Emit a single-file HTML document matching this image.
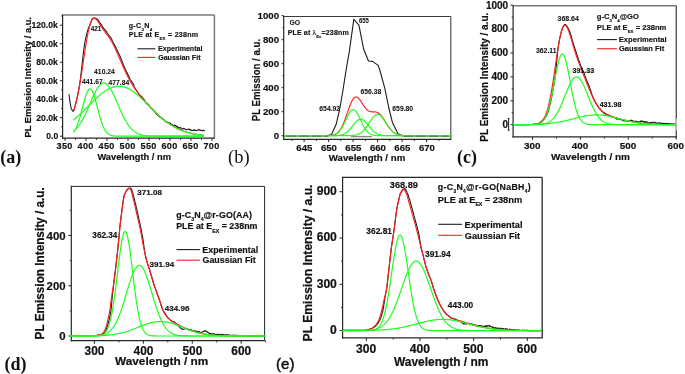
<!DOCTYPE html>
<html><head><meta charset="utf-8"><style>
html,body{margin:0;padding:0;background:#fff;}
svg{display:block;filter:blur(0.4px);}
</style></head><body>
<svg width="685" height="374" viewBox="0 0 685 374" xmlns="http://www.w3.org/2000/svg">
<rect width="685" height="374" fill="#fff"/>
<line x1="62.6" y1="15" x2="214.4" y2="15" stroke="#7a7a7a" stroke-width="1.5"/>
<line x1="214.4" y1="15" x2="214.4" y2="138.1" stroke="#7a7a7a" stroke-width="1.5"/>
<line x1="62.6" y1="14.4" x2="62.6" y2="138.7" stroke="#262626" stroke-width="1.2"/>
<line x1="62" y1="138.1" x2="215" y2="138.1" stroke="#262626" stroke-width="1.2"/>
<line x1="61.1" y1="126.95" x2="62.6" y2="126.95" stroke="#262626" stroke-width="0.9"/>
<line x1="61.1" y1="108.45" x2="62.6" y2="108.45" stroke="#262626" stroke-width="0.9"/>
<line x1="61.1" y1="89.95" x2="62.6" y2="89.95" stroke="#262626" stroke-width="0.9"/>
<line x1="61.1" y1="71.45" x2="62.6" y2="71.45" stroke="#262626" stroke-width="0.9"/>
<line x1="61.1" y1="52.95" x2="62.6" y2="52.95" stroke="#262626" stroke-width="0.9"/>
<line x1="61.1" y1="34.45" x2="62.6" y2="34.45" stroke="#262626" stroke-width="0.9"/>
<line x1="61.1" y1="15.95" x2="62.6" y2="15.95" stroke="#262626" stroke-width="0.9"/>
<line x1="60" y1="136.2" x2="62.6" y2="136.2" stroke="#262626" stroke-width="1.0"/>
<text x="46.21" y="139.1" font-size="8.6" font-weight="bold" font-family='"Liberation Sans", sans-serif' fill="#111" stroke="#111" stroke-width="0.16" textLength="11.96" lengthAdjust="spacing">0.0</text>
<line x1="60" y1="117.7" x2="62.6" y2="117.7" stroke="#262626" stroke-width="1.0"/>
<text x="36.32" y="120.6" font-size="8.6" font-weight="bold" font-family='"Liberation Sans", sans-serif' fill="#111" stroke="#111" stroke-width="0.16" textLength="21.52" lengthAdjust="spacing">20.0k</text>
<line x1="60" y1="99.2" x2="62.6" y2="99.2" stroke="#262626" stroke-width="1.0"/>
<text x="36.32" y="102.1" font-size="8.6" font-weight="bold" font-family='"Liberation Sans", sans-serif' fill="#111" stroke="#111" stroke-width="0.16" textLength="21.52" lengthAdjust="spacing">40.0k</text>
<line x1="60" y1="80.7" x2="62.6" y2="80.7" stroke="#262626" stroke-width="1.0"/>
<text x="36.32" y="83.6" font-size="8.6" font-weight="bold" font-family='"Liberation Sans", sans-serif' fill="#111" stroke="#111" stroke-width="0.16" textLength="21.52" lengthAdjust="spacing">60.0k</text>
<line x1="60" y1="62.2" x2="62.6" y2="62.2" stroke="#262626" stroke-width="1.0"/>
<text x="36.32" y="65.1" font-size="8.6" font-weight="bold" font-family='"Liberation Sans", sans-serif' fill="#111" stroke="#111" stroke-width="0.16" textLength="21.52" lengthAdjust="spacing">80.0k</text>
<line x1="60" y1="43.7" x2="62.6" y2="43.7" stroke="#262626" stroke-width="1.0"/>
<text x="31.51" y="46.6" font-size="8.6" font-weight="bold" font-family='"Liberation Sans", sans-serif' fill="#111" stroke="#111" stroke-width="0.16" textLength="26.3" lengthAdjust="spacing">100.0k</text>
<line x1="60" y1="25.2" x2="62.6" y2="25.2" stroke="#262626" stroke-width="1.0"/>
<text x="31.51" y="28.1" font-size="8.6" font-weight="bold" font-family='"Liberation Sans", sans-serif' fill="#111" stroke="#111" stroke-width="0.16" textLength="26.3" lengthAdjust="spacing">120.0k</text>
<line x1="75.5" y1="138.1" x2="75.5" y2="139.9" stroke="#262626" stroke-width="0.9"/>
<line x1="96.5" y1="138.1" x2="96.5" y2="139.9" stroke="#262626" stroke-width="0.9"/>
<line x1="117.5" y1="138.1" x2="117.5" y2="139.9" stroke="#262626" stroke-width="0.9"/>
<line x1="138.5" y1="138.1" x2="138.5" y2="139.9" stroke="#262626" stroke-width="0.9"/>
<line x1="159.5" y1="138.1" x2="159.5" y2="139.9" stroke="#262626" stroke-width="0.9"/>
<line x1="180.5" y1="138.1" x2="180.5" y2="139.9" stroke="#262626" stroke-width="0.9"/>
<line x1="201.5" y1="138.1" x2="201.5" y2="139.9" stroke="#262626" stroke-width="0.9"/>
<line x1="65" y1="138.1" x2="65" y2="140.9" stroke="#262626" stroke-width="1.0"/>
<text x="56.49" y="149" font-size="9.1" font-weight="bold" font-family='"Liberation Sans", sans-serif' fill="#111" stroke="#111" stroke-width="0.17" textLength="15.88" lengthAdjust="spacing">350</text>
<line x1="86" y1="138.1" x2="86" y2="140.9" stroke="#262626" stroke-width="1.0"/>
<text x="77.54" y="149" font-size="9.1" font-weight="bold" font-family='"Liberation Sans", sans-serif' fill="#111" stroke="#111" stroke-width="0.17" textLength="15.88" lengthAdjust="spacing">400</text>
<line x1="107" y1="138.1" x2="107" y2="140.9" stroke="#262626" stroke-width="1.0"/>
<text x="98.54" y="149" font-size="9.1" font-weight="bold" font-family='"Liberation Sans", sans-serif' fill="#111" stroke="#111" stroke-width="0.17" textLength="15.88" lengthAdjust="spacing">450</text>
<line x1="128" y1="138.1" x2="128" y2="140.9" stroke="#262626" stroke-width="1.0"/>
<text x="119.47" y="149" font-size="9.1" font-weight="bold" font-family='"Liberation Sans", sans-serif' fill="#111" stroke="#111" stroke-width="0.17" textLength="15.88" lengthAdjust="spacing">500</text>
<line x1="149" y1="138.1" x2="149" y2="140.9" stroke="#262626" stroke-width="1.0"/>
<text x="140.47" y="149" font-size="9.1" font-weight="bold" font-family='"Liberation Sans", sans-serif' fill="#111" stroke="#111" stroke-width="0.17" textLength="15.88" lengthAdjust="spacing">550</text>
<line x1="170" y1="138.1" x2="170" y2="140.9" stroke="#262626" stroke-width="1.0"/>
<text x="161.45" y="149" font-size="9.1" font-weight="bold" font-family='"Liberation Sans", sans-serif' fill="#111" stroke="#111" stroke-width="0.17" textLength="15.88" lengthAdjust="spacing">600</text>
<line x1="191" y1="138.1" x2="191" y2="140.9" stroke="#262626" stroke-width="1.0"/>
<text x="182.45" y="149" font-size="9.1" font-weight="bold" font-family='"Liberation Sans", sans-serif' fill="#111" stroke="#111" stroke-width="0.17" textLength="15.88" lengthAdjust="spacing">650</text>
<line x1="212" y1="138.1" x2="212" y2="140.9" stroke="#262626" stroke-width="1.0"/>
<text x="203.4" y="149" font-size="9.1" font-weight="bold" font-family='"Liberation Sans", sans-serif' fill="#111" stroke="#111" stroke-width="0.17" textLength="15.88" lengthAdjust="spacing">700</text>
<text x="97.38" y="160.3" font-size="9.3" font-weight="bold" font-family='"Liberation Sans", sans-serif' fill="#111" stroke="#111" stroke-width="0.17" textLength="73.54" lengthAdjust="spacing">Wavelength / nm</text>
<text transform="translate(30.74,137.53) scale(1.04,1) rotate(-90)" font-size="9.32" font-weight="bold" font-family='"Liberation Sans", sans-serif' fill="#111" stroke="#111" stroke-width="0.17" textLength="120.5" lengthAdjust="spacing">PL Emission Intensity / a.u.</text>
<path d="M69,94.2 L70,102 L71.2,108.5 L72.8,111.3 L73.4,111.26 L73.91,109.83 L74.41,108.23 L74.92,106.73 L75.42,104.67 L75.93,102.82 L76.43,100.53 L76.94,98.44 L77.44,96.03 L77.95,93.48 L78.46,91.16 L78.96,88.74 L79.47,85.51 L79.97,82.08 L80.48,78.52 L80.98,74.09 L81.49,69.75 L82,65.15 L82.5,60.57 L83.01,56.28 L83.51,52.09 L84.02,48.08 L84.52,44.64 L85.03,41.73 L85.53,39.01 L86.04,36.85 L86.55,34.7 L87.05,32.91 L87.56,30.97 L88.06,29.24 L88.57,27.93 L89.07,26.77 L89.58,25.48 L90.09,24.31 L90.59,23.11 L91.1,21.58 L91.6,20.23 L92.13,19 L92.77,18.38 L93.4,17.96 L94.03,18.01 L94.66,17.93 L95.29,18.47 L95.93,18.68 L96.56,18.75 L97.15,18.81 L97.66,19.65 L98.16,19.99 L98.67,20.75 L99.18,21.71 L99.68,22.4 L100.19,23.03 L100.69,24.01 L101.2,24.41 L101.7,25.04 L102.21,25.98 L102.71,26.94 L103.22,27.69 L103.73,28.35 L104.23,29.17 L104.74,29.74 L105.24,29.92 L105.75,30.62 L106.25,31.32 L106.76,32.16 L107.27,33.02 L107.77,33.76 L108.28,34.4 L108.78,35.05 L109.29,35.8 L109.79,36.33 L110.3,37.2 L110.8,37.66 L111.31,38.53 L111.82,39.53 L112.32,40.77 L112.83,41.58 L113.33,42.87 L113.84,43.77 L114.34,44.41 L114.85,45.43 L115.35,46.65 L115.86,47.25 L116.37,48.77 L116.87,49.76 L117.38,50.53 L117.88,51.74 L118.39,53.02 L118.89,53.78 L119.4,54.87 L119.91,55.95 L120.41,57.03 L120.92,58.17 L121.42,59.52 L121.93,60.88 L122.43,62.26 L122.94,63.65 L123.44,64.95 L123.95,66.09 L124.46,67.52 L124.96,68.49 L125.47,69.15 L125.97,70.49 L126.48,71.72 L126.98,72.43 L127.49,73.49 L128,74.85 L128.5,75.88 L129.01,76.52 L129.51,77.89 L130.02,79.24 L130.52,80.1 L131.03,80.72 L131.53,81.56 L132.04,81.92 L132.55,82.82 L133.04,83.45 L133.42,84.47 L133.8,85.4 L134.18,86.67 L134.56,87.27 L134.93,88.1 L135.31,88.58 L135.69,89.61 L136.1,89.92 L136.6,90.41 L137.11,91.25 L137.61,92.31 L138.12,92.92 L138.62,93.69 L139.13,94.73 L139.64,95.16 L140.14,95.32 L140.65,95.74 L141.15,96.45 L141.66,96.57 L142.16,97.15 L142.67,97.94 L143.17,98.7 L143.68,99.1 L144.19,99.85 L144.69,100.83 L145.2,101.75 L145.7,102.36 L146.21,103.24 L146.71,103.92 L147.22,104.04 L147.73,104.05 L148.23,104.23 L148.74,104.9 L149.24,105.5 L149.75,106.51 L150.25,107.03 L150.76,107.91 L151.26,108.19 L151.77,108.73 L152.28,108.88 L152.78,109.95 L153.29,110.14 L153.79,110.68 L154.3,111.19 L154.8,112.02 L155.31,112.37 L155.82,113.22 L156.32,113.84 L156.83,114.43 L157.33,114.59 L157.84,115.04 L158.34,115.62 L158.85,116.13 L159.35,116.31 L159.86,117.01 L160.37,117.56 L160.87,117.82 L161.38,118.12 L161.88,118.54 L162.39,118.85 L162.89,119.13 L163.4,119.27 L163.91,119.66 L164.41,120.36 L164.92,120.87 L165.42,121.27 L165.93,121.77 L166.43,122.15 L166.94,122.23 L167.44,122.29 L167.95,122.66 L168.46,122.78 L168.96,123.08 L169.47,123.05 L169.97,123.42 L170.48,123.13 L170.98,124.19 L171.49,124.34 L172,124.35 L172.5,124.84 L173.01,125.29 L173.51,125.74 L174.02,125.72 L174.52,125.13 L175.03,125.32 L175.53,125.93 L176.04,125.68 L176.55,126.72 L177.05,126.36 L177.56,126.85 L178.06,127.7 L178.57,127.48 L179.07,128.22 L179.58,128.08 L180.08,127.36 L180.59,127.46 L181.1,128.46 L181.6,129.12 L182.11,128.8 L182.61,128.86 L183.12,128.91 L183.62,128.2 L184.13,128.29 L184.64,128.87 L185.14,129.19 L185.65,129.25 L186.15,129.81 L186.66,129.76 L187.16,129.71 L187.67,129.4 L188.17,128.96 L188.68,129.43 L189.19,129.3 L189.69,129.71 L190.2,129.34 L190.7,130.23 L191.21,130.5 L191.71,130.14 L192.22,130.3 L192.73,130.49 L193.23,130.36 L193.74,130.64 L194.24,129.62 L194.75,130.21 L195.25,130.35 L195.76,130.17 L196.26,130.43 L196.77,130.73 L197.28,130.38 L197.78,129.98 L198.29,129.92 L198.79,129.39 L199.3,129.73 L199.8,130.29 L200.31,130.36 L200.82,130.12 L201.32,130.49 L201.83,130.64 L202.33,130.6 L202.84,130.29 L203.34,130.34 L203.85,130.39 L204.35,130.64 L204.86,130.37" fill="none" stroke="#1c1c1c" stroke-width="1.1" stroke-linejoin="round" />
<path d="M73.4,111.26 L73.83,110.04 L74.27,108.73 L74.7,107.34 L75.14,105.86 L75.57,104.3 L76,102.64 L76.44,100.89 L76.87,99.04 L77.31,97.09 L77.74,95.05 L78.17,92.91 L78.61,90.67 L79.04,88.34 L79.48,85.92 L79.91,83.42 L80.34,80.83 L80.78,78.17 L81.21,75.45 L81.65,72.67 L82.08,69.84 L82.51,66.97 L82.95,64.08 L83.38,61.18 L83.82,58.27 L84.25,55.38 L84.68,52.52 L85.12,49.7 L85.55,46.94 L85.99,44.24 L86.42,41.63 L86.85,39.11 L87.29,36.71 L87.72,34.42 L88.16,32.26 L88.59,30.24 L89.02,28.36 L89.46,26.64 L89.89,25.08 L90.33,23.68 L90.76,22.44 L91.19,21.37 L91.63,20.45 L92.06,19.7 L92.5,19.1 L92.93,18.65 L93.36,18.34 L93.8,18.17 L94.23,18.12 L94.67,18.19 L95.1,18.36 L95.53,18.63 L95.97,18.99 L96.4,19.42 L96.84,19.91 L97.27,20.46 L97.7,21.06 L98.14,21.69 L98.57,22.34 L99.01,23.02 L99.44,23.7 L99.87,24.39 L100.31,25.09 L100.74,25.77 L101.18,26.45 L101.61,27.12 L102.04,27.78 L102.48,28.43 L102.91,29.06 L103.35,29.67 L103.78,30.28 L104.21,30.87 L104.65,31.46 L105.08,32.03 L105.52,32.6 L105.95,33.17 L106.38,33.74 L106.82,34.31 L107.25,34.89 L107.69,35.47 L108.12,36.07 L108.55,36.68 L108.99,37.3 L109.42,37.94 L109.86,38.6 L110.29,39.27 L110.72,39.97 L111.16,40.69 L111.59,41.43 L112.03,42.2 L112.46,42.98 L112.89,43.79 L113.33,44.62 L113.76,45.47 L114.2,46.35 L114.63,47.24 L115.06,48.15 L115.5,49.08 L115.93,50.02 L116.37,50.98 L116.8,51.95 L117.23,52.93 L117.67,53.92 L118.1,54.92 L118.54,55.93 L118.97,56.94 L119.4,57.95 L119.84,58.97 L120.27,59.99 L120.71,61 L121.14,62.02 L121.57,63.03 L122.01,64.04 L122.44,65.03 L122.88,66.03 L123.31,67.01 L123.74,67.99 L124.18,68.95 L124.61,69.9 L125.05,70.85 L125.48,71.78 L125.91,72.69 L126.35,73.6 L126.78,74.49 L127.22,75.37 L127.65,76.23 L128.08,77.08 L128.52,77.91 L128.95,78.73 L129.39,79.53 L129.82,80.33 L130.25,81.1 L130.69,81.86 L131.12,82.61 L131.56,83.35 L131.99,84.07 L132.42,84.77 L132.86,85.47 L133.29,86.15 L133.73,86.82 L134.16,87.48 L134.59,88.13 L135.03,88.76 L135.46,89.39 L135.9,90.01 L136.33,90.61 L136.76,91.21 L137.2,91.8 L137.63,92.38 L138.07,92.95 L138.5,93.51 L138.93,94.07 L139.37,94.62 L139.8,95.16 L140.24,95.7 L140.67,96.23 L141.1,96.76 L141.54,97.28 L141.97,97.79 L142.41,98.3 L142.84,98.81 L143.27,99.31 L143.71,99.81 L144.14,100.31 L144.58,100.8 L145.01,101.29 L145.44,101.77 L145.88,102.26 L146.31,102.73 L146.75,103.21 L147.18,103.68 L147.61,104.16 L148.05,104.62 L148.48,105.09 L148.92,105.55 L149.35,106.01 L149.78,106.47 L150.22,106.93 L150.65,107.38 L151.09,107.83 L151.52,108.28 L151.95,108.73 L152.39,109.17 L152.82,109.61 L153.26,110.05 L153.69,110.48 L154.12,110.92 L154.56,111.35 L154.99,111.77 L155.43,112.2 L155.86,112.62 L156.29,113.04 L156.73,113.45 L157.16,113.87 L157.6,114.27 L158.03,114.68 L158.46,115.08 L158.9,115.48 L159.33,115.88 L159.77,116.27 L160.2,116.65 L160.63,117.04 L161.07,117.42 L161.5,117.79 L161.94,118.17 L162.37,118.54 L162.8,118.9 L163.24,119.26 L163.67,119.62 L164.11,119.97 L164.54,120.32 L164.97,120.66 L165.41,121 L165.84,121.33 L166.28,121.66 L166.71,121.99 L167.14,122.31 L167.58,122.63 L168.01,122.94 L168.45,123.25 L168.88,123.55 L169.31,123.85 L169.75,124.14 L170.18,124.43 L170.62,124.72 L171.05,125 L171.48,125.27 L171.92,125.55 L172.35,125.81 L172.79,126.07 L173.22,126.33 L173.65,126.58 L174.09,126.83 L174.52,127.08 L174.96,127.32 L175.39,127.55 L175.82,127.78 L176.26,128.01 L176.69,128.23 L177.13,128.44 L177.56,128.66 L177.99,128.87 L178.43,129.07 L178.86,129.27 L179.3,129.46 L179.73,129.66 L180.16,129.84 L180.6,130.03 L181.03,130.21 L181.47,130.38 L181.9,130.55 L182.33,130.72 L182.77,130.88 L183.2,131.04 L183.64,131.2 L184.07,131.35 L184.5,131.5 L184.94,131.64 L185.37,131.79 L185.81,131.92 L186.24,132.06 L186.67,132.19 L187.11,132.32 L187.54,132.44 L187.98,132.56 L188.41,132.68 L188.84,132.79 L189.28,132.91 L189.71,133.01 L190.15,133.12 L190.58,133.22 L191.01,133.32 L191.45,133.42 L191.88,133.52 L192.32,133.61 L192.75,133.7 L193.18,133.78 L193.62,133.87 L194.05,133.95 L194.49,134.03 L194.92,134.1 L195.35,134.18 L195.79,134.25 L196.22,134.32 L196.66,134.39 L197.09,134.46 L197.52,134.52 L197.96,134.58 L198.39,134.64 L198.83,134.7 L199.26,134.76 L199.69,134.81 L200.13,134.86 L200.56,134.91 L201,134.96 L201.43,135.01 L201.86,135.06 L202.3,135.1 L202.73,135.14 L203.17,135.18 L203.6,135.22" fill="none" stroke="#ff1e1e" stroke-width="1.15" stroke-linejoin="round" />
<path d="M73.4,132.28 L73.83,131.74 L74.27,131.15 L74.7,130.5 L75.14,129.78 L75.57,129 L76,128.15 L76.44,127.23 L76.87,126.24 L77.31,125.17 L77.74,124.04 L78.17,122.83 L78.61,121.56 L79.04,120.22 L79.48,118.81 L79.91,117.35 L80.34,115.83 L80.78,114.27 L81.21,112.66 L81.65,111.02 L82.08,109.36 L82.51,107.69 L82.95,106.02 L83.38,104.36 L83.82,102.72 L84.25,101.12 L84.68,99.56 L85.12,98.07 L85.55,96.65 L85.99,95.31 L86.42,94.08 L86.85,92.96 L87.29,91.95 L87.72,91.08 L88.16,90.35 L88.59,89.76 L89.02,89.33 L89.46,89.05 L89.89,88.94 L90.33,88.98 L90.76,89.19 L91.19,89.55 L91.63,90.07 L92.06,90.73 L92.5,91.54 L92.93,92.49 L93.36,93.56 L93.8,94.74 L94.23,96.03 L94.67,97.42 L95.1,98.88 L95.53,100.41 L95.97,101.99 L96.4,103.62 L96.84,105.27 L97.27,106.94 L97.7,108.61 L98.14,110.28 L98.57,111.92 L99.01,113.55 L99.44,115.13 L99.87,116.67 L100.31,118.16 L100.74,119.59 L101.18,120.96 L101.61,122.27 L102.04,123.5 L102.48,124.67 L102.91,125.77 L103.35,126.79 L103.78,127.74 L104.21,128.62 L104.65,129.43 L105.08,130.18 L105.52,130.86 L105.95,131.48 L106.38,132.05 L106.82,132.55 L107.25,133.01 L107.69,133.42 L108.12,133.78 L108.55,134.11 L108.99,134.4 L109.42,134.65 L109.86,134.87 L110.29,135.06 L110.72,135.23 L111.16,135.38 L111.59,135.51 L112.03,135.62 L112.46,135.71 L112.89,135.79 L113.33,135.86 L113.76,135.92 L114.2,135.96 L114.63,136.01 L115.06,136.04 L115.5,136.07 L115.93,136.09 L116.37,136.11 L116.8,136.13 L117.23,136.14 L117.67,136.15 L118.1,136.16 L118.54,136.17 L118.97,136.18 L119.4,136.18 L119.84,136.19 L120.27,136.19 L120.71,136.19 L121.14,136.19 L121.57,136.19 L122.01,136.2 L122.44,136.2 L122.88,136.2 L123.31,136.2 L123.74,136.2 L124.18,136.2 L124.61,136.2 L125.05,136.2 L125.48,136.2 L125.91,136.2 L126.35,136.2 L126.78,136.2 L127.22,136.2 L127.65,136.2 L128.08,136.2 L128.52,136.2 L128.95,136.2 L129.39,136.2 L129.82,136.2 L130.25,136.2 L130.69,136.2 L131.12,136.2 L131.56,136.2 L131.99,136.2 L132.42,136.2 L132.86,136.2 L133.29,136.2 L133.73,136.2 L134.16,136.2 L134.59,136.2 L135.03,136.2 L135.46,136.2 L135.9,136.2 L136.33,136.2 L136.76,136.2 L137.2,136.2 L137.63,136.2 L138.07,136.2 L138.5,136.2 L138.93,136.2 L139.37,136.2 L139.8,136.2 L140.24,136.2 L140.67,136.2 L141.1,136.2 L141.54,136.2 L141.97,136.2 L142.41,136.2 L142.84,136.2 L143.27,136.2 L143.71,136.2 L144.14,136.2 L144.58,136.2 L145.01,136.2 L145.44,136.2 L145.88,136.2 L146.31,136.2 L146.75,136.2 L147.18,136.2 L147.61,136.2 L148.05,136.2 L148.48,136.2 L148.92,136.2 L149.35,136.2 L149.78,136.2 L150.22,136.2 L150.65,136.2 L151.09,136.2 L151.52,136.2 L151.95,136.2 L152.39,136.2 L152.82,136.2 L153.26,136.2 L153.69,136.2 L154.12,136.2 L154.56,136.2 L154.99,136.2 L155.43,136.2 L155.86,136.2 L156.29,136.2 L156.73,136.2 L157.16,136.2 L157.6,136.2 L158.03,136.2 L158.46,136.2 L158.9,136.2 L159.33,136.2 L159.77,136.2 L160.2,136.2 L160.63,136.2 L161.07,136.2 L161.5,136.2 L161.94,136.2 L162.37,136.2 L162.8,136.2 L163.24,136.2 L163.67,136.2 L164.11,136.2 L164.54,136.2 L164.97,136.2 L165.41,136.2 L165.84,136.2 L166.28,136.2 L166.71,136.2 L167.14,136.2 L167.58,136.2 L168.01,136.2 L168.45,136.2 L168.88,136.2 L169.31,136.2 L169.75,136.2 L170.18,136.2 L170.62,136.2 L171.05,136.2 L171.48,136.2 L171.92,136.2 L172.35,136.2 L172.79,136.2 L173.22,136.2 L173.65,136.2 L174.09,136.2 L174.52,136.2 L174.96,136.2 L175.39,136.2 L175.82,136.2 L176.26,136.2 L176.69,136.2 L177.13,136.2 L177.56,136.2 L177.99,136.2 L178.43,136.2 L178.86,136.2 L179.3,136.2 L179.73,136.2 L180.16,136.2 L180.6,136.2 L181.03,136.2 L181.47,136.2 L181.9,136.2 L182.33,136.2 L182.77,136.2 L183.2,136.2 L183.64,136.2 L184.07,136.2 L184.5,136.2 L184.94,136.2 L185.37,136.2 L185.81,136.2 L186.24,136.2 L186.67,136.2 L187.11,136.2 L187.54,136.2 L187.98,136.2 L188.41,136.2 L188.84,136.2 L189.28,136.2 L189.71,136.2 L190.15,136.2 L190.58,136.2 L191.01,136.2 L191.45,136.2 L191.88,136.2 L192.32,136.2 L192.75,136.2 L193.18,136.2 L193.62,136.2 L194.05,136.2 L194.49,136.2 L194.92,136.2 L195.35,136.2 L195.79,136.2 L196.22,136.2 L196.66,136.2 L197.09,136.2 L197.52,136.2 L197.96,136.2 L198.39,136.2 L198.83,136.2 L199.26,136.2 L199.69,136.2 L200.13,136.2 L200.56,136.2 L201,136.2 L201.43,136.2 L201.86,136.2 L202.3,136.2 L202.73,136.2 L203.17,136.2 L203.6,136.2" fill="none" stroke="#1cff1c" stroke-width="1.2" stroke-linejoin="round" />
<path d="M73.4,131.4 L73.83,131.06 L74.27,130.7 L74.7,130.33 L75.14,129.93 L75.57,129.51 L76,129.08 L76.44,128.62 L76.87,128.14 L77.31,127.64 L77.74,127.11 L78.17,126.57 L78.61,126 L79.04,125.4 L79.48,124.79 L79.91,124.15 L80.34,123.49 L80.78,122.8 L81.21,122.09 L81.65,121.36 L82.08,120.61 L82.51,119.83 L82.95,119.03 L83.38,118.21 L83.82,117.37 L84.25,116.51 L84.68,115.63 L85.12,114.74 L85.55,113.82 L85.99,112.89 L86.42,111.95 L86.85,110.99 L87.29,110.01 L87.72,109.03 L88.16,108.04 L88.59,107.04 L89.02,106.04 L89.46,105.03 L89.89,104.01 L90.33,103 L90.76,101.99 L91.19,100.99 L91.63,99.99 L92.06,98.99 L92.5,98.01 L92.93,97.04 L93.36,96.09 L93.8,95.15 L94.23,94.23 L94.67,93.34 L95.1,92.46 L95.53,91.62 L95.97,90.8 L96.4,90.01 L96.84,89.25 L97.27,88.53 L97.7,87.84 L98.14,87.2 L98.57,86.59 L99.01,86.02 L99.44,85.5 L99.87,85.02 L100.31,84.59 L100.74,84.21 L101.18,83.87 L101.61,83.59 L102.04,83.35 L102.48,83.16 L102.91,83.03 L103.35,82.95 L103.78,82.92 L104.21,82.94 L104.65,83.02 L105.08,83.14 L105.52,83.32 L105.95,83.55 L106.38,83.83 L106.82,84.16 L107.25,84.54 L107.69,84.97 L108.12,85.44 L108.55,85.95 L108.99,86.51 L109.42,87.12 L109.86,87.76 L110.29,88.44 L110.72,89.16 L111.16,89.91 L111.59,90.69 L112.03,91.51 L112.46,92.35 L112.89,93.22 L113.33,94.12 L113.76,95.03 L114.2,95.97 L114.63,96.92 L115.06,97.89 L115.5,98.87 L115.93,99.86 L116.37,100.86 L116.8,101.86 L117.23,102.87 L117.67,103.88 L118.1,104.9 L118.54,105.91 L118.97,106.91 L119.4,107.91 L119.84,108.9 L120.27,109.89 L120.71,110.86 L121.14,111.82 L121.57,112.77 L122.01,113.7 L122.44,114.62 L122.88,115.52 L123.31,116.4 L123.74,117.26 L124.18,118.11 L124.61,118.93 L125.05,119.73 L125.48,120.51 L125.91,121.27 L126.35,122 L126.78,122.71 L127.22,123.4 L127.65,124.07 L128.08,124.71 L128.52,125.33 L128.95,125.92 L129.39,126.49 L129.82,127.04 L130.25,127.57 L130.69,128.08 L131.12,128.56 L131.56,129.02 L131.99,129.46 L132.42,129.88 L132.86,130.28 L133.29,130.65 L133.73,131.01 L134.16,131.36 L134.59,131.68 L135.03,131.99 L135.46,132.27 L135.9,132.55 L136.33,132.8 L136.76,133.05 L137.2,133.27 L137.63,133.49 L138.07,133.69 L138.5,133.88 L138.93,134.05 L139.37,134.22 L139.8,134.37 L140.24,134.52 L140.67,134.65 L141.1,134.77 L141.54,134.89 L141.97,135 L142.41,135.1 L142.84,135.19 L143.27,135.28 L143.71,135.35 L144.14,135.43 L144.58,135.5 L145.01,135.56 L145.44,135.62 L145.88,135.67 L146.31,135.72 L146.75,135.76 L147.18,135.8 L147.61,135.84 L148.05,135.87 L148.48,135.9 L148.92,135.93 L149.35,135.96 L149.78,135.98 L150.22,136 L150.65,136.02 L151.09,136.04 L151.52,136.06 L151.95,136.07 L152.39,136.09 L152.82,136.1 L153.26,136.11 L153.69,136.12 L154.12,136.13 L154.56,136.13 L154.99,136.14 L155.43,136.15 L155.86,136.15 L156.29,136.16 L156.73,136.16 L157.16,136.17 L157.6,136.17 L158.03,136.17 L158.46,136.18 L158.9,136.18 L159.33,136.18 L159.77,136.18 L160.2,136.19 L160.63,136.19 L161.07,136.19 L161.5,136.19 L161.94,136.19 L162.37,136.19 L162.8,136.19 L163.24,136.19 L163.67,136.2 L164.11,136.2 L164.54,136.2 L164.97,136.2 L165.41,136.2 L165.84,136.2 L166.28,136.2 L166.71,136.2 L167.14,136.2 L167.58,136.2 L168.01,136.2 L168.45,136.2 L168.88,136.2 L169.31,136.2 L169.75,136.2 L170.18,136.2 L170.62,136.2 L171.05,136.2 L171.48,136.2 L171.92,136.2 L172.35,136.2 L172.79,136.2 L173.22,136.2 L173.65,136.2 L174.09,136.2 L174.52,136.2 L174.96,136.2 L175.39,136.2 L175.82,136.2 L176.26,136.2 L176.69,136.2 L177.13,136.2 L177.56,136.2 L177.99,136.2 L178.43,136.2 L178.86,136.2 L179.3,136.2 L179.73,136.2 L180.16,136.2 L180.6,136.2 L181.03,136.2 L181.47,136.2 L181.9,136.2 L182.33,136.2 L182.77,136.2 L183.2,136.2 L183.64,136.2 L184.07,136.2 L184.5,136.2 L184.94,136.2 L185.37,136.2 L185.81,136.2 L186.24,136.2 L186.67,136.2 L187.11,136.2 L187.54,136.2 L187.98,136.2 L188.41,136.2 L188.84,136.2 L189.28,136.2 L189.71,136.2 L190.15,136.2 L190.58,136.2 L191.01,136.2 L191.45,136.2 L191.88,136.2 L192.32,136.2 L192.75,136.2 L193.18,136.2 L193.62,136.2 L194.05,136.2 L194.49,136.2 L194.92,136.2 L195.35,136.2 L195.79,136.2 L196.22,136.2 L196.66,136.2 L197.09,136.2 L197.52,136.2 L197.96,136.2 L198.39,136.2 L198.83,136.2 L199.26,136.2 L199.69,136.2 L200.13,136.2 L200.56,136.2 L201,136.2 L201.43,136.2 L201.86,136.2 L202.3,136.2 L202.73,136.2 L203.17,136.2 L203.6,136.2" fill="none" stroke="#1cff1c" stroke-width="1.2" stroke-linejoin="round" />
<path d="M73.4,119.98 L73.83,119.63 L74.27,119.28 L74.7,118.92 L75.14,118.55 L75.57,118.19 L76,117.82 L76.44,117.44 L76.87,117.06 L77.31,116.68 L77.74,116.29 L78.17,115.91 L78.61,115.51 L79.04,115.12 L79.48,114.72 L79.91,114.32 L80.34,113.91 L80.78,113.5 L81.21,113.09 L81.65,112.68 L82.08,112.26 L82.51,111.85 L82.95,111.43 L83.38,111 L83.82,110.58 L84.25,110.15 L84.68,109.73 L85.12,109.3 L85.55,108.87 L85.99,108.44 L86.42,108 L86.85,107.57 L87.29,107.14 L87.72,106.7 L88.16,106.27 L88.59,105.83 L89.02,105.4 L89.46,104.96 L89.89,104.53 L90.33,104.1 L90.76,103.66 L91.19,103.23 L91.63,102.8 L92.06,102.37 L92.5,101.94 L92.93,101.52 L93.36,101.09 L93.8,100.67 L94.23,100.25 L94.67,99.83 L95.1,99.42 L95.53,99.01 L95.97,98.6 L96.4,98.2 L96.84,97.79 L97.27,97.4 L97.7,97 L98.14,96.61 L98.57,96.23 L99.01,95.85 L99.44,95.47 L99.87,95.1 L100.31,94.73 L100.74,94.37 L101.18,94.02 L101.61,93.67 L102.04,93.33 L102.48,92.99 L102.91,92.66 L103.35,92.34 L103.78,92.02 L104.21,91.71 L104.65,91.4 L105.08,91.11 L105.52,90.82 L105.95,90.54 L106.38,90.26 L106.82,90 L107.25,89.74 L107.69,89.49 L108.12,89.25 L108.55,89.02 L108.99,88.79 L109.42,88.58 L109.86,88.37 L110.29,88.17 L110.72,87.98 L111.16,87.8 L111.59,87.63 L112.03,87.47 L112.46,87.32 L112.89,87.18 L113.33,87.05 L113.76,86.93 L114.2,86.82 L114.63,86.71 L115.06,86.62 L115.5,86.54 L115.93,86.47 L116.37,86.41 L116.8,86.35 L117.23,86.31 L117.67,86.28 L118.1,86.26 L118.54,86.25 L118.97,86.25 L119.4,86.26 L119.84,86.28 L120.27,86.31 L120.71,86.35 L121.14,86.4 L121.57,86.47 L122.01,86.54 L122.44,86.62 L122.88,86.71 L123.31,86.81 L123.74,86.92 L124.18,87.05 L124.61,87.18 L125.05,87.32 L125.48,87.47 L125.91,87.63 L126.35,87.8 L126.78,87.98 L127.22,88.17 L127.65,88.36 L128.08,88.57 L128.52,88.78 L128.95,89.01 L129.39,89.24 L129.82,89.48 L130.25,89.73 L130.69,89.99 L131.12,90.25 L131.56,90.53 L131.99,90.81 L132.42,91.1 L132.86,91.39 L133.29,91.7 L133.73,92.01 L134.16,92.32 L134.59,92.65 L135.03,92.98 L135.46,93.32 L135.9,93.66 L136.33,94.01 L136.76,94.36 L137.2,94.72 L137.63,95.09 L138.07,95.46 L138.5,95.83 L138.93,96.22 L139.37,96.6 L139.8,96.99 L140.24,97.38 L140.67,97.78 L141.1,98.18 L141.54,98.59 L141.97,99 L142.41,99.41 L142.84,99.82 L143.27,100.24 L143.71,100.66 L144.14,101.08 L144.58,101.5 L145.01,101.93 L145.44,102.36 L145.88,102.79 L146.31,103.22 L146.75,103.65 L147.18,104.08 L147.61,104.52 L148.05,104.95 L148.48,105.38 L148.92,105.82 L149.35,106.25 L149.78,106.69 L150.22,107.12 L150.65,107.56 L151.09,107.99 L151.52,108.42 L151.95,108.85 L152.39,109.28 L152.82,109.71 L153.26,110.14 L153.69,110.57 L154.12,110.99 L154.56,111.41 L154.99,111.83 L155.43,112.25 L155.86,112.67 L156.29,113.08 L156.73,113.49 L157.16,113.9 L157.6,114.3 L158.03,114.7 L158.46,115.1 L158.9,115.5 L159.33,115.89 L159.77,116.28 L160.2,116.67 L160.63,117.05 L161.07,117.43 L161.5,117.8 L161.94,118.18 L162.37,118.54 L162.8,118.91 L163.24,119.27 L163.67,119.62 L164.11,119.97 L164.54,120.32 L164.97,120.66 L165.41,121 L165.84,121.34 L166.28,121.67 L166.71,121.99 L167.14,122.31 L167.58,122.63 L168.01,122.94 L168.45,123.25 L168.88,123.55 L169.31,123.85 L169.75,124.14 L170.18,124.43 L170.62,124.72 L171.05,125 L171.48,125.27 L171.92,125.55 L172.35,125.81 L172.79,126.07 L173.22,126.33 L173.65,126.58 L174.09,126.83 L174.52,127.08 L174.96,127.32 L175.39,127.55 L175.82,127.78 L176.26,128.01 L176.69,128.23 L177.13,128.44 L177.56,128.66 L177.99,128.87 L178.43,129.07 L178.86,129.27 L179.3,129.47 L179.73,129.66 L180.16,129.84 L180.6,130.03 L181.03,130.21 L181.47,130.38 L181.9,130.55 L182.33,130.72 L182.77,130.88 L183.2,131.04 L183.64,131.2 L184.07,131.35 L184.5,131.5 L184.94,131.64 L185.37,131.79 L185.81,131.92 L186.24,132.06 L186.67,132.19 L187.11,132.32 L187.54,132.44 L187.98,132.56 L188.41,132.68 L188.84,132.79 L189.28,132.91 L189.71,133.01 L190.15,133.12 L190.58,133.22 L191.01,133.32 L191.45,133.42 L191.88,133.52 L192.32,133.61 L192.75,133.7 L193.18,133.78 L193.62,133.87 L194.05,133.95 L194.49,134.03 L194.92,134.1 L195.35,134.18 L195.79,134.25 L196.22,134.32 L196.66,134.39 L197.09,134.46 L197.52,134.52 L197.96,134.58 L198.39,134.64 L198.83,134.7 L199.26,134.76 L199.69,134.81 L200.13,134.86 L200.56,134.91 L201,134.96 L201.43,135.01 L201.86,135.06 L202.3,135.1 L202.73,135.14 L203.17,135.18 L203.6,135.22" fill="none" stroke="#1cff1c" stroke-width="1.2" stroke-linejoin="round" />
<text x="90.68" y="31.17" font-size="6.43" font-weight="bold" font-family='"Liberation Sans", sans-serif' fill="#111" stroke="#111" stroke-width="0.05" textLength="10.73" lengthAdjust="spacing">421</text>
<text x="94.12" y="73.8" font-size="6.75" font-weight="bold" font-family='"Liberation Sans", sans-serif' fill="#111" stroke="#111" stroke-width="0.05" textLength="20.66" lengthAdjust="spacing">410.24</text>
<text x="81.97" y="83.67" font-size="6.85" font-weight="bold" font-family='"Liberation Sans", sans-serif' fill="#111" stroke="#111" stroke-width="0.05" textLength="20.95" lengthAdjust="spacing">441.67</text>
<text x="108.57" y="85.23" font-size="6.76" font-weight="bold" font-family='"Liberation Sans", sans-serif' fill="#111" stroke="#111" stroke-width="0.05" textLength="20.68" lengthAdjust="spacing">477.84</text>
<text x="128.65" y="27.5" font-size="7.1" font-weight="bold" font-family='"Liberation Sans", sans-serif' fill="#111" stroke="#111" stroke-width="0.14" textLength="23.56" lengthAdjust="spacing">g-C<tspan font-size="4.4" dy="3.0">3</tspan><tspan dy="-3.0">N</tspan><tspan font-size="4.4" dy="3.0">4</tspan></text>
<text x="128.65" y="37.4" font-size="7.1" font-weight="bold" font-family='"Liberation Sans", sans-serif' fill="#111" stroke="#111" stroke-width="0.14" textLength="69.46" lengthAdjust="spacing">PLE at E<tspan font-size="4.4" dy="2.8">EX</tspan><tspan dy="-2.8"> = 238nm</tspan></text>
<line x1="137.5" y1="48.8" x2="155.3" y2="48.8" stroke="#1c1c1c" stroke-width="1.1"/>
<line x1="137.5" y1="57.4" x2="155.3" y2="57.4" stroke="#ff1e1e" stroke-width="1.1"/>
<text x="158.02" y="51.2" font-size="7.07" font-weight="bold" font-family='"Liberation Sans", sans-serif' fill="#111" stroke="#111" stroke-width="0.14" textLength="44.41" lengthAdjust="spacing">Experimental</text>
<text x="158.19" y="59.8" font-size="7.05" font-weight="bold" font-family='"Liberation Sans", sans-serif' fill="#111" stroke="#111" stroke-width="0.14" textLength="42.31" lengthAdjust="spacing">Gaussian Fit</text>
<text transform="translate(0.2,163)" font-size="18" text-anchor="start" font-weight="bold" font-family='"Liberation Serif", serif' fill="#111">(a)</text>
<line x1="283.7" y1="16.4" x2="450.8" y2="16.4" stroke="#3a3a3a" stroke-width="1.05"/>
<line x1="450.8" y1="16.4" x2="450.8" y2="139.3" stroke="#3a3a3a" stroke-width="1.05"/>
<line x1="283.7" y1="15.8" x2="283.7" y2="139.9" stroke="#262626" stroke-width="1.2"/>
<line x1="283.1" y1="139.3" x2="451.4" y2="139.3" stroke="#262626" stroke-width="1.2"/>
<line x1="282.4" y1="123.7" x2="283.7" y2="123.7" stroke="#262626" stroke-width="0.9"/>
<line x1="282.4" y1="99.7" x2="283.7" y2="99.7" stroke="#262626" stroke-width="0.9"/>
<line x1="282.4" y1="75.7" x2="283.7" y2="75.7" stroke="#262626" stroke-width="0.9"/>
<line x1="282.4" y1="51.7" x2="283.7" y2="51.7" stroke="#262626" stroke-width="0.9"/>
<line x1="282.4" y1="27.7" x2="283.7" y2="27.7" stroke="#262626" stroke-width="0.9"/>
<line x1="281.5" y1="135.7" x2="283.7" y2="135.7" stroke="#262626" stroke-width="1.0"/>
<text x="273.73" y="138.7" font-size="9.7" font-weight="bold" font-family='"Liberation Sans", sans-serif' fill="#111" stroke="#111" stroke-width="0.18" textLength="5.39" lengthAdjust="spacing">0</text>
<line x1="281.5" y1="111.7" x2="283.7" y2="111.7" stroke="#262626" stroke-width="1.0"/>
<text x="262.96" y="114.7" font-size="9.7" font-weight="bold" font-family='"Liberation Sans", sans-serif' fill="#111" stroke="#111" stroke-width="0.18" textLength="16.18" lengthAdjust="spacing">200</text>
<line x1="281.5" y1="87.7" x2="283.7" y2="87.7" stroke="#262626" stroke-width="1.0"/>
<text x="262.96" y="90.7" font-size="9.7" font-weight="bold" font-family='"Liberation Sans", sans-serif' fill="#111" stroke="#111" stroke-width="0.18" textLength="16.18" lengthAdjust="spacing">400</text>
<line x1="281.5" y1="63.7" x2="283.7" y2="63.7" stroke="#262626" stroke-width="1.0"/>
<text x="262.96" y="66.7" font-size="9.7" font-weight="bold" font-family='"Liberation Sans", sans-serif' fill="#111" stroke="#111" stroke-width="0.18" textLength="16.18" lengthAdjust="spacing">600</text>
<line x1="281.5" y1="39.7" x2="283.7" y2="39.7" stroke="#262626" stroke-width="1.0"/>
<text x="262.96" y="42.7" font-size="9.7" font-weight="bold" font-family='"Liberation Sans", sans-serif' fill="#111" stroke="#111" stroke-width="0.18" textLength="16.18" lengthAdjust="spacing">800</text>
<line x1="281.5" y1="15.7" x2="283.7" y2="15.7" stroke="#262626" stroke-width="1.0"/>
<text x="257.53" y="18.7" font-size="9.7" font-weight="bold" font-family='"Liberation Sans", sans-serif' fill="#111" stroke="#111" stroke-width="0.18" textLength="21.58" lengthAdjust="spacing">1000</text>
<line x1="291.85" y1="139.3" x2="291.85" y2="141.1" stroke="#262626" stroke-width="0.9"/>
<line x1="316.35" y1="139.3" x2="316.35" y2="141.1" stroke="#262626" stroke-width="0.9"/>
<line x1="340.85" y1="139.3" x2="340.85" y2="141.1" stroke="#262626" stroke-width="0.9"/>
<line x1="365.35" y1="139.3" x2="365.35" y2="141.1" stroke="#262626" stroke-width="0.9"/>
<line x1="389.85" y1="139.3" x2="389.85" y2="141.1" stroke="#262626" stroke-width="0.9"/>
<line x1="414.35" y1="139.3" x2="414.35" y2="141.1" stroke="#262626" stroke-width="0.9"/>
<line x1="438.85" y1="139.3" x2="438.85" y2="141.1" stroke="#262626" stroke-width="0.9"/>
<line x1="304.1" y1="139.3" x2="304.1" y2="142.1" stroke="#262626" stroke-width="1.0"/>
<text x="296.31" y="150.96" font-size="9.6" font-weight="bold" font-family='"Liberation Sans", sans-serif' fill="#111" stroke="#111" stroke-width="0.17" textLength="16.02" lengthAdjust="spacing">645</text>
<line x1="328.6" y1="139.3" x2="328.6" y2="142.1" stroke="#262626" stroke-width="1.0"/>
<text x="320.88" y="150.96" font-size="9.6" font-weight="bold" font-family='"Liberation Sans", sans-serif' fill="#111" stroke="#111" stroke-width="0.17" textLength="16.02" lengthAdjust="spacing">650</text>
<line x1="353.1" y1="139.3" x2="353.1" y2="142.1" stroke="#262626" stroke-width="1.0"/>
<text x="345.31" y="150.96" font-size="9.6" font-weight="bold" font-family='"Liberation Sans", sans-serif' fill="#111" stroke="#111" stroke-width="0.17" textLength="16.02" lengthAdjust="spacing">655</text>
<line x1="377.6" y1="139.3" x2="377.6" y2="142.1" stroke="#262626" stroke-width="1.0"/>
<text x="369.88" y="150.96" font-size="9.6" font-weight="bold" font-family='"Liberation Sans", sans-serif' fill="#111" stroke="#111" stroke-width="0.17" textLength="16.02" lengthAdjust="spacing">660</text>
<line x1="402.1" y1="139.3" x2="402.1" y2="142.1" stroke="#262626" stroke-width="1.0"/>
<text x="394.31" y="150.96" font-size="9.6" font-weight="bold" font-family='"Liberation Sans", sans-serif' fill="#111" stroke="#111" stroke-width="0.17" textLength="16.02" lengthAdjust="spacing">665</text>
<line x1="426.6" y1="139.3" x2="426.6" y2="142.1" stroke="#262626" stroke-width="1.0"/>
<text x="418.88" y="150.96" font-size="9.6" font-weight="bold" font-family='"Liberation Sans", sans-serif' fill="#111" stroke="#111" stroke-width="0.17" textLength="16.02" lengthAdjust="spacing">670</text>
<text x="328.78" y="160.86" font-size="9.67" font-weight="bold" font-family='"Liberation Sans", sans-serif' fill="#111" stroke="#111" stroke-width="0.18" textLength="76.46" lengthAdjust="spacing">Wavelength / nm</text>
<text transform="translate(259.75,121.2) scale(1.1,1) rotate(-90)" font-size="9.64" font-weight="bold" font-family='"Liberation Sans", sans-serif' fill="#111" stroke="#111" stroke-width="0.17" textLength="82.3" lengthAdjust="spacing">PL Emission / a.u.</text>
<path d="M284,135.9 L326.9,135.9 L331.5,134.6 L336.2,124.3 L340,107.5 L343,90 L346.1,70 L349.3,51.7 L353.8,19.3 L358.9,25.2 L363.7,49.3 L368.5,61 L372.5,61.4 L378.2,65.4 L379.8,70 L384.9,88.7 L388.7,107.5 L392.4,122.4 L398,133.7 L402.7,135.9 L450,135.9" fill="none" stroke="#1c1c1c" stroke-width="1.1" stroke-linejoin="round" />
<line x1="351" y1="136.6" x2="372" y2="136.6" stroke="#8a8a8a" stroke-width="1.4"/>
<path d="M284.5,135.7 L284.92,135.7 L285.34,135.7 L285.76,135.7 L286.18,135.7 L286.59,135.7 L287.01,135.7 L287.43,135.7 L287.85,135.7 L288.27,135.7 L288.69,135.7 L289.11,135.7 L289.53,135.7 L289.95,135.7 L290.37,135.7 L290.78,135.7 L291.2,135.7 L291.62,135.7 L292.04,135.7 L292.46,135.7 L292.88,135.7 L293.3,135.7 L293.72,135.7 L294.14,135.7 L294.55,135.7 L294.97,135.7 L295.39,135.7 L295.81,135.7 L296.23,135.7 L296.65,135.7 L297.07,135.7 L297.49,135.7 L297.91,135.7 L298.33,135.7 L298.74,135.7 L299.16,135.7 L299.58,135.7 L300,135.7 L300.42,135.7 L300.84,135.7 L301.26,135.7 L301.68,135.7 L302.1,135.7 L302.51,135.7 L302.93,135.7 L303.35,135.7 L303.77,135.7 L304.19,135.7 L304.61,135.7 L305.03,135.7 L305.45,135.7 L305.87,135.7 L306.29,135.7 L306.7,135.7 L307.12,135.7 L307.54,135.7 L307.96,135.7 L308.38,135.7 L308.8,135.7 L309.22,135.7 L309.64,135.7 L310.06,135.7 L310.47,135.7 L310.89,135.7 L311.31,135.7 L311.73,135.7 L312.15,135.7 L312.57,135.7 L312.99,135.7 L313.41,135.7 L313.83,135.7 L314.25,135.7 L314.66,135.7 L315.08,135.7 L315.5,135.7 L315.92,135.7 L316.34,135.7 L316.76,135.7 L317.18,135.7 L317.6,135.7 L318.02,135.7 L318.43,135.7 L318.85,135.7 L319.27,135.7 L319.69,135.7 L320.11,135.7 L320.53,135.7 L320.95,135.7 L321.37,135.7 L321.79,135.7 L322.21,135.7 L322.62,135.7 L323.04,135.69 L323.46,135.69 L323.88,135.69 L324.3,135.69 L324.72,135.69 L325.14,135.68 L325.56,135.68 L325.98,135.67 L326.39,135.67 L326.81,135.66 L327.23,135.65 L327.65,135.64 L328.07,135.62 L328.49,135.6 L328.91,135.58 L329.33,135.56 L329.75,135.53 L330.17,135.5 L330.58,135.46 L331,135.41 L331.42,135.36 L331.84,135.3 L332.26,135.23 L332.68,135.14 L333.1,135.05 L333.52,134.94 L333.94,134.81 L334.36,134.67 L334.77,134.51 L335.19,134.32 L335.61,134.12 L336.03,133.88 L336.45,133.62 L336.87,133.33 L337.29,133.01 L337.71,132.65 L338.13,132.26 L338.54,131.83 L338.96,131.36 L339.38,130.84 L339.8,130.29 L340.22,129.68 L340.64,129.03 L341.06,128.33 L341.48,127.59 L341.9,126.79 L342.32,125.95 L342.73,125.06 L343.15,124.13 L343.57,123.15 L343.99,122.12 L344.41,121.06 L344.83,119.96 L345.25,118.83 L345.67,117.68 L346.09,116.49 L346.5,115.3 L346.92,114.09 L347.34,112.87 L347.76,111.65 L348.18,110.45 L348.6,109.25 L349.02,108.08 L349.44,106.93 L349.86,105.82 L350.28,104.75 L350.69,103.73 L351.11,102.76 L351.53,101.86 L351.95,101.02 L352.37,100.25 L352.79,99.55 L353.21,98.93 L353.63,98.4 L354.05,97.95 L354.46,97.58 L354.88,97.3 L355.3,97.1 L355.72,96.99 L356.14,96.96 L356.56,97.01 L356.98,97.14 L357.4,97.34 L357.82,97.61 L358.24,97.95 L358.65,98.35 L359.07,98.8 L359.49,99.3 L359.91,99.84 L360.33,100.42 L360.75,101.02 L361.17,101.66 L361.59,102.3 L362.01,102.96 L362.42,103.62 L362.84,104.28 L363.26,104.93 L363.68,105.57 L364.1,106.19 L364.52,106.79 L364.94,107.37 L365.36,107.91 L365.78,108.42 L366.2,108.9 L366.61,109.34 L367.03,109.74 L367.45,110.1 L367.87,110.43 L368.29,110.71 L368.71,110.96 L369.13,111.17 L369.55,111.34 L369.97,111.48 L370.38,111.6 L370.8,111.68 L371.22,111.74 L371.64,111.79 L372.06,111.82 L372.48,111.83 L372.9,111.84 L373.32,111.85 L373.74,111.85 L374.16,111.86 L374.57,111.89 L374.99,111.92 L375.41,111.97 L375.83,112.05 L376.25,112.15 L376.67,112.27 L377.09,112.42 L377.51,112.61 L377.93,112.83 L378.34,113.08 L378.76,113.37 L379.18,113.69 L379.6,114.05 L380.02,114.44 L380.44,114.87 L380.86,115.33 L381.28,115.82 L381.7,116.35 L382.12,116.9 L382.53,117.47 L382.95,118.07 L383.37,118.68 L383.79,119.32 L384.21,119.96 L384.63,120.62 L385.05,121.28 L385.47,121.95 L385.89,122.61 L386.3,123.28 L386.72,123.94 L387.14,124.59 L387.56,125.23 L387.98,125.86 L388.4,126.48 L388.82,127.07 L389.24,127.65 L389.66,128.21 L390.08,128.75 L390.49,129.26 L390.91,129.75 L391.33,130.22 L391.75,130.66 L392.17,131.08 L392.59,131.48 L393.01,131.85 L393.43,132.19 L393.85,132.52 L394.26,132.82 L394.68,133.1 L395.1,133.36 L395.52,133.59 L395.94,133.81 L396.36,134.01 L396.78,134.2 L397.2,134.36 L397.62,134.51 L398.04,134.65 L398.45,134.77 L398.87,134.88 L399.29,134.98 L399.71,135.07 L400.13,135.15 L400.55,135.22 L400.97,135.28 L401.39,135.34 L401.81,135.39 L402.22,135.43 L402.64,135.47 L403.06,135.5 L403.48,135.53 L403.9,135.55 L404.32,135.58 L404.74,135.59 L405.16,135.61 L405.58,135.62 L406,135.64 L406.41,135.65 L406.83,135.65 L407.25,135.66 L407.67,135.67 L408.09,135.67 L408.51,135.68 L408.93,135.68 L409.35,135.69 L409.77,135.69 L410.19,135.69 L410.6,135.69 L411.02,135.69 L411.44,135.69 L411.86,135.7 L412.28,135.7 L412.7,135.7 L413.12,135.7 L413.54,135.7 L413.96,135.7 L414.37,135.7 L414.79,135.7 L415.21,135.7 L415.63,135.7 L416.05,135.7 L416.47,135.7 L416.89,135.7 L417.31,135.7 L417.73,135.7 L418.15,135.7 L418.56,135.7 L418.98,135.7 L419.4,135.7 L419.82,135.7 L420.24,135.7 L420.66,135.7 L421.08,135.7 L421.5,135.7 L421.92,135.7 L422.33,135.7 L422.75,135.7 L423.17,135.7 L423.59,135.7 L424.01,135.7 L424.43,135.7 L424.85,135.7 L425.27,135.7 L425.69,135.7 L426.11,135.7 L426.52,135.7 L426.94,135.7 L427.36,135.7 L427.78,135.7 L428.2,135.7 L428.62,135.7 L429.04,135.7 L429.46,135.7 L429.88,135.7 L430.29,135.7 L430.71,135.7 L431.13,135.7 L431.55,135.7 L431.97,135.7 L432.39,135.7 L432.81,135.7 L433.23,135.7 L433.65,135.7 L434.07,135.7 L434.48,135.7 L434.9,135.7 L435.32,135.7 L435.74,135.7 L436.16,135.7 L436.58,135.7 L437,135.7 L437.42,135.7 L437.84,135.7 L438.25,135.7 L438.67,135.7 L439.09,135.7 L439.51,135.7 L439.93,135.7 L440.35,135.7 L440.77,135.7 L441.19,135.7 L441.61,135.7 L442.03,135.7 L442.44,135.7 L442.86,135.7 L443.28,135.7 L443.7,135.7 L444.12,135.7 L444.54,135.7 L444.96,135.7 L445.38,135.7 L445.8,135.7 L446.21,135.7 L446.63,135.7 L447.05,135.7 L447.47,135.7 L447.89,135.7 L448.31,135.7 L448.73,135.7 L449.15,135.7 L449.57,135.7 L449.99,135.7 L450.4,135.7 L450.82,135.7 L451.24,135.7 L451.66,135.7 L452.08,135.7" fill="none" stroke="#ff1e1e" stroke-width="1.15" stroke-linejoin="round" />
<path d="M284.5,135.7 L284.92,135.7 L285.34,135.7 L285.76,135.7 L286.18,135.7 L286.59,135.7 L287.01,135.7 L287.43,135.7 L287.85,135.7 L288.27,135.7 L288.69,135.7 L289.11,135.7 L289.53,135.7 L289.95,135.7 L290.37,135.7 L290.78,135.7 L291.2,135.7 L291.62,135.7 L292.04,135.7 L292.46,135.7 L292.88,135.7 L293.3,135.7 L293.72,135.7 L294.14,135.7 L294.55,135.7 L294.97,135.7 L295.39,135.7 L295.81,135.7 L296.23,135.7 L296.65,135.7 L297.07,135.7 L297.49,135.7 L297.91,135.7 L298.33,135.7 L298.74,135.7 L299.16,135.7 L299.58,135.7 L300,135.7 L300.42,135.7 L300.84,135.7 L301.26,135.7 L301.68,135.7 L302.1,135.7 L302.51,135.7 L302.93,135.7 L303.35,135.7 L303.77,135.7 L304.19,135.7 L304.61,135.7 L305.03,135.7 L305.45,135.7 L305.87,135.7 L306.29,135.7 L306.7,135.7 L307.12,135.7 L307.54,135.7 L307.96,135.7 L308.38,135.7 L308.8,135.7 L309.22,135.7 L309.64,135.7 L310.06,135.7 L310.47,135.7 L310.89,135.7 L311.31,135.7 L311.73,135.7 L312.15,135.7 L312.57,135.7 L312.99,135.7 L313.41,135.7 L313.83,135.7 L314.25,135.7 L314.66,135.7 L315.08,135.7 L315.5,135.7 L315.92,135.7 L316.34,135.7 L316.76,135.7 L317.18,135.7 L317.6,135.7 L318.02,135.7 L318.43,135.7 L318.85,135.7 L319.27,135.7 L319.69,135.7 L320.11,135.7 L320.53,135.7 L320.95,135.7 L321.37,135.7 L321.79,135.7 L322.21,135.7 L322.62,135.7 L323.04,135.69 L323.46,135.69 L323.88,135.69 L324.3,135.69 L324.72,135.69 L325.14,135.68 L325.56,135.68 L325.98,135.67 L326.39,135.67 L326.81,135.66 L327.23,135.65 L327.65,135.64 L328.07,135.62 L328.49,135.61 L328.91,135.59 L329.33,135.57 L329.75,135.54 L330.17,135.51 L330.58,135.47 L331,135.43 L331.42,135.38 L331.84,135.32 L332.26,135.25 L332.68,135.17 L333.1,135.08 L333.52,134.98 L333.94,134.86 L334.36,134.73 L334.77,134.57 L335.19,134.4 L335.61,134.21 L336.03,134 L336.45,133.76 L336.87,133.49 L337.29,133.2 L337.71,132.88 L338.13,132.52 L338.54,132.13 L338.96,131.71 L339.38,131.25 L339.8,130.75 L340.22,130.22 L340.64,129.65 L341.06,129.04 L341.48,128.4 L341.9,127.72 L342.32,127 L342.73,126.25 L343.15,125.47 L343.57,124.65 L343.99,123.82 L344.41,122.96 L344.83,122.08 L345.25,121.19 L345.67,120.3 L346.09,119.4 L346.5,118.5 L346.92,117.61 L347.34,116.74 L347.76,115.89 L348.18,115.07 L348.6,114.29 L349.02,113.55 L349.44,112.85 L349.86,112.22 L350.28,111.64 L350.69,111.13 L351.11,110.69 L351.53,110.32 L351.95,110.03 L352.37,109.82 L352.79,109.7 L353.21,109.66 L353.63,109.7 L354.05,109.83 L354.46,110.04 L354.88,110.34 L355.3,110.71 L355.72,111.15 L356.14,111.67 L356.56,112.25 L356.98,112.89 L357.4,113.58 L357.82,114.32 L358.24,115.11 L358.65,115.93 L359.07,116.78 L359.49,117.65 L359.91,118.54 L360.33,119.44 L360.75,120.34 L361.17,121.23 L361.59,122.12 L362.01,123 L362.42,123.86 L362.84,124.69 L363.26,125.5 L363.68,126.28 L364.1,127.03 L364.52,127.75 L364.94,128.43 L365.36,129.07 L365.78,129.68 L366.2,130.25 L366.61,130.78 L367.03,131.27 L367.45,131.73 L367.87,132.15 L368.29,132.54 L368.71,132.89 L369.13,133.21 L369.55,133.51 L369.97,133.77 L370.38,134.01 L370.8,134.22 L371.22,134.41 L371.64,134.58 L372.06,134.73 L372.48,134.87 L372.9,134.98 L373.32,135.09 L373.74,135.18 L374.16,135.25 L374.57,135.32 L374.99,135.38 L375.41,135.43 L375.83,135.47 L376.25,135.51 L376.67,135.54 L377.09,135.57 L377.51,135.59 L377.93,135.61 L378.34,135.63 L378.76,135.64 L379.18,135.65 L379.6,135.66 L380.02,135.67 L380.44,135.67 L380.86,135.68 L381.28,135.68 L381.7,135.69 L382.12,135.69 L382.53,135.69 L382.95,135.69 L383.37,135.69 L383.79,135.7 L384.21,135.7 L384.63,135.7 L385.05,135.7 L385.47,135.7 L385.89,135.7 L386.3,135.7 L386.72,135.7 L387.14,135.7 L387.56,135.7 L387.98,135.7 L388.4,135.7 L388.82,135.7 L389.24,135.7 L389.66,135.7 L390.08,135.7 L390.49,135.7 L390.91,135.7 L391.33,135.7 L391.75,135.7 L392.17,135.7 L392.59,135.7 L393.01,135.7 L393.43,135.7 L393.85,135.7 L394.26,135.7 L394.68,135.7 L395.1,135.7 L395.52,135.7 L395.94,135.7 L396.36,135.7 L396.78,135.7 L397.2,135.7 L397.62,135.7 L398.04,135.7 L398.45,135.7 L398.87,135.7 L399.29,135.7 L399.71,135.7 L400.13,135.7 L400.55,135.7 L400.97,135.7 L401.39,135.7 L401.81,135.7 L402.22,135.7 L402.64,135.7 L403.06,135.7 L403.48,135.7 L403.9,135.7 L404.32,135.7 L404.74,135.7 L405.16,135.7 L405.58,135.7 L406,135.7 L406.41,135.7 L406.83,135.7 L407.25,135.7 L407.67,135.7 L408.09,135.7 L408.51,135.7 L408.93,135.7 L409.35,135.7 L409.77,135.7 L410.19,135.7 L410.6,135.7 L411.02,135.7 L411.44,135.7 L411.86,135.7 L412.28,135.7 L412.7,135.7 L413.12,135.7 L413.54,135.7 L413.96,135.7 L414.37,135.7 L414.79,135.7 L415.21,135.7 L415.63,135.7 L416.05,135.7 L416.47,135.7 L416.89,135.7 L417.31,135.7 L417.73,135.7 L418.15,135.7 L418.56,135.7 L418.98,135.7 L419.4,135.7 L419.82,135.7 L420.24,135.7 L420.66,135.7 L421.08,135.7 L421.5,135.7 L421.92,135.7 L422.33,135.7 L422.75,135.7 L423.17,135.7 L423.59,135.7 L424.01,135.7 L424.43,135.7 L424.85,135.7 L425.27,135.7 L425.69,135.7 L426.11,135.7 L426.52,135.7 L426.94,135.7 L427.36,135.7 L427.78,135.7 L428.2,135.7 L428.62,135.7 L429.04,135.7 L429.46,135.7 L429.88,135.7 L430.29,135.7 L430.71,135.7 L431.13,135.7 L431.55,135.7 L431.97,135.7 L432.39,135.7 L432.81,135.7 L433.23,135.7 L433.65,135.7 L434.07,135.7 L434.48,135.7 L434.9,135.7 L435.32,135.7 L435.74,135.7 L436.16,135.7 L436.58,135.7 L437,135.7 L437.42,135.7 L437.84,135.7 L438.25,135.7 L438.67,135.7 L439.09,135.7 L439.51,135.7 L439.93,135.7 L440.35,135.7 L440.77,135.7 L441.19,135.7 L441.61,135.7 L442.03,135.7 L442.44,135.7 L442.86,135.7 L443.28,135.7 L443.7,135.7 L444.12,135.7 L444.54,135.7 L444.96,135.7 L445.38,135.7 L445.8,135.7 L446.21,135.7 L446.63,135.7 L447.05,135.7 L447.47,135.7 L447.89,135.7 L448.31,135.7 L448.73,135.7 L449.15,135.7 L449.57,135.7 L449.99,135.7 L450.4,135.7 L450.82,135.7 L451.24,135.7 L451.66,135.7 L452.08,135.7" fill="none" stroke="#1cff1c" stroke-width="1.2" stroke-linejoin="round" />
<path d="M284.5,135.7 L284.92,135.7 L285.34,135.7 L285.76,135.7 L286.18,135.7 L286.59,135.7 L287.01,135.7 L287.43,135.7 L287.85,135.7 L288.27,135.7 L288.69,135.7 L289.11,135.7 L289.53,135.7 L289.95,135.7 L290.37,135.7 L290.78,135.7 L291.2,135.7 L291.62,135.7 L292.04,135.7 L292.46,135.7 L292.88,135.7 L293.3,135.7 L293.72,135.7 L294.14,135.7 L294.55,135.7 L294.97,135.7 L295.39,135.7 L295.81,135.7 L296.23,135.7 L296.65,135.7 L297.07,135.7 L297.49,135.7 L297.91,135.7 L298.33,135.7 L298.74,135.7 L299.16,135.7 L299.58,135.7 L300,135.7 L300.42,135.7 L300.84,135.7 L301.26,135.7 L301.68,135.7 L302.1,135.7 L302.51,135.7 L302.93,135.7 L303.35,135.7 L303.77,135.7 L304.19,135.7 L304.61,135.7 L305.03,135.7 L305.45,135.7 L305.87,135.7 L306.29,135.7 L306.7,135.7 L307.12,135.7 L307.54,135.7 L307.96,135.7 L308.38,135.7 L308.8,135.7 L309.22,135.7 L309.64,135.7 L310.06,135.7 L310.47,135.7 L310.89,135.7 L311.31,135.7 L311.73,135.7 L312.15,135.7 L312.57,135.7 L312.99,135.7 L313.41,135.7 L313.83,135.7 L314.25,135.7 L314.66,135.7 L315.08,135.7 L315.5,135.7 L315.92,135.7 L316.34,135.7 L316.76,135.7 L317.18,135.7 L317.6,135.7 L318.02,135.7 L318.43,135.7 L318.85,135.7 L319.27,135.7 L319.69,135.7 L320.11,135.7 L320.53,135.7 L320.95,135.7 L321.37,135.7 L321.79,135.7 L322.21,135.7 L322.62,135.7 L323.04,135.7 L323.46,135.7 L323.88,135.7 L324.3,135.7 L324.72,135.7 L325.14,135.7 L325.56,135.7 L325.98,135.7 L326.39,135.7 L326.81,135.7 L327.23,135.7 L327.65,135.7 L328.07,135.7 L328.49,135.7 L328.91,135.7 L329.33,135.69 L329.75,135.69 L330.17,135.69 L330.58,135.69 L331,135.69 L331.42,135.68 L331.84,135.68 L332.26,135.68 L332.68,135.67 L333.1,135.67 L333.52,135.66 L333.94,135.65 L334.36,135.64 L334.77,135.63 L335.19,135.62 L335.61,135.6 L336.03,135.58 L336.45,135.56 L336.87,135.54 L337.29,135.51 L337.71,135.48 L338.13,135.44 L338.54,135.4 L338.96,135.35 L339.38,135.3 L339.8,135.23 L340.22,135.16 L340.64,135.08 L341.06,134.99 L341.48,134.89 L341.9,134.78 L342.32,134.65 L342.73,134.52 L343.15,134.36 L343.57,134.2 L343.99,134.01 L344.41,133.81 L344.83,133.59 L345.25,133.35 L345.67,133.09 L346.09,132.82 L346.5,132.52 L346.92,132.2 L347.34,131.86 L347.76,131.5 L348.18,131.11 L348.6,130.71 L349.02,130.29 L349.44,129.85 L349.86,129.39 L350.28,128.91 L350.69,128.42 L351.11,127.91 L351.53,127.4 L351.95,126.87 L352.37,126.34 L352.79,125.8 L353.21,125.27 L353.63,124.73 L354.05,124.2 L354.46,123.68 L354.88,123.18 L355.3,122.68 L355.72,122.21 L356.14,121.76 L356.56,121.34 L356.98,120.94 L357.4,120.58 L357.82,120.26 L358.24,119.97 L358.65,119.72 L359.07,119.51 L359.49,119.35 L359.91,119.23 L360.33,119.16 L360.75,119.14 L361.17,119.16 L361.59,119.24 L362.01,119.35 L362.42,119.52 L362.84,119.72 L363.26,119.97 L363.68,120.26 L364.1,120.59 L364.52,120.95 L364.94,121.35 L365.36,121.77 L365.78,122.22 L366.2,122.7 L366.61,123.19 L367.03,123.7 L367.45,124.22 L367.87,124.75 L368.29,125.28 L368.71,125.82 L369.13,126.35 L369.55,126.88 L369.97,127.41 L370.38,127.92 L370.8,128.43 L371.22,128.92 L371.64,129.4 L372.06,129.86 L372.48,130.3 L372.9,130.72 L373.32,131.12 L373.74,131.51 L374.16,131.87 L374.57,132.21 L374.99,132.52 L375.41,132.82 L375.83,133.1 L376.25,133.36 L376.67,133.6 L377.09,133.81 L377.51,134.02 L377.93,134.2 L378.34,134.37 L378.76,134.52 L379.18,134.66 L379.6,134.78 L380.02,134.89 L380.44,134.99 L380.86,135.08 L381.28,135.16 L381.7,135.23 L382.12,135.3 L382.53,135.35 L382.95,135.4 L383.37,135.44 L383.79,135.48 L384.21,135.51 L384.63,135.54 L385.05,135.56 L385.47,135.59 L385.89,135.6 L386.3,135.62 L386.72,135.63 L387.14,135.64 L387.56,135.65 L387.98,135.66 L388.4,135.67 L388.82,135.67 L389.24,135.68 L389.66,135.68 L390.08,135.68 L390.49,135.69 L390.91,135.69 L391.33,135.69 L391.75,135.69 L392.17,135.69 L392.59,135.7 L393.01,135.7 L393.43,135.7 L393.85,135.7 L394.26,135.7 L394.68,135.7 L395.1,135.7 L395.52,135.7 L395.94,135.7 L396.36,135.7 L396.78,135.7 L397.2,135.7 L397.62,135.7 L398.04,135.7 L398.45,135.7 L398.87,135.7 L399.29,135.7 L399.71,135.7 L400.13,135.7 L400.55,135.7 L400.97,135.7 L401.39,135.7 L401.81,135.7 L402.22,135.7 L402.64,135.7 L403.06,135.7 L403.48,135.7 L403.9,135.7 L404.32,135.7 L404.74,135.7 L405.16,135.7 L405.58,135.7 L406,135.7 L406.41,135.7 L406.83,135.7 L407.25,135.7 L407.67,135.7 L408.09,135.7 L408.51,135.7 L408.93,135.7 L409.35,135.7 L409.77,135.7 L410.19,135.7 L410.6,135.7 L411.02,135.7 L411.44,135.7 L411.86,135.7 L412.28,135.7 L412.7,135.7 L413.12,135.7 L413.54,135.7 L413.96,135.7 L414.37,135.7 L414.79,135.7 L415.21,135.7 L415.63,135.7 L416.05,135.7 L416.47,135.7 L416.89,135.7 L417.31,135.7 L417.73,135.7 L418.15,135.7 L418.56,135.7 L418.98,135.7 L419.4,135.7 L419.82,135.7 L420.24,135.7 L420.66,135.7 L421.08,135.7 L421.5,135.7 L421.92,135.7 L422.33,135.7 L422.75,135.7 L423.17,135.7 L423.59,135.7 L424.01,135.7 L424.43,135.7 L424.85,135.7 L425.27,135.7 L425.69,135.7 L426.11,135.7 L426.52,135.7 L426.94,135.7 L427.36,135.7 L427.78,135.7 L428.2,135.7 L428.62,135.7 L429.04,135.7 L429.46,135.7 L429.88,135.7 L430.29,135.7 L430.71,135.7 L431.13,135.7 L431.55,135.7 L431.97,135.7 L432.39,135.7 L432.81,135.7 L433.23,135.7 L433.65,135.7 L434.07,135.7 L434.48,135.7 L434.9,135.7 L435.32,135.7 L435.74,135.7 L436.16,135.7 L436.58,135.7 L437,135.7 L437.42,135.7 L437.84,135.7 L438.25,135.7 L438.67,135.7 L439.09,135.7 L439.51,135.7 L439.93,135.7 L440.35,135.7 L440.77,135.7 L441.19,135.7 L441.61,135.7 L442.03,135.7 L442.44,135.7 L442.86,135.7 L443.28,135.7 L443.7,135.7 L444.12,135.7 L444.54,135.7 L444.96,135.7 L445.38,135.7 L445.8,135.7 L446.21,135.7 L446.63,135.7 L447.05,135.7 L447.47,135.7 L447.89,135.7 L448.31,135.7 L448.73,135.7 L449.15,135.7 L449.57,135.7 L449.99,135.7 L450.4,135.7 L450.82,135.7 L451.24,135.7 L451.66,135.7 L452.08,135.7" fill="none" stroke="#1cff1c" stroke-width="1.2" stroke-linejoin="round" />
<path d="M284.5,135.7 L284.92,135.7 L285.34,135.7 L285.76,135.7 L286.18,135.7 L286.59,135.7 L287.01,135.7 L287.43,135.7 L287.85,135.7 L288.27,135.7 L288.69,135.7 L289.11,135.7 L289.53,135.7 L289.95,135.7 L290.37,135.7 L290.78,135.7 L291.2,135.7 L291.62,135.7 L292.04,135.7 L292.46,135.7 L292.88,135.7 L293.3,135.7 L293.72,135.7 L294.14,135.7 L294.55,135.7 L294.97,135.7 L295.39,135.7 L295.81,135.7 L296.23,135.7 L296.65,135.7 L297.07,135.7 L297.49,135.7 L297.91,135.7 L298.33,135.7 L298.74,135.7 L299.16,135.7 L299.58,135.7 L300,135.7 L300.42,135.7 L300.84,135.7 L301.26,135.7 L301.68,135.7 L302.1,135.7 L302.51,135.7 L302.93,135.7 L303.35,135.7 L303.77,135.7 L304.19,135.7 L304.61,135.7 L305.03,135.7 L305.45,135.7 L305.87,135.7 L306.29,135.7 L306.7,135.7 L307.12,135.7 L307.54,135.7 L307.96,135.7 L308.38,135.7 L308.8,135.7 L309.22,135.7 L309.64,135.7 L310.06,135.7 L310.47,135.7 L310.89,135.7 L311.31,135.7 L311.73,135.7 L312.15,135.7 L312.57,135.7 L312.99,135.7 L313.41,135.7 L313.83,135.7 L314.25,135.7 L314.66,135.7 L315.08,135.7 L315.5,135.7 L315.92,135.7 L316.34,135.7 L316.76,135.7 L317.18,135.7 L317.6,135.7 L318.02,135.7 L318.43,135.7 L318.85,135.7 L319.27,135.7 L319.69,135.7 L320.11,135.7 L320.53,135.7 L320.95,135.7 L321.37,135.7 L321.79,135.7 L322.21,135.7 L322.62,135.7 L323.04,135.7 L323.46,135.7 L323.88,135.7 L324.3,135.7 L324.72,135.7 L325.14,135.7 L325.56,135.7 L325.98,135.7 L326.39,135.7 L326.81,135.7 L327.23,135.7 L327.65,135.7 L328.07,135.7 L328.49,135.7 L328.91,135.7 L329.33,135.7 L329.75,135.7 L330.17,135.7 L330.58,135.7 L331,135.7 L331.42,135.7 L331.84,135.7 L332.26,135.7 L332.68,135.7 L333.1,135.7 L333.52,135.7 L333.94,135.7 L334.36,135.7 L334.77,135.7 L335.19,135.7 L335.61,135.7 L336.03,135.7 L336.45,135.7 L336.87,135.7 L337.29,135.7 L337.71,135.7 L338.13,135.7 L338.54,135.7 L338.96,135.7 L339.38,135.7 L339.8,135.7 L340.22,135.7 L340.64,135.7 L341.06,135.7 L341.48,135.7 L341.9,135.7 L342.32,135.7 L342.73,135.7 L343.15,135.7 L343.57,135.69 L343.99,135.69 L344.41,135.69 L344.83,135.69 L345.25,135.69 L345.67,135.69 L346.09,135.68 L346.5,135.68 L346.92,135.68 L347.34,135.67 L347.76,135.67 L348.18,135.66 L348.6,135.65 L349.02,135.64 L349.44,135.63 L349.86,135.62 L350.28,135.6 L350.69,135.58 L351.11,135.56 L351.53,135.54 L351.95,135.51 L352.37,135.48 L352.79,135.45 L353.21,135.41 L353.63,135.36 L354.05,135.31 L354.46,135.25 L354.88,135.18 L355.3,135.11 L355.72,135.02 L356.14,134.93 L356.56,134.82 L356.98,134.71 L357.4,134.58 L357.82,134.43 L358.24,134.27 L358.65,134.1 L359.07,133.9 L359.49,133.69 L359.91,133.47 L360.33,133.22 L360.75,132.95 L361.17,132.66 L361.59,132.34 L362.01,132.01 L362.42,131.65 L362.84,131.26 L363.26,130.86 L363.68,130.43 L364.1,129.97 L364.52,129.49 L364.94,128.99 L365.36,128.47 L365.78,127.92 L366.2,127.36 L366.61,126.77 L367.03,126.17 L367.45,125.56 L367.87,124.93 L368.29,124.29 L368.71,123.65 L369.13,123 L369.55,122.35 L369.97,121.7 L370.38,121.06 L370.8,120.43 L371.22,119.81 L371.64,119.21 L372.06,118.63 L372.48,118.07 L372.9,117.54 L373.32,117.04 L373.74,116.57 L374.16,116.15 L374.57,115.76 L374.99,115.42 L375.41,115.12 L375.83,114.87 L376.25,114.68 L376.67,114.53 L377.09,114.44 L377.51,114.4 L377.93,114.42 L378.34,114.48 L378.76,114.61 L379.18,114.78 L379.6,115.01 L380.02,115.28 L380.44,115.6 L380.86,115.97 L381.28,116.38 L381.7,116.83 L382.12,117.31 L382.53,117.83 L382.95,118.37 L383.37,118.95 L383.79,119.54 L384.21,120.15 L384.63,120.78 L385.05,121.42 L385.47,122.06 L385.89,122.71 L386.3,123.36 L386.72,124.01 L387.14,124.65 L387.56,125.28 L387.98,125.9 L388.4,126.51 L388.82,127.1 L389.24,127.67 L389.66,128.23 L390.08,128.76 L390.49,129.27 L390.91,129.76 L391.33,130.23 L391.75,130.67 L392.17,131.09 L392.59,131.48 L393.01,131.85 L393.43,132.2 L393.85,132.52 L394.26,132.82 L394.68,133.1 L395.1,133.36 L395.52,133.6 L395.94,133.81 L396.36,134.01 L396.78,134.2 L397.2,134.36 L397.62,134.51 L398.04,134.65 L398.45,134.77 L398.87,134.88 L399.29,134.98 L399.71,135.07 L400.13,135.15 L400.55,135.22 L400.97,135.28 L401.39,135.34 L401.81,135.39 L402.22,135.43 L402.64,135.47 L403.06,135.5 L403.48,135.53 L403.9,135.55 L404.32,135.58 L404.74,135.59 L405.16,135.61 L405.58,135.62 L406,135.64 L406.41,135.65 L406.83,135.65 L407.25,135.66 L407.67,135.67 L408.09,135.67 L408.51,135.68 L408.93,135.68 L409.35,135.69 L409.77,135.69 L410.19,135.69 L410.6,135.69 L411.02,135.69 L411.44,135.69 L411.86,135.7 L412.28,135.7 L412.7,135.7 L413.12,135.7 L413.54,135.7 L413.96,135.7 L414.37,135.7 L414.79,135.7 L415.21,135.7 L415.63,135.7 L416.05,135.7 L416.47,135.7 L416.89,135.7 L417.31,135.7 L417.73,135.7 L418.15,135.7 L418.56,135.7 L418.98,135.7 L419.4,135.7 L419.82,135.7 L420.24,135.7 L420.66,135.7 L421.08,135.7 L421.5,135.7 L421.92,135.7 L422.33,135.7 L422.75,135.7 L423.17,135.7 L423.59,135.7 L424.01,135.7 L424.43,135.7 L424.85,135.7 L425.27,135.7 L425.69,135.7 L426.11,135.7 L426.52,135.7 L426.94,135.7 L427.36,135.7 L427.78,135.7 L428.2,135.7 L428.62,135.7 L429.04,135.7 L429.46,135.7 L429.88,135.7 L430.29,135.7 L430.71,135.7 L431.13,135.7 L431.55,135.7 L431.97,135.7 L432.39,135.7 L432.81,135.7 L433.23,135.7 L433.65,135.7 L434.07,135.7 L434.48,135.7 L434.9,135.7 L435.32,135.7 L435.74,135.7 L436.16,135.7 L436.58,135.7 L437,135.7 L437.42,135.7 L437.84,135.7 L438.25,135.7 L438.67,135.7 L439.09,135.7 L439.51,135.7 L439.93,135.7 L440.35,135.7 L440.77,135.7 L441.19,135.7 L441.61,135.7 L442.03,135.7 L442.44,135.7 L442.86,135.7 L443.28,135.7 L443.7,135.7 L444.12,135.7 L444.54,135.7 L444.96,135.7 L445.38,135.7 L445.8,135.7 L446.21,135.7 L446.63,135.7 L447.05,135.7 L447.47,135.7 L447.89,135.7 L448.31,135.7 L448.73,135.7 L449.15,135.7 L449.57,135.7 L449.99,135.7 L450.4,135.7 L450.82,135.7 L451.24,135.7 L451.66,135.7 L452.08,135.7" fill="none" stroke="#1cff1c" stroke-width="1.2" stroke-linejoin="round" />
<path d="M287,136.1 L328,136.1 M404,136.1 L448,136.1" stroke="#1c1c1c" stroke-opacity="0.55" stroke-width="0.8" stroke-dasharray="9,3.5" fill="none"/>
<text x="289.5" y="25.4" font-size="6.88" font-weight="bold" font-family='"Liberation Sans", sans-serif' fill="#111" stroke="#111" stroke-width="0.05" textLength="10.7" lengthAdjust="spacing">GO</text>
<text x="287.65" y="35.2" font-size="7.1" font-weight="bold" font-family='"Liberation Sans", sans-serif' fill="#111" stroke="#111" stroke-width="0.14" textLength="61.06" lengthAdjust="spacing">PLE at <tspan font-weight="normal">λ</tspan><tspan font-size="4.2" dy="2.8">Ex</tspan><tspan dy="-2.8">=238nm</tspan></text>
<text transform="translate(358.97,22.9) scale(1,1.15)" font-size="5.95" font-weight="bold" font-family='"Liberation Sans", sans-serif' fill="#111" stroke="#111" stroke-width="0.05" textLength="9.93" lengthAdjust="spacing">655</text>
<text x="319.34" y="110.74" font-size="6.78" font-weight="bold" font-family='"Liberation Sans", sans-serif' fill="#111" stroke="#111" stroke-width="0.05" textLength="20.75" lengthAdjust="spacing">654.92</text>
<text x="360.54" y="93.83" font-size="6.76" font-weight="bold" font-family='"Liberation Sans", sans-serif' fill="#111" stroke="#111" stroke-width="0.05" textLength="20.68" lengthAdjust="spacing">656.38</text>
<text x="392.34" y="111.34" font-size="6.78" font-weight="bold" font-family='"Liberation Sans", sans-serif' fill="#111" stroke="#111" stroke-width="0.05" textLength="20.75" lengthAdjust="spacing">659.80</text>
<text transform="translate(228,163)" font-size="18.5" text-anchor="start" font-weight="normal" font-family='"Liberation Serif", serif' fill="#111">(b)</text>
<line x1="513.1" y1="5.8" x2="676.3" y2="5.8" stroke="#7a7a7a" stroke-width="1.4"/>
<line x1="676.3" y1="5.8" x2="676.3" y2="136.9" stroke="#555" stroke-width="1.4"/>
<line x1="513.1" y1="5.2" x2="513.1" y2="137.5" stroke="#262626" stroke-width="1.2"/>
<line x1="512.5" y1="136.9" x2="676.9" y2="136.9" stroke="#262626" stroke-width="1.2"/>
<line x1="511.6" y1="112.75" x2="513.1" y2="112.75" stroke="#262626" stroke-width="0.9"/>
<line x1="511.6" y1="88.85" x2="513.1" y2="88.85" stroke="#262626" stroke-width="0.9"/>
<line x1="511.6" y1="64.95" x2="513.1" y2="64.95" stroke="#262626" stroke-width="0.9"/>
<line x1="511.6" y1="41.05" x2="513.1" y2="41.05" stroke="#262626" stroke-width="0.9"/>
<line x1="511.6" y1="17.15" x2="513.1" y2="17.15" stroke="#262626" stroke-width="0.9"/>
<line x1="510.5" y1="124.7" x2="513.1" y2="124.7" stroke="#262626" stroke-width="1.0"/>
<text x="502.58" y="128" font-size="10" font-weight="bold" font-family='"Liberation Sans", sans-serif' fill="#111" stroke="#111" stroke-width="0.18" textLength="5.56" lengthAdjust="spacing">0</text>
<line x1="510.5" y1="100.8" x2="513.1" y2="100.8" stroke="#262626" stroke-width="1.0"/>
<text x="491.48" y="104.1" font-size="10" font-weight="bold" font-family='"Liberation Sans", sans-serif' fill="#111" stroke="#111" stroke-width="0.18" textLength="16.69" lengthAdjust="spacing">200</text>
<line x1="510.5" y1="76.9" x2="513.1" y2="76.9" stroke="#262626" stroke-width="1.0"/>
<text x="491.48" y="80.2" font-size="10" font-weight="bold" font-family='"Liberation Sans", sans-serif' fill="#111" stroke="#111" stroke-width="0.18" textLength="16.69" lengthAdjust="spacing">400</text>
<line x1="510.5" y1="53" x2="513.1" y2="53" stroke="#262626" stroke-width="1.0"/>
<text x="491.48" y="56.3" font-size="10" font-weight="bold" font-family='"Liberation Sans", sans-serif' fill="#111" stroke="#111" stroke-width="0.18" textLength="16.69" lengthAdjust="spacing">600</text>
<line x1="510.5" y1="29.1" x2="513.1" y2="29.1" stroke="#262626" stroke-width="1.0"/>
<text x="491.48" y="32.4" font-size="10" font-weight="bold" font-family='"Liberation Sans", sans-serif' fill="#111" stroke="#111" stroke-width="0.18" textLength="16.69" lengthAdjust="spacing">800</text>
<line x1="510.5" y1="5.2" x2="513.1" y2="5.2" stroke="#262626" stroke-width="1.0"/>
<text x="485.88" y="8.5" font-size="10" font-weight="bold" font-family='"Liberation Sans", sans-serif' fill="#111" stroke="#111" stroke-width="0.18" textLength="22.25" lengthAdjust="spacing">1000</text>
<line x1="556.45" y1="136.9" x2="556.45" y2="138.7" stroke="#262626" stroke-width="0.9"/>
<line x1="604.35" y1="136.9" x2="604.35" y2="138.7" stroke="#262626" stroke-width="0.9"/>
<line x1="652.25" y1="136.9" x2="652.25" y2="138.7" stroke="#262626" stroke-width="0.9"/>
<line x1="532.5" y1="136.9" x2="532.5" y2="139.7" stroke="#262626" stroke-width="1.0"/>
<text x="523.88" y="149.05" font-size="9.9" font-weight="bold" font-family='"Liberation Sans", sans-serif' fill="#111" stroke="#111" stroke-width="0.18" textLength="16.52" lengthAdjust="spacing">300</text>
<line x1="580.4" y1="136.9" x2="580.4" y2="139.7" stroke="#262626" stroke-width="1.0"/>
<text x="571.83" y="149.05" font-size="9.9" font-weight="bold" font-family='"Liberation Sans", sans-serif' fill="#111" stroke="#111" stroke-width="0.18" textLength="16.52" lengthAdjust="spacing">400</text>
<line x1="628.3" y1="136.9" x2="628.3" y2="139.7" stroke="#262626" stroke-width="1.0"/>
<text x="619.66" y="149.05" font-size="9.9" font-weight="bold" font-family='"Liberation Sans", sans-serif' fill="#111" stroke="#111" stroke-width="0.18" textLength="16.52" lengthAdjust="spacing">500</text>
<line x1="676.2" y1="136.9" x2="676.2" y2="139.7" stroke="#262626" stroke-width="1.0"/>
<text x="667.53" y="149.05" font-size="9.9" font-weight="bold" font-family='"Liberation Sans", sans-serif' fill="#111" stroke="#111" stroke-width="0.18" textLength="16.52" lengthAdjust="spacing">600</text>
<text x="551" y="160.05" font-size="9.98" font-weight="bold" font-family='"Liberation Sans", sans-serif' fill="#111" stroke="#111" stroke-width="0.18" textLength="78.96" lengthAdjust="spacing">Wavelength / nm</text>
<text transform="translate(487.63,141.67) scale(1.04,1) rotate(-90)" font-size="9.98" font-weight="bold" font-family='"Liberation Sans", sans-serif' fill="#111" stroke="#111" stroke-width="0.18" textLength="128.99" lengthAdjust="spacing">PL Emission Intensity / a.u.</text>
<path d="M513.34,124.69 L513.82,124.68 L514.3,124.68 L514.78,124.68 L515.26,124.68 L515.74,124.68 L516.21,124.68 L516.69,124.68 L517.17,124.67 L517.65,124.67 L518.13,124.67 L518.61,124.67 L519.09,124.67 L519.57,124.66 L520.05,124.66 L520.52,124.66 L521,124.65 L521.48,124.65 L521.96,124.65 L522.44,124.64 L522.92,124.64 L523.4,124.64 L523.88,124.63 L524.36,124.63 L524.84,124.62 L525.32,124.62 L525.79,124.61 L526.27,124.6 L526.75,124.59 L527.23,124.59 L527.71,124.58 L528.19,124.57 L528.67,124.56 L529.15,124.55 L529.63,124.53 L530.11,124.52 L530.58,124.5 L531.06,124.48 L531.54,124.46 L532.02,124.44 L532.5,124.41 L532.98,124.37 L533.46,124.34 L533.94,124.29 L534.42,124.25 L534.89,124.19 L535.37,124.12 L535.85,124.04 L536.33,123.95 L536.81,123.85 L537.29,123.73 L537.77,123.59 L538.25,123.43 L538.73,123.24 L539.21,123.02 L539.68,122.77 L540.16,122.49 L540.64,122.16 L541.12,121.79 L541.6,121.37 L542.11,120.88 L542.74,120.34 L543.38,119.72 L544.01,119.03 L544.64,118.26 L545.28,117.4 L545.91,116.44 L546.55,115.38 L547.18,114.21 L547.69,112.92 L548.17,111.35 L548.65,109.78 L549.13,107.98 L549.61,106.37 L550.09,104.29 L550.56,102.43 L551.04,100.28 L551.52,97.8 L552,94.86 L552.48,92.48 L552.96,89.83 L553.44,87 L553.92,84.34 L554.4,81.6 L554.88,78.5 L555.34,75.39 L555.66,72.14 L555.98,69.02 L556.31,65.86 L556.63,62.41 L556.95,59.1 L557.28,55.93 L557.6,52.47 L557.92,49.04 L558.37,46.26 L558.85,43.08 L559.32,40.22 L559.8,37.97 L560.28,35.96 L560.76,33.67 L561.24,32.16 L561.72,30.51 L562.24,28.8 L562.81,27.33 L563.39,26.32 L563.96,25.24 L564.54,24.75 L565.11,24.52 L565.69,24.8 L566.26,25.26 L566.83,25.93 L567.31,26.73 L567.79,27.45 L568.27,28.4 L568.75,29.23 L569.22,30.41 L569.7,31.46 L570.18,32.83 L570.66,34.23 L571.14,35.89 L571.62,37.54 L572.1,39.44 L572.58,41.17 L573.06,42.66 L573.54,44.31 L574.01,45.62 L574.49,47.18 L574.97,48.67 L575.45,50.31 L575.93,51.38 L576.41,53.06 L576.89,54.73 L577.37,56.01 L577.85,57.31 L578.33,59 L578.8,60.41 L579.28,61.52 L579.76,62.93 L580.24,64.09 L580.72,65.51 L581.2,66.78 L581.68,67.77 L582.16,68.91 L582.64,69.97 L583.12,70.69 L583.59,71.67 L584.07,72.9 L584.55,74.52 L585.03,76.04 L585.51,77.32 L585.99,78.59 L586.47,79.92 L586.95,80.95 L587.43,81.95 L587.91,83.19 L588.38,84.22 L588.86,85.46 L589.34,86.78 L589.82,88.14 L590.3,89.25 L590.78,90.69 L591.17,92.13 L591.55,93.32 L591.93,94.58 L592.32,95.67 L592.7,96.63 L593.08,97.26 L593.47,98.29 L593.85,98.97 L594.29,100.28 L594.77,101.07 L595.25,102.27 L595.73,102.87 L596.21,103.61 L596.69,104.21 L597.16,104.97 L597.64,105.78 L598.12,106.45 L598.6,107.33 L599.08,108.02 L599.56,108.93 L600.04,108.85 L600.52,109.78 L601,110.14 L601.48,110.89 L601.96,111.36 L602.43,111.44 L602.91,111.85 L603.39,112.9 L603.87,112.7 L604.35,112.55 L604.83,113.75 L605.31,113.78 L605.79,114.28 L606.27,114.15 L606.75,115.03 L607.22,114.53 L607.7,114.7 L608.18,114.98 L608.66,115.2 L609.14,115.48 L609.62,115.82 L610.1,115.84 L610.58,116.58 L611.06,116.56 L611.53,116.36 L612.01,116.38 L612.49,117.12 L612.97,117.19 L613.45,117.34 L613.93,117.44 L614.41,117.43 L614.89,117.69 L615.37,117.58 L615.85,118.37 L616.33,118.58 L616.8,119.12 L617.28,119.2 L617.76,118.53 L618.24,118.51 L618.72,118.63 L619.2,119.6 L619.68,119.2 L620.16,119.5 L620.64,119.33 L621.12,119.62 L621.59,119.57 L622.07,119.98 L622.55,120.32 L623.03,120.53 L623.51,120.84 L623.99,120.71 L624.47,120.94 L624.95,120.98 L625.43,120.89 L625.9,120.83 L626.38,120.25 L626.86,120.83 L627.34,121.06 L627.82,121.46 L628.3,121.3 L628.78,121.29 L629.26,120.8 L629.74,121.1 L630.22,120.66 L630.69,120.06 L631.17,120.24 L631.65,120.82 L632.13,120.99 L632.61,120.63 L633.09,121.57 L633.57,121.28 L634.05,121.15 L634.53,121.67 L635.01,121.98 L635.49,121.84 L635.96,121.16 L636.44,121.94 L636.92,121.38 L637.4,121.71 L637.88,121.81 L638.36,122.25 L638.84,122.12 L639.32,121.8 L639.8,122.1 L640.27,121.37 L640.75,121.07 L641.23,121.63 L641.71,120.86 L642.19,121.11 L642.67,121.43 L643.15,121.79 L643.63,121.41 L644.11,121.6 L644.59,122.32 L645.07,121.59 L645.54,122.18 L646.02,122.15 L646.5,121.61 L646.98,122.12 L647.46,122.17 L647.94,122.56 L648.42,122.92 L648.9,123.2 L649.38,122.79 L649.86,123.33 L650.33,122.61 L650.81,122.4 L651.29,122.66 L651.77,122.42 L652.25,122.23 L652.73,123.07 L653.21,122.46 L653.69,122.3 L654.17,122.01 L654.64,122.82 L655.12,122.89 L655.6,122.49 L656.08,123.25 L656.56,123.48 L657.04,122.86 L657.52,123.17 L658,123.1 L658.48,123.09 L658.96,122.72 L659.43,122.87 L659.91,123.31 L660.39,122.94 L660.87,123 L661.35,123.52 L661.83,123.78 L662.31,123.24 L662.79,123.43 L663.27,123.57 L663.75,123.38 L664.23,123.44 L664.7,123.43 L665.18,123.51 L665.66,123.72 L666.14,123.51 L666.62,123.6 L667.1,123.94 L667.58,123.37 L668.06,123.84 L668.54,124 L669.01,123.68 L669.49,123.64 L669.97,124.13 L670.45,123.71 L670.93,123.69 L671.41,123.92 L671.89,124.15 L672.37,123.7 L672.85,123.9 L673.33,123.93 L673.81,124.36 L674.28,124.06 L674.76,124.42 L675.24,123.89 L675.72,124.05 L676.2,124.32" fill="none" stroke="#1c1c1c" stroke-width="1.1" stroke-linejoin="round" />
<path d="M513.34,124.69 L513.88,124.68 L514.43,124.68 L514.97,124.68 L515.51,124.68 L516.05,124.68 L516.6,124.68 L517.14,124.67 L517.68,124.67 L518.23,124.67 L518.77,124.67 L519.31,124.66 L519.85,124.66 L520.4,124.66 L520.94,124.66 L521.48,124.65 L522.03,124.65 L522.57,124.64 L523.11,124.64 L523.65,124.63 L524.2,124.63 L524.74,124.62 L525.28,124.62 L525.83,124.61 L526.37,124.6 L526.91,124.59 L527.45,124.58 L528,124.57 L528.54,124.56 L529.08,124.55 L529.63,124.53 L530.17,124.51 L530.71,124.5 L531.25,124.47 L531.8,124.45 L532.34,124.42 L532.88,124.38 L533.43,124.34 L533.97,124.29 L534.51,124.23 L535.05,124.17 L535.6,124.09 L536.14,123.99 L536.68,123.88 L537.23,123.75 L537.77,123.59 L538.31,123.4 L538.85,123.18 L539.4,122.93 L539.94,122.63 L540.48,122.28 L541.03,121.87 L541.57,121.4 L542.11,120.85 L542.65,120.22 L543.2,119.5 L543.74,118.68 L544.28,117.75 L544.83,116.7 L545.37,115.53 L545.91,114.21 L546.45,112.74 L547,111.11 L547.54,109.32 L548.08,107.36 L548.63,105.23 L549.17,102.91 L549.71,100.42 L550.25,97.75 L550.8,94.91 L551.34,91.9 L551.88,88.74 L552.43,85.43 L552.97,81.99 L553.51,78.45 L554.05,74.81 L554.6,71.12 L555.14,67.38 L555.68,63.64 L556.23,59.92 L556.77,56.25 L557.31,52.67 L557.86,49.2 L558.4,45.87 L558.94,42.72 L559.48,39.78 L560.03,37.06 L560.57,34.59 L561.11,32.39 L561.66,30.48 L562.2,28.86 L562.74,27.55 L563.28,26.54 L563.83,25.84 L564.37,25.43 L564.91,25.32 L565.46,25.49 L566,25.91 L566.54,26.58 L567.08,27.47 L567.63,28.56 L568.17,29.82 L568.71,31.24 L569.26,32.78 L569.8,34.42 L570.34,36.14 L570.88,37.92 L571.43,39.74 L571.97,41.57 L572.51,43.41 L573.06,45.25 L573.6,47.06 L574.14,48.84 L574.68,50.59 L575.23,52.3 L575.77,53.97 L576.31,55.59 L576.86,57.18 L577.4,58.73 L577.94,60.24 L578.48,61.72 L579.03,63.17 L579.57,64.6 L580.11,66.01 L580.66,67.41 L581.2,68.8 L581.74,70.19 L582.28,71.57 L582.83,72.95 L583.37,74.33 L583.91,75.72 L584.46,77.1 L585,78.49 L585.54,79.89 L586.08,81.28 L586.63,82.67 L587.17,84.05 L587.71,85.43 L588.26,86.8 L588.8,88.16 L589.34,89.5 L589.88,90.82 L590.43,92.12 L590.97,93.39 L591.51,94.63 L592.06,95.84 L592.6,97.02 L593.14,98.16 L593.68,99.27 L594.23,100.33 L594.77,101.36 L595.31,102.34 L595.86,103.28 L596.4,104.18 L596.94,105.03 L597.48,105.84 L598.03,106.61 L598.57,107.34 L599.11,108.03 L599.66,108.68 L600.2,109.3 L600.74,109.87 L601.28,110.41 L601.83,110.92 L602.37,111.4 L602.91,111.85 L603.46,112.27 L604,112.66 L604.54,113.03 L605.08,113.38 L605.63,113.71 L606.17,114.01 L606.71,114.3 L607.26,114.58 L607.8,114.84 L608.34,115.08 L608.88,115.32 L609.43,115.54 L609.97,115.75 L610.51,115.96 L611.06,116.16 L611.6,116.35 L612.14,116.53 L612.68,116.71 L613.23,116.89 L613.77,117.06 L614.31,117.23 L614.86,117.39 L615.4,117.55 L615.94,117.71 L616.48,117.87 L617.03,118.03 L617.57,118.18 L618.11,118.33 L618.66,118.48 L619.2,118.63 L619.74,118.78 L620.28,118.93 L620.83,119.07 L621.37,119.22 L621.91,119.36 L622.46,119.5 L623,119.64 L623.54,119.78 L624.08,119.92 L624.63,120.06 L625.17,120.19 L625.71,120.32 L626.26,120.46 L626.8,120.59 L627.34,120.71 L627.88,120.84 L628.43,120.96 L628.97,121.08 L629.51,121.2 L630.06,121.32 L630.6,121.44 L631.14,121.55 L631.68,121.66 L632.23,121.77 L632.77,121.88 L633.31,121.98 L633.86,122.08 L634.4,122.18 L634.94,122.28 L635.49,122.37 L636.03,122.47 L636.57,122.55 L637.11,122.64 L637.66,122.73 L638.2,122.81 L638.74,122.89 L639.29,122.97 L639.83,123.04 L640.37,123.11 L640.91,123.18 L641.46,123.25 L642,123.32 L642.54,123.38 L643.09,123.44 L643.63,123.5 L644.17,123.56 L644.71,123.61 L645.26,123.67 L645.8,123.72 L646.34,123.77 L646.89,123.81 L647.43,123.86 L647.97,123.9 L648.51,123.94 L649.06,123.98 L649.6,124.02 L650.14,124.06 L650.69,124.09 L651.23,124.12 L651.77,124.16 L652.31,124.19 L652.86,124.21 L653.4,124.24 L653.94,124.27 L654.49,124.29 L655.03,124.32 L655.57,124.34 L656.11,124.36 L656.66,124.38 L657.2,124.4 L657.74,124.42 L658.29,124.44 L658.83,124.45 L659.37,124.47 L659.91,124.48 L660.46,124.5 L661,124.51 L661.54,124.52 L662.09,124.53 L662.63,124.54 L663.17,124.55 L663.71,124.56 L664.26,124.57 L664.8,124.58 L665.34,124.59 L665.89,124.6 L666.43,124.6 L666.97,124.61 L667.51,124.62 L668.06,124.62 L668.6,124.63 L669.14,124.63 L669.69,124.64 L670.23,124.64 L670.77,124.65 L671.31,124.65 L671.86,124.65 L672.4,124.66 L672.94,124.66 L673.49,124.66 L674.03,124.67 L674.57,124.67 L675.11,124.67 L675.66,124.67 L676.2,124.68" fill="none" stroke="#ff1e1e" stroke-width="1.15" stroke-linejoin="round" />
<path d="M513.34,124.7 L513.88,124.7 L514.43,124.7 L514.97,124.7 L515.51,124.7 L516.05,124.7 L516.6,124.7 L517.14,124.7 L517.68,124.7 L518.23,124.7 L518.77,124.7 L519.31,124.7 L519.85,124.7 L520.4,124.7 L520.94,124.7 L521.48,124.7 L522.03,124.7 L522.57,124.7 L523.11,124.7 L523.65,124.7 L524.2,124.7 L524.74,124.7 L525.28,124.7 L525.83,124.7 L526.37,124.7 L526.91,124.7 L527.45,124.7 L528,124.69 L528.54,124.69 L529.08,124.69 L529.63,124.69 L530.17,124.68 L530.71,124.68 L531.25,124.67 L531.8,124.66 L532.34,124.65 L532.88,124.63 L533.43,124.61 L533.97,124.59 L534.51,124.55 L535.05,124.51 L535.6,124.46 L536.14,124.4 L536.68,124.33 L537.23,124.24 L537.77,124.13 L538.31,123.99 L538.85,123.83 L539.4,123.64 L539.94,123.41 L540.48,123.13 L541.03,122.81 L541.57,122.43 L542.11,121.99 L542.65,121.48 L543.2,120.89 L543.74,120.21 L544.28,119.44 L544.83,118.56 L545.37,117.57 L545.91,116.46 L546.45,115.22 L547,113.85 L547.54,112.33 L548.08,110.67 L548.63,108.87 L549.17,106.91 L549.71,104.81 L550.25,102.56 L550.8,100.18 L551.34,97.67 L551.88,95.04 L552.43,92.3 L552.97,89.49 L553.51,86.6 L554.05,83.68 L554.6,80.74 L555.14,77.81 L555.68,74.92 L556.23,72.1 L556.77,69.38 L557.31,66.8 L557.86,64.38 L558.4,62.15 L558.94,60.15 L559.48,58.4 L560.03,56.92 L560.57,55.74 L561.11,54.86 L561.66,54.31 L562.2,54.08 L562.74,54.19 L563.28,54.63 L563.83,55.39 L564.37,56.47 L564.91,57.85 L565.46,59.51 L566,61.42 L566.54,63.57 L567.08,65.92 L567.63,68.45 L568.17,71.13 L568.71,73.91 L569.26,76.78 L569.8,79.7 L570.34,82.64 L570.88,85.58 L571.43,88.48 L571.97,91.32 L572.51,94.08 L573.06,96.75 L573.6,99.31 L574.14,101.74 L574.68,104.03 L575.23,106.19 L575.77,108.19 L576.31,110.05 L576.86,111.76 L577.4,113.33 L577.94,114.75 L578.48,116.04 L579.03,117.19 L579.57,118.22 L580.11,119.14 L580.66,119.95 L581.2,120.66 L581.74,121.28 L582.28,121.82 L582.83,122.28 L583.37,122.68 L583.91,123.02 L584.46,123.31 L585,123.56 L585.54,123.77 L586.08,123.94 L586.63,124.08 L587.17,124.2 L587.71,124.3 L588.26,124.38 L588.8,124.44 L589.34,124.5 L589.88,124.54 L590.43,124.57 L590.97,124.6 L591.51,124.62 L592.06,124.64 L592.6,124.65 L593.14,124.67 L593.68,124.67 L594.23,124.68 L594.77,124.68 L595.31,124.69 L595.86,124.69 L596.4,124.69 L596.94,124.7 L597.48,124.7 L598.03,124.7 L598.57,124.7 L599.11,124.7 L599.66,124.7 L600.2,124.7 L600.74,124.7 L601.28,124.7 L601.83,124.7 L602.37,124.7 L602.91,124.7 L603.46,124.7 L604,124.7 L604.54,124.7 L605.08,124.7 L605.63,124.7 L606.17,124.7 L606.71,124.7 L607.26,124.7 L607.8,124.7 L608.34,124.7 L608.88,124.7 L609.43,124.7 L609.97,124.7 L610.51,124.7 L611.06,124.7 L611.6,124.7 L612.14,124.7 L612.68,124.7 L613.23,124.7 L613.77,124.7 L614.31,124.7 L614.86,124.7 L615.4,124.7 L615.94,124.7 L616.48,124.7 L617.03,124.7 L617.57,124.7 L618.11,124.7 L618.66,124.7 L619.2,124.7 L619.74,124.7 L620.28,124.7 L620.83,124.7 L621.37,124.7 L621.91,124.7 L622.46,124.7 L623,124.7 L623.54,124.7 L624.08,124.7 L624.63,124.7 L625.17,124.7 L625.71,124.7 L626.26,124.7 L626.8,124.7 L627.34,124.7 L627.88,124.7 L628.43,124.7 L628.97,124.7 L629.51,124.7 L630.06,124.7 L630.6,124.7 L631.14,124.7 L631.68,124.7 L632.23,124.7 L632.77,124.7 L633.31,124.7 L633.86,124.7 L634.4,124.7 L634.94,124.7 L635.49,124.7 L636.03,124.7 L636.57,124.7 L637.11,124.7 L637.66,124.7 L638.2,124.7 L638.74,124.7 L639.29,124.7 L639.83,124.7 L640.37,124.7 L640.91,124.7 L641.46,124.7 L642,124.7 L642.54,124.7 L643.09,124.7 L643.63,124.7 L644.17,124.7 L644.71,124.7 L645.26,124.7 L645.8,124.7 L646.34,124.7 L646.89,124.7 L647.43,124.7 L647.97,124.7 L648.51,124.7 L649.06,124.7 L649.6,124.7 L650.14,124.7 L650.69,124.7 L651.23,124.7 L651.77,124.7 L652.31,124.7 L652.86,124.7 L653.4,124.7 L653.94,124.7 L654.49,124.7 L655.03,124.7 L655.57,124.7 L656.11,124.7 L656.66,124.7 L657.2,124.7 L657.74,124.7 L658.29,124.7 L658.83,124.7 L659.37,124.7 L659.91,124.7 L660.46,124.7 L661,124.7 L661.54,124.7 L662.09,124.7 L662.63,124.7 L663.17,124.7 L663.71,124.7 L664.26,124.7 L664.8,124.7 L665.34,124.7 L665.89,124.7 L666.43,124.7 L666.97,124.7 L667.51,124.7 L668.06,124.7 L668.6,124.7 L669.14,124.7 L669.69,124.7 L670.23,124.7 L670.77,124.7 L671.31,124.7 L671.86,124.7 L672.4,124.7 L672.94,124.7 L673.49,124.7 L674.03,124.7 L674.57,124.7 L675.11,124.7 L675.66,124.7 L676.2,124.7" fill="none" stroke="#1cff1c" stroke-width="1.2" stroke-linejoin="round" />
<path d="M513.34,124.7 L513.88,124.7 L514.43,124.7 L514.97,124.7 L515.51,124.7 L516.05,124.7 L516.6,124.7 L517.14,124.7 L517.68,124.7 L518.23,124.7 L518.77,124.7 L519.31,124.7 L519.85,124.7 L520.4,124.7 L520.94,124.7 L521.48,124.7 L522.03,124.7 L522.57,124.7 L523.11,124.7 L523.65,124.7 L524.2,124.7 L524.74,124.7 L525.28,124.7 L525.83,124.7 L526.37,124.7 L526.91,124.7 L527.45,124.69 L528,124.69 L528.54,124.69 L529.08,124.69 L529.63,124.69 L530.17,124.69 L530.71,124.68 L531.25,124.68 L531.8,124.68 L532.34,124.67 L532.88,124.66 L533.43,124.66 L533.97,124.65 L534.51,124.64 L535.05,124.63 L535.6,124.62 L536.14,124.6 L536.68,124.58 L537.23,124.56 L537.77,124.54 L538.31,124.51 L538.85,124.48 L539.4,124.44 L539.94,124.4 L540.48,124.35 L541.03,124.29 L541.57,124.23 L542.11,124.16 L542.65,124.08 L543.2,123.98 L543.74,123.88 L544.28,123.76 L544.83,123.63 L545.37,123.48 L545.91,123.32 L546.45,123.14 L547,122.93 L547.54,122.71 L548.08,122.46 L548.63,122.18 L549.17,121.88 L549.71,121.55 L550.25,121.18 L550.8,120.79 L551.34,120.36 L551.88,119.89 L552.43,119.38 L552.97,118.84 L553.51,118.25 L554.05,117.62 L554.6,116.94 L555.14,116.22 L555.68,115.45 L556.23,114.64 L556.77,113.77 L557.31,112.86 L557.86,111.91 L558.4,110.9 L558.94,109.85 L559.48,108.76 L560.03,107.62 L560.57,106.44 L561.11,105.23 L561.66,103.98 L562.2,102.7 L562.74,101.39 L563.28,100.06 L563.83,98.72 L564.37,97.36 L564.91,95.99 L565.46,94.62 L566,93.26 L566.54,91.91 L567.08,90.57 L567.63,89.26 L568.17,87.98 L568.71,86.75 L569.26,85.55 L569.8,84.41 L570.34,83.33 L570.88,82.31 L571.43,81.37 L571.97,80.5 L572.51,79.72 L573.06,79.02 L573.6,78.42 L574.14,77.91 L574.68,77.51 L575.23,77.2 L575.77,77 L576.31,76.91 L576.86,76.92 L577.4,77.04 L577.94,77.26 L578.48,77.59 L579.03,78.02 L579.57,78.55 L580.11,79.18 L580.66,79.89 L581.2,80.7 L581.74,81.58 L582.28,82.55 L582.83,83.58 L583.37,84.67 L583.91,85.83 L584.46,87.03 L585,88.28 L585.54,89.57 L586.08,90.88 L586.63,92.22 L587.17,93.58 L587.71,94.94 L588.26,96.31 L588.8,97.68 L589.34,99.04 L589.88,100.38 L590.43,101.7 L590.97,103.01 L591.51,104.28 L592.06,105.52 L592.6,106.73 L593.14,107.89 L593.68,109.02 L594.23,110.1 L594.77,111.14 L595.31,112.14 L595.86,113.08 L596.4,113.98 L596.94,114.83 L597.48,115.64 L598.03,116.39 L598.57,117.1 L599.11,117.77 L599.66,118.39 L600.2,118.97 L600.74,119.51 L601.28,120 L601.83,120.46 L602.37,120.89 L602.91,121.27 L603.46,121.63 L604,121.95 L604.54,122.25 L605.08,122.52 L605.63,122.76 L606.17,122.98 L606.71,123.18 L607.26,123.36 L607.8,123.52 L608.34,123.66 L608.88,123.79 L609.43,123.91 L609.97,124.01 L610.51,124.1 L611.06,124.18 L611.6,124.25 L612.14,124.31 L612.68,124.36 L613.23,124.41 L613.77,124.45 L614.31,124.48 L614.86,124.52 L615.4,124.54 L615.94,124.57 L616.48,124.59 L617.03,124.6 L617.57,124.62 L618.11,124.63 L618.66,124.64 L619.2,124.65 L619.74,124.66 L620.28,124.67 L620.83,124.67 L621.37,124.68 L621.91,124.68 L622.46,124.68 L623,124.69 L623.54,124.69 L624.08,124.69 L624.63,124.69 L625.17,124.69 L625.71,124.69 L626.26,124.7 L626.8,124.7 L627.34,124.7 L627.88,124.7 L628.43,124.7 L628.97,124.7 L629.51,124.7 L630.06,124.7 L630.6,124.7 L631.14,124.7 L631.68,124.7 L632.23,124.7 L632.77,124.7 L633.31,124.7 L633.86,124.7 L634.4,124.7 L634.94,124.7 L635.49,124.7 L636.03,124.7 L636.57,124.7 L637.11,124.7 L637.66,124.7 L638.2,124.7 L638.74,124.7 L639.29,124.7 L639.83,124.7 L640.37,124.7 L640.91,124.7 L641.46,124.7 L642,124.7 L642.54,124.7 L643.09,124.7 L643.63,124.7 L644.17,124.7 L644.71,124.7 L645.26,124.7 L645.8,124.7 L646.34,124.7 L646.89,124.7 L647.43,124.7 L647.97,124.7 L648.51,124.7 L649.06,124.7 L649.6,124.7 L650.14,124.7 L650.69,124.7 L651.23,124.7 L651.77,124.7 L652.31,124.7 L652.86,124.7 L653.4,124.7 L653.94,124.7 L654.49,124.7 L655.03,124.7 L655.57,124.7 L656.11,124.7 L656.66,124.7 L657.2,124.7 L657.74,124.7 L658.29,124.7 L658.83,124.7 L659.37,124.7 L659.91,124.7 L660.46,124.7 L661,124.7 L661.54,124.7 L662.09,124.7 L662.63,124.7 L663.17,124.7 L663.71,124.7 L664.26,124.7 L664.8,124.7 L665.34,124.7 L665.89,124.7 L666.43,124.7 L666.97,124.7 L667.51,124.7 L668.06,124.7 L668.6,124.7 L669.14,124.7 L669.69,124.7 L670.23,124.7 L670.77,124.7 L671.31,124.7 L671.86,124.7 L672.4,124.7 L672.94,124.7 L673.49,124.7 L674.03,124.7 L674.57,124.7 L675.11,124.7 L675.66,124.7 L676.2,124.7" fill="none" stroke="#1cff1c" stroke-width="1.2" stroke-linejoin="round" />
<path d="M513.34,124.69 L513.88,124.68 L514.43,124.68 L514.97,124.68 L515.51,124.68 L516.05,124.68 L516.6,124.68 L517.14,124.67 L517.68,124.67 L518.23,124.67 L518.77,124.67 L519.31,124.66 L519.85,124.66 L520.4,124.66 L520.94,124.66 L521.48,124.65 L522.03,124.65 L522.57,124.64 L523.11,124.64 L523.65,124.64 L524.2,124.63 L524.74,124.62 L525.28,124.62 L525.83,124.61 L526.37,124.61 L526.91,124.6 L527.45,124.59 L528,124.58 L528.54,124.58 L529.08,124.57 L529.63,124.56 L530.17,124.55 L530.71,124.54 L531.25,124.53 L531.8,124.51 L532.34,124.5 L532.88,124.49 L533.43,124.47 L533.97,124.46 L534.51,124.44 L535.05,124.42 L535.6,124.41 L536.14,124.39 L536.68,124.37 L537.23,124.35 L537.77,124.32 L538.31,124.3 L538.85,124.28 L539.4,124.25 L539.94,124.22 L540.48,124.2 L541.03,124.17 L541.57,124.14 L542.11,124.1 L542.65,124.07 L543.2,124.03 L543.74,124 L544.28,123.96 L544.83,123.92 L545.37,123.87 L545.91,123.83 L546.45,123.78 L547,123.73 L547.54,123.68 L548.08,123.63 L548.63,123.58 L549.17,123.52 L549.71,123.46 L550.25,123.4 L550.8,123.34 L551.34,123.28 L551.88,123.21 L552.43,123.14 L552.97,123.07 L553.51,122.99 L554.05,122.92 L554.6,122.84 L555.14,122.76 L555.68,122.67 L556.23,122.59 L556.77,122.5 L557.31,122.41 L557.86,122.31 L558.4,122.22 L558.94,122.12 L559.48,122.02 L560.03,121.91 L560.57,121.81 L561.11,121.7 L561.66,121.59 L562.2,121.48 L562.74,121.36 L563.28,121.25 L563.83,121.13 L564.37,121.01 L564.91,120.89 L565.46,120.76 L566,120.63 L566.54,120.51 L567.08,120.38 L567.63,120.24 L568.17,120.11 L568.71,119.98 L569.26,119.84 L569.8,119.71 L570.34,119.57 L570.88,119.43 L571.43,119.29 L571.97,119.15 L572.51,119.01 L573.06,118.87 L573.6,118.73 L574.14,118.59 L574.68,118.45 L575.23,118.31 L575.77,118.17 L576.31,118.03 L576.86,117.9 L577.4,117.76 L577.94,117.62 L578.48,117.49 L579.03,117.36 L579.57,117.23 L580.11,117.1 L580.66,116.97 L581.2,116.85 L581.74,116.72 L582.28,116.6 L582.83,116.49 L583.37,116.37 L583.91,116.26 L584.46,116.16 L585,116.05 L585.54,115.95 L586.08,115.86 L586.63,115.76 L587.17,115.67 L587.71,115.59 L588.26,115.51 L588.8,115.43 L589.34,115.36 L589.88,115.3 L590.43,115.24 L590.97,115.18 L591.51,115.13 L592.06,115.08 L592.6,115.04 L593.14,115 L593.68,114.97 L594.23,114.95 L594.77,114.93 L595.31,114.91 L595.86,114.9 L596.4,114.9 L596.94,114.9 L597.48,114.91 L598.03,114.92 L598.57,114.94 L599.11,114.96 L599.66,114.99 L600.2,115.03 L600.74,115.07 L601.28,115.11 L601.83,115.16 L602.37,115.22 L602.91,115.28 L603.46,115.34 L604,115.41 L604.54,115.48 L605.08,115.56 L605.63,115.64 L606.17,115.73 L606.71,115.82 L607.26,115.92 L607.8,116.02 L608.34,116.12 L608.88,116.23 L609.43,116.33 L609.97,116.45 L610.51,116.56 L611.06,116.68 L611.6,116.8 L612.14,116.93 L612.68,117.05 L613.23,117.18 L613.77,117.31 L614.31,117.44 L614.86,117.58 L615.4,117.71 L615.94,117.85 L616.48,117.99 L617.03,118.12 L617.57,118.26 L618.11,118.4 L618.66,118.54 L619.2,118.68 L619.74,118.82 L620.28,118.96 L620.83,119.1 L621.37,119.24 L621.91,119.38 L622.46,119.52 L623,119.66 L623.54,119.79 L624.08,119.93 L624.63,120.06 L625.17,120.2 L625.71,120.33 L626.26,120.46 L626.8,120.59 L627.34,120.72 L627.88,120.84 L628.43,120.96 L628.97,121.09 L629.51,121.21 L630.06,121.32 L630.6,121.44 L631.14,121.55 L631.68,121.66 L632.23,121.77 L632.77,121.88 L633.31,121.98 L633.86,122.08 L634.4,122.18 L634.94,122.28 L635.49,122.37 L636.03,122.47 L636.57,122.55 L637.11,122.64 L637.66,122.73 L638.2,122.81 L638.74,122.89 L639.29,122.97 L639.83,123.04 L640.37,123.11 L640.91,123.18 L641.46,123.25 L642,123.32 L642.54,123.38 L643.09,123.44 L643.63,123.5 L644.17,123.56 L644.71,123.61 L645.26,123.67 L645.8,123.72 L646.34,123.77 L646.89,123.81 L647.43,123.86 L647.97,123.9 L648.51,123.94 L649.06,123.98 L649.6,124.02 L650.14,124.06 L650.69,124.09 L651.23,124.12 L651.77,124.16 L652.31,124.19 L652.86,124.21 L653.4,124.24 L653.94,124.27 L654.49,124.29 L655.03,124.32 L655.57,124.34 L656.11,124.36 L656.66,124.38 L657.2,124.4 L657.74,124.42 L658.29,124.44 L658.83,124.45 L659.37,124.47 L659.91,124.48 L660.46,124.5 L661,124.51 L661.54,124.52 L662.09,124.53 L662.63,124.54 L663.17,124.55 L663.71,124.56 L664.26,124.57 L664.8,124.58 L665.34,124.59 L665.89,124.6 L666.43,124.6 L666.97,124.61 L667.51,124.62 L668.06,124.62 L668.6,124.63 L669.14,124.63 L669.69,124.64 L670.23,124.64 L670.77,124.65 L671.31,124.65 L671.86,124.65 L672.4,124.66 L672.94,124.66 L673.49,124.66 L674.03,124.67 L674.57,124.67 L675.11,124.67 L675.66,124.67 L676.2,124.68" fill="none" stroke="#1cff1c" stroke-width="1.2" stroke-linejoin="round" />
<text x="557.5" y="20.61" font-size="6.98" font-weight="bold" font-family='"Liberation Sans", sans-serif' fill="#111" stroke="#111" stroke-width="0.05" textLength="21.35" lengthAdjust="spacing">368.64</text>
<text x="536" y="53.36" font-size="6.83" font-weight="bold" font-family='"Liberation Sans", sans-serif' fill="#111" stroke="#111" stroke-width="0.05" textLength="20.52" lengthAdjust="spacing">362.11</text>
<text x="572.5" y="73.23" font-size="7.05" font-weight="bold" font-family='"Liberation Sans", sans-serif' fill="#111" stroke="#111" stroke-width="0.14" textLength="21.56" lengthAdjust="spacing">391.33</text>
<text x="599.67" y="107.44" font-size="7.08" font-weight="bold" font-family='"Liberation Sans", sans-serif' fill="#111" stroke="#111" stroke-width="0.14" textLength="21.66" lengthAdjust="spacing">431.98</text>
<text x="596.82" y="19" font-size="7.6" font-weight="bold" font-family='"Liberation Sans", sans-serif' fill="#111" stroke="#111" stroke-width="0.14" textLength="42.11" lengthAdjust="spacing">g-C<tspan font-size="4.4" dy="3.0">3</tspan><tspan dy="-3.0">N</tspan><tspan font-size="4.4" dy="3.0">4</tspan><tspan dy="-3.0">@GO</tspan></text>
<text x="596.82" y="29.7" font-size="7.6" font-weight="bold" font-family='"Liberation Sans", sans-serif' fill="#111" stroke="#111" stroke-width="0.14" textLength="69.51" lengthAdjust="spacing">PLE at E<tspan font-size="4.4" dy="2.8">EX</tspan><tspan dy="-2.8"> = 238nm</tspan></text>
<line x1="597.1" y1="39.6" x2="616.9" y2="39.6" stroke="#1c1c1c" stroke-width="1.1"/>
<line x1="597.1" y1="48.7" x2="616.9" y2="48.7" stroke="#ff1e1e" stroke-width="1.1"/>
<text x="618.78" y="41.8" font-size="7.61" font-weight="bold" font-family='"Liberation Sans", sans-serif' fill="#111" stroke="#111" stroke-width="0.14" textLength="47.78" lengthAdjust="spacing">Experimental</text>
<text x="618.97" y="51.3" font-size="7.54" font-weight="bold" font-family='"Liberation Sans", sans-serif' fill="#111" stroke="#111" stroke-width="0.14" textLength="45.24" lengthAdjust="spacing">Gaussian Fit</text>
<path d="M507.6,118.6 L509.6,118.6 M508.6,118.6 L508.6,130.2 M507.6,130.2 L509.6,130.2" stroke="#222" stroke-width="1.0" fill="none"/>
<line x1="676.3" y1="118.5" x2="676.3" y2="130.6" stroke="#bbb" stroke-width="1.6"/>
<text transform="translate(457,163)" font-size="18" text-anchor="start" font-weight="bold" font-family='"Liberation Serif", serif' fill="#111">(c)</text>
<line x1="71.3" y1="186.4" x2="264.6" y2="186.4" stroke="#262626" stroke-width="1.0"/>
<line x1="264.6" y1="186.4" x2="264.6" y2="340.7" stroke="#262626" stroke-width="1.0"/>
<line x1="71.3" y1="185.8" x2="71.3" y2="341.3" stroke="#262626" stroke-width="1.2"/>
<line x1="70.7" y1="340.7" x2="265.2" y2="340.7" stroke="#262626" stroke-width="1.2"/>
<line x1="69.7" y1="310.87" x2="71.3" y2="310.87" stroke="#262626" stroke-width="0.9"/>
<line x1="69.7" y1="260.61" x2="71.3" y2="260.61" stroke="#262626" stroke-width="0.9"/>
<line x1="69.7" y1="210.35" x2="71.3" y2="210.35" stroke="#262626" stroke-width="0.9"/>
<line x1="68.3" y1="336" x2="71.3" y2="336" stroke="#262626" stroke-width="1.0"/>
<text x="59.25" y="340.2" font-size="11.4" font-weight="bold" font-family='"Liberation Sans", sans-serif' fill="#111" stroke="#111" stroke-width="0.2" textLength="6.34" lengthAdjust="spacing">0</text>
<line x1="68.3" y1="285.74" x2="71.3" y2="285.74" stroke="#262626" stroke-width="1.0"/>
<text x="46.6" y="289.94" font-size="11.4" font-weight="bold" font-family='"Liberation Sans", sans-serif' fill="#111" stroke="#111" stroke-width="0.2" textLength="19.02" lengthAdjust="spacing">200</text>
<line x1="68.3" y1="235.48" x2="71.3" y2="235.48" stroke="#262626" stroke-width="1.0"/>
<text x="46.6" y="239.68" font-size="11.4" font-weight="bold" font-family='"Liberation Sans", sans-serif' fill="#111" stroke="#111" stroke-width="0.2" textLength="19.02" lengthAdjust="spacing">400</text>
<line x1="118.87" y1="340.7" x2="118.87" y2="342.5" stroke="#262626" stroke-width="0.9"/>
<line x1="167.8" y1="340.7" x2="167.8" y2="342.5" stroke="#262626" stroke-width="0.9"/>
<line x1="216.73" y1="340.7" x2="216.73" y2="342.5" stroke="#262626" stroke-width="0.9"/>
<line x1="265.65" y1="340.7" x2="265.65" y2="342.5" stroke="#262626" stroke-width="0.9"/>
<line x1="94.4" y1="340.7" x2="94.4" y2="343.7" stroke="#262626" stroke-width="1.0"/>
<text x="84.61" y="355.1" font-size="11.9" font-weight="bold" font-family='"Liberation Sans", sans-serif' fill="#111" stroke="#111" stroke-width="0.21" textLength="19.86" lengthAdjust="spacing">300</text>
<line x1="143.33" y1="340.7" x2="143.33" y2="343.7" stroke="#262626" stroke-width="1.0"/>
<text x="133.6" y="355.1" font-size="11.9" font-weight="bold" font-family='"Liberation Sans", sans-serif' fill="#111" stroke="#111" stroke-width="0.21" textLength="19.86" lengthAdjust="spacing">400</text>
<line x1="192.26" y1="340.7" x2="192.26" y2="343.7" stroke="#262626" stroke-width="1.0"/>
<text x="182.44" y="355.1" font-size="11.9" font-weight="bold" font-family='"Liberation Sans", sans-serif' fill="#111" stroke="#111" stroke-width="0.21" textLength="19.86" lengthAdjust="spacing">500</text>
<line x1="241.19" y1="340.7" x2="241.19" y2="343.7" stroke="#262626" stroke-width="1.0"/>
<text x="231.34" y="355.1" font-size="11.9" font-weight="bold" font-family='"Liberation Sans", sans-serif' fill="#111" stroke="#111" stroke-width="0.21" textLength="19.86" lengthAdjust="spacing">600</text>
<text x="115.02" y="364.92" font-size="11.79" font-weight="bold" font-family='"Liberation Sans", sans-serif' fill="#111" stroke="#111" stroke-width="0.21" textLength="93.25" lengthAdjust="spacing">Wavelength / nm</text>
<text transform="translate(43.78,339.39) scale(1.05,1) rotate(-90)" font-size="11.77" font-weight="bold" font-family='"Liberation Sans", sans-serif' fill="#111" stroke="#111" stroke-width="0.21" textLength="152.13" lengthAdjust="spacing">PL Emission Intensity / a.u.</text>
<path d="M71.3,335.8 L71.69,335.8 L72.07,335.8 L72.46,335.8 L72.85,335.8 L73.23,335.8 L73.62,335.8 L74.01,335.8 L74.39,335.8 L74.78,335.8 L75.17,335.8 L75.55,335.8 L75.94,335.8 L76.33,335.8 L76.71,335.8 L77.1,335.79 L77.49,335.79 L77.87,335.79 L78.26,335.79 L78.64,335.79 L79.03,335.79 L79.42,335.79 L79.8,335.79 L80.19,335.79 L80.58,335.79 L80.96,335.78 L81.35,335.78 L81.74,335.78 L82.12,335.78 L82.51,335.78 L82.9,335.78 L83.28,335.77 L83.67,335.77 L84.06,335.77 L84.44,335.77 L84.83,335.77 L85.22,335.76 L85.6,335.76 L85.99,335.76 L86.38,335.76 L86.76,335.75 L87.15,335.75 L87.54,335.75 L87.92,335.75 L88.31,335.74 L88.7,335.74 L89.08,335.74 L89.47,335.73 L89.86,335.73 L90.24,335.73 L90.63,335.72 L91.02,335.72 L91.4,335.72 L91.79,335.71 L92.17,335.71 L92.56,335.7 L92.95,335.7 L93.33,335.69 L93.72,335.68 L94.11,335.66 L94.49,335.64 L94.88,335.61 L95.27,335.57 L95.65,335.53 L96.04,335.49 L96.43,335.44 L96.81,335.38 L97.2,335.32 L97.59,335.26 L97.97,335.19 L98.46,335.11 L98.95,335.04 L99.44,334.96 L99.94,334.87 L100.43,334.76 L100.92,334.63 L101.42,334.46 L101.91,334.27 L102.4,334.05 L102.9,333.8 L103.33,333.52 L103.71,333.21 L104.1,332.88 L104.49,332.51 L104.87,332.05 L105.26,331.42 L105.65,330.65 L106.03,329.76 L106.42,328.77 L106.81,327.71 L107.19,326.61 L107.58,325.45 L107.96,324.11 L108.35,322.8 L108.74,321.18 L109.12,319.64 L109.51,317.85 L109.9,316.24 L110.28,314.23 L110.67,312.08 L111.06,309.75 L111.35,306.9 L111.63,303.44 L111.91,300.59 L112.19,297.57 L112.47,294.77 L112.75,292.22 L113.03,290.28 L113.31,287.74 L113.59,285.05 L113.87,282.28 L114.21,279.53 L114.6,276.53 L114.98,273.41 L115.37,270.35 L115.76,267.07 L116.14,263.86 L116.53,260.14 L116.92,256.75 L117.3,253.4 L117.69,250 L118.08,246.18 L118.46,242.05 L118.85,238.08 L119.24,234.01 L119.62,229.47 L120.01,225.37 L120.39,222.29 L120.78,219.05 L121.17,215.76 L121.55,212.91 L121.94,209.95 L122.33,206.87 L122.71,204.01 L123.1,201.21 L123.49,198.58 L123.87,196.66 L124.26,194.93 L124.65,193.95 L125.03,193.25 L125.42,192.55 L125.81,191.81 L126.19,191.4 L126.58,190.39 L126.97,189.78 L127.45,189.24 L127.94,188.9 L128.43,188.2 L128.92,188.15 L129.41,188.13 L129.9,188.35 L130.39,188 L130.86,188.45 L131.25,188.82 L131.63,189.39 L132.02,190.39 L132.41,191.72 L132.79,192.86 L133.18,194.6 L133.57,196.4 L133.95,197.58 L134.34,199.01 L134.72,200.87 L135.11,202.42 L135.5,203.81 L135.88,205.75 L136.27,207.3 L136.66,208.7 L137.04,210.35 L137.43,212.04 L137.82,213.82 L138.2,215.56 L138.59,217.52 L138.98,219.48 L139.36,221.57 L139.75,222.97 L140.14,224.67 L140.52,226.57 L140.91,228.45 L141.3,230.18 L141.68,232.49 L142.07,234.52 L142.46,236.33 L142.83,238.13 L143.11,240.26 L143.4,242.13 L143.68,244.27 L143.97,246.58 L144.25,248.53 L144.53,250.49 L144.82,252.63 L145.14,254.45 L145.52,255.93 L145.91,257.85 L146.3,259.13 L146.68,260.63 L147.07,262.07 L147.45,263.54 L147.84,264.86 L148.23,266.14 L148.61,266.93 L149,267.88 L149.39,268.92 L149.77,270.16 L150.16,271.74 L150.55,273.12 L150.93,274.57 L151.32,275.95 L151.71,276.94 L152.09,278.28 L152.48,279.86 L152.87,281.23 L153.25,282.62 L153.64,284.15 L154.03,285.28 L154.41,286.23 L154.8,287.22 L155.19,288.08 L155.57,288.88 L155.96,290.15 L156.35,291.26 L156.73,292.25 L157.12,293.38 L157.51,294.49 L157.89,295.33 L158.28,296.42 L158.67,297.56 L159.05,298.71 L159.44,299.93 L159.83,300.95 L160.21,302.26 L160.6,303.41 L160.98,304.57 L161.37,305.95 L161.76,307.41 L162.14,308.32 L162.53,309.25 L162.92,310.41 L163.3,311.08 L163.69,311.49 L164.08,312.1 L164.46,312.89 L164.85,313.23 L165.24,313.66 L165.62,314.15 L166.01,315.11 L166.4,315.9 L166.78,316.28 L167.17,316.91 L167.56,317.71 L167.94,317.89 L168.33,317.93 L168.72,318.42 L169.1,318.74 L169.49,319.15 L169.88,319.52 L170.26,320.03 L170.65,320.48 L171.04,320.61 L171.42,320.78 L171.81,321.15 L172.2,321.51 L172.58,321.62 L172.97,321.97 L173.36,321.87 L173.74,321.74 L174.13,321.71 L174.52,321.98 L174.9,322.45 L175.29,322.79 L175.67,323.23 L176.06,323.72 L176.45,324.07 L176.83,323.99 L177.22,324.65 L177.61,325.04 L177.99,325.25 L178.38,325.46 L178.77,326.22 L179.15,326.67 L179.54,327 L179.93,327.48 L180.31,328.05 L180.7,328.16 L181.09,328.21 L181.47,328.73 L181.86,328.96 L182.25,329.18 L182.63,329.25 L183.02,329.45 L183.41,329.32 L183.79,329.09 L184.18,328.87 L184.57,329.01 L184.95,328.83 L185.34,328.73 L185.73,328.75 L186.11,328.57 L186.5,328.36 L186.89,328.82 L187.27,328.6 L187.66,329 L188.05,329.45 L188.43,329.98 L188.82,329.83 L189.2,329.81 L189.59,329.34 L189.98,329.5 L190.36,329.58 L190.75,329.57 L191.14,329.95 L191.52,329.88 L191.91,330.95 L192.3,331.04 L192.68,331.1 L193.07,330.89 L193.46,330.57 L193.84,330.76 L194.23,330.92 L194.62,331.01 L195,331.36 L195.39,331.68 L195.78,330.82 L196.16,331.71 L196.55,332.1 L196.94,331.9 L197.32,331.34 L197.71,331.79 L198.1,331.3 L198.48,331.97 L198.87,331.95 L199.26,331.92 L199.64,331.69 L200.03,332.77 L200.42,332.49 L200.8,332.77 L201.19,332.7 L201.58,332.33 L201.96,332.15 L202.35,332.18 L202.73,331.87 L203.12,331.45 L203.51,331.39 L203.89,331.66 L204.28,330.81 L204.67,330.69 L205.05,331.16 L205.44,330.85 L205.83,331.16 L206.21,331.25 L206.6,331.34 L206.99,332.18 L207.37,331.74 L207.76,332.23 L208.15,332.34 L208.53,332.99 L208.92,332.92 L209.31,333.2 L209.69,333.73 L210.08,333.48 L210.47,333.81 L210.85,334.21 L211.24,333.55 L211.63,333.57 L212.01,333.77 L212.4,334.29 L212.79,334.19 L213.17,333.88 L213.56,333.99 L213.95,333.88 L214.33,334.16 L214.72,333.82 L215.11,334.44 L215.49,334.64 L215.88,334.72 L216.26,334.55 L216.65,334.79 L217.04,333.97 L217.42,334.24 L217.81,334.88 L218.2,334.74 L218.58,334.44 L218.97,334.95 L219.36,334.69 L219.74,334.9 L220.13,334.46 L220.52,334.4 L220.9,334.65 L221.29,334.41 L221.68,334.66 L222.06,335.21 L222.45,334.67 L222.84,334.41 L223.22,334.48 L223.61,334.62 L224,335.2 L224.38,334.85 L224.77,334.81 L225.16,334.67 L225.54,335.49 L225.93,335.02 L226.32,334.85 L226.7,334.74 L227.09,334.77 L227.48,334.89 L227.86,335.37 L228.25,334.92 L228.64,334.85 L229.02,335.28 L229.41,335.08 L229.79,335.78 L230.18,335.01 L230.57,335.39 L230.95,335.63 L231.34,335.33 L231.73,335.87 L232.11,335.43 L232.5,335.23 L232.89,335.4 L233.27,335.08 L233.66,335.45 L234.05,335.31 L234.43,335.91 L234.82,335.87 L235.21,335.59 L235.59,335.18 L235.98,335.4 L236.37,335.41 L236.75,335.39 L237.14,335.43 L237.53,336.02 L237.91,335.37 L238.3,335.31 L238.69,336.11 L239.07,335.8 L239.46,336.19 L239.85,335.67 L240.23,336.13 L240.62,335.92 L241.01,336.06 L241.39,336.03 L241.78,335.81 L242.17,335.46 L242.55,335.58 L242.94,336.18 L243.33,336.21 L243.71,336.24 L244.1,335.72 L244.48,336.02 L244.87,336.15 L245.26,336.02 L245.64,336.18 L246.03,335.93 L246.42,336.05 L246.8,336.08 L247.19,335.71 L247.58,336.31 L247.96,336.34 L248.35,335.55 L248.74,336.36 L249.12,336.36 L249.51,336.1 L249.9,335.54 L250.28,336.31 L250.67,335.62 L251.06,336.38 L251.44,336.11 L251.83,335.57 L252.22,335.67 L252.6,336.09 L252.99,336.03 L253.38,336.2 L253.76,336.36 L254.15,335.72 L254.54,335.53 L254.92,336.36 L255.31,335.54 L255.7,336.32 L256.08,335.64 L256.47,336.27 L256.86,336.24 L257.24,336.33 L257.63,336.03 L258.01,336.33 L258.4,335.72 L258.79,336.15 L259.17,335.84 L259.56,336.35 L259.95,336.24 L260.33,335.97 L260.72,336.02 L261.11,335.57 L261.49,335.58 L261.88,336.08 L262.27,335.99 L262.65,336.32 L263.04,336.09 L263.43,335.67 L263.81,335.87 L264.2,336.24" fill="none" stroke="#1c1c1c" stroke-width="1.1" stroke-linejoin="round" />
<path d="M71.3,335.8 L71.69,335.8 L72.07,335.8 L72.46,335.8 L72.85,335.8 L73.23,335.8 L73.62,335.8 L74.01,335.8 L74.39,335.8 L74.78,335.8 L75.17,335.8 L75.55,335.8 L75.94,335.8 L76.33,335.8 L76.71,335.8 L77.1,335.79 L77.49,335.79 L77.87,335.79 L78.26,335.79 L78.64,335.79 L79.03,335.79 L79.42,335.79 L79.8,335.79 L80.19,335.79 L80.58,335.79 L80.96,335.78 L81.35,335.78 L81.74,335.78 L82.12,335.78 L82.51,335.78 L82.9,335.78 L83.28,335.77 L83.67,335.77 L84.06,335.77 L84.44,335.77 L84.83,335.77 L85.22,335.76 L85.6,335.76 L85.99,335.76 L86.38,335.76 L86.76,335.75 L87.15,335.75 L87.54,335.75 L87.92,335.75 L88.31,335.74 L88.7,335.74 L89.08,335.74 L89.47,335.73 L89.86,335.73 L90.24,335.73 L90.63,335.72 L91.02,335.72 L91.4,335.72 L91.79,335.71 L92.17,335.71 L92.56,335.7 L92.95,335.7 L93.33,335.69 L93.72,335.68 L94.11,335.66 L94.49,335.64 L94.88,335.61 L95.27,335.57 L95.65,335.53 L96.04,335.49 L96.43,335.44 L96.81,335.38 L97.2,335.32 L97.59,335.26 L97.97,335.19 L98.36,335.11 L98.75,335.04 L99.13,334.96 L99.52,334.87 L99.91,334.76 L100.29,334.63 L100.68,334.46 L101.07,334.27 L101.45,334.05 L101.84,333.8 L102.23,333.52 L102.61,333.21 L103,332.88 L103.39,332.51 L103.77,332.05 L104.16,331.42 L104.55,330.65 L104.93,329.76 L105.32,328.77 L105.71,327.71 L106.09,326.61 L106.48,325.45 L106.86,324.11 L107.25,322.59 L107.64,320.94 L108.02,319.23 L108.41,317.5 L108.8,315.75 L109.18,313.9 L109.57,311.89 L109.96,309.65 L110.34,306.94 L110.73,303.85 L111.12,300.67 L111.5,297.68 L111.89,295.07 L112.28,292.66 L112.66,290.34 L113.05,287.97 L113.44,285.44 L113.82,282.7 L114.21,279.86 L114.6,276.93 L114.98,273.91 L115.37,270.81 L115.76,267.61 L116.14,264.34 L116.53,260.99 L116.92,257.57 L117.3,254.06 L117.69,250.31 L118.08,246.38 L118.46,242.41 L118.85,238.49 L119.24,234.43 L119.62,230.39 L120.01,226.65 L120.39,223.4 L120.78,220.19 L121.17,216.97 L121.55,213.79 L121.94,210.69 L122.33,207.7 L122.71,204.88 L123.1,202.27 L123.49,199.9 L123.87,197.82 L124.26,196.07 L124.65,194.69 L125.03,193.73 L125.42,192.97 L125.81,192.25 L126.19,191.57 L126.58,190.93 L126.97,190.34 L127.35,189.82 L127.74,189.35 L128.13,188.96 L128.51,188.64 L128.9,188.4 L129.29,188.26 L129.67,188.2 L130.06,188.41 L130.45,189.04 L130.83,189.92 L131.22,190.93 L131.61,192 L131.99,193.43 L132.38,195.1 L132.77,196.82 L133.15,198.4 L133.54,199.93 L133.92,201.45 L134.31,203 L134.7,204.62 L135.08,206.3 L135.47,208.04 L135.86,209.81 L136.24,211.59 L136.63,213.35 L137.02,215.08 L137.4,216.74 L137.79,218.36 L138.18,219.96 L138.56,221.57 L138.95,223.2 L139.34,224.88 L139.72,226.64 L140.11,228.51 L140.5,230.48 L140.88,232.55 L141.27,234.67 L141.66,236.81 L142.04,238.94 L142.43,241.04 L142.82,243.08 L143.2,245.01 L143.59,246.89 L143.98,248.75 L144.36,250.58 L144.75,252.38 L145.14,254.14 L145.52,255.83 L145.91,257.45 L146.3,259 L146.68,260.46 L147.07,261.85 L147.45,263.18 L147.84,264.47 L148.23,265.72 L148.61,266.94 L149,268.13 L149.39,269.32 L149.77,270.5 L150.16,271.7 L150.55,272.9 L150.93,274.13 L151.32,275.4 L151.71,276.69 L152.09,278 L152.48,279.32 L152.87,280.64 L153.25,281.95 L153.64,283.25 L154.03,284.53 L154.41,285.79 L154.8,287 L155.19,288.18 L155.57,289.34 L155.96,290.48 L156.35,291.61 L156.73,292.72 L157.12,293.81 L157.51,294.9 L157.89,295.98 L158.28,297.05 L158.67,298.11 L159.05,299.18 L159.44,300.25 L159.83,301.32 L160.21,302.39 L160.6,303.48 L160.98,304.61 L161.37,305.76 L161.76,306.92 L162.14,308.04 L162.53,309.11 L162.92,310.07 L163.3,310.92 L163.69,311.69 L164.08,312.42 L164.46,313.11 L164.85,313.76 L165.24,314.38 L165.62,314.95 L166.01,315.49 L166.4,316 L166.78,316.47 L167.17,316.93 L167.56,317.37 L167.94,317.79 L168.33,318.19 L168.72,318.58 L169.1,318.95 L169.49,319.3 L169.88,319.63 L170.26,319.95 L170.65,320.26 L171.04,320.55 L171.42,320.83 L171.81,321.09 L172.2,321.35 L172.58,321.59 L172.97,321.83 L173.36,322.05 L173.74,322.28 L174.13,322.5 L174.52,322.72 L174.9,322.94 L175.29,323.17 L175.67,323.38 L176.06,323.6 L176.45,323.81 L176.83,324.02 L177.22,324.22 L177.61,324.43 L177.99,324.63 L178.38,324.83 L178.77,325.03 L179.15,325.22 L179.54,325.42 L179.93,325.62 L180.31,325.81 L180.7,326.01 L181.09,326.21 L181.47,326.41 L181.86,326.6 L182.25,326.8 L182.63,326.99 L183.02,327.18 L183.41,327.37 L183.79,327.55 L184.18,327.73 L184.57,327.91 L184.95,328.09 L185.34,328.26 L185.73,328.42 L186.11,328.59 L186.5,328.75 L186.89,328.91 L187.27,329.06 L187.66,329.22 L188.05,329.38 L188.43,329.53 L188.82,329.68 L189.2,329.83 L189.59,329.98 L189.98,330.13 L190.36,330.27 L190.75,330.42 L191.14,330.56 L191.52,330.69 L191.91,330.83 L192.3,330.96 L192.68,331.08 L193.07,331.21 L193.46,331.33 L193.84,331.45 L194.23,331.56 L194.62,331.67 L195,331.78 L195.39,331.88 L195.78,331.98 L196.16,332.08 L196.55,332.19 L196.94,332.29 L197.32,332.39 L197.71,332.49 L198.1,332.59 L198.48,332.69 L198.87,332.79 L199.26,332.89 L199.64,332.98 L200.03,333.08 L200.42,333.17 L200.8,333.26 L201.19,333.36 L201.58,333.45 L201.96,333.53 L202.35,333.62 L202.73,333.7 L203.12,333.79 L203.51,333.87 L203.89,333.95 L204.28,334.02 L204.67,334.1 L205.05,334.17 L205.44,334.24 L205.83,334.31 L206.21,334.37 L206.6,334.43 L206.99,334.49 L207.37,334.55 L207.76,334.6 L208.15,334.65 L208.53,334.7 L208.92,334.75 L209.31,334.79 L209.69,334.82 L210.08,334.86 L210.47,334.89 L210.85,334.92 L211.24,334.96 L211.63,334.99 L212.01,335.02 L212.4,335.05 L212.79,335.08 L213.17,335.11 L213.56,335.14 L213.95,335.17 L214.33,335.2 L214.72,335.23 L215.11,335.26 L215.49,335.29 L215.88,335.31 L216.26,335.34 L216.65,335.37 L217.04,335.39 L217.42,335.42 L217.81,335.44 L218.2,335.47 L218.58,335.49 L218.97,335.51 L219.36,335.53 L219.74,335.56 L220.13,335.58 L220.52,335.6 L220.9,335.62 L221.29,335.64 L221.68,335.66 L222.06,335.68 L222.45,335.69 L222.84,335.71 L223.22,335.73 L223.61,335.74 L224,335.76 L224.38,335.77 L224.77,335.79 L225.16,335.8 L225.54,335.81 L225.93,335.82 L226.32,335.83 L226.7,335.84 L227.09,335.85 L227.48,335.86 L227.86,335.87 L228.25,335.88 L228.64,335.89 L229.02,335.89 L229.41,335.9 L229.79,335.9 L230.18,335.9 L230.57,335.91 L230.95,335.91 L231.34,335.91 L231.73,335.92 L232.11,335.92 L232.5,335.92 L232.89,335.93 L233.27,335.93 L233.66,335.93 L234.05,335.93 L234.43,335.94 L234.82,335.94 L235.21,335.94 L235.59,335.94 L235.98,335.95 L236.37,335.95 L236.75,335.95 L237.14,335.95 L237.53,335.96 L237.91,335.96 L238.3,335.96 L238.69,335.96 L239.07,335.96 L239.46,335.97 L239.85,335.97 L240.23,335.97 L240.62,335.97 L241.01,335.97 L241.39,335.98 L241.78,335.98 L242.17,335.98 L242.55,335.98 L242.94,335.98 L243.33,335.98 L243.71,335.98 L244.1,335.99 L244.48,335.99 L244.87,335.99 L245.26,335.99 L245.64,335.99 L246.03,335.99 L246.42,335.99 L246.8,335.99 L247.19,335.99 L247.58,335.99 L247.96,335.99 L248.35,335.99 L248.74,336 L249.12,336 L249.51,336 L249.9,336 L250.28,336 L250.67,336 L251.06,336 L251.44,336 L251.83,336 L252.22,336 L252.6,336 L252.99,336 L253.38,336 L253.76,336 L254.15,336 L254.54,336 L254.92,336 L255.31,336 L255.7,336 L256.08,336 L256.47,336 L256.86,336 L257.24,336 L257.63,336 L258.01,336 L258.4,336 L258.79,336 L259.17,336 L259.56,336 L259.95,336 L260.33,336 L260.72,336 L261.11,336 L261.49,336 L261.88,336 L262.27,336 L262.65,336 L263.04,336 L263.43,336 L263.81,336 L264.2,336" fill="none" stroke="#ff1e1e" stroke-width="1.15" stroke-linejoin="round" />
<path d="M69.94,336 L70.59,336 L71.24,336 L71.89,336 L72.54,336 L73.2,336 L73.85,336 L74.5,336 L75.15,336 L75.81,336 L76.46,336 L77.11,336 L77.76,336 L78.42,336 L79.07,336 L79.72,336 L80.37,336 L81.03,336 L81.68,336 L82.33,336 L82.98,336 L83.64,336 L84.29,336 L84.94,336 L85.59,336 L86.24,336 L86.9,336 L87.55,336 L88.2,336 L88.85,336 L89.51,336 L90.16,336 L90.81,336 L91.46,335.99 L92.12,335.99 L92.77,335.99 L93.42,335.98 L94.07,335.98 L94.73,335.97 L95.38,335.95 L96.03,335.93 L96.68,335.91 L97.34,335.87 L97.99,335.83 L98.64,335.77 L99.29,335.68 L99.95,335.58 L100.6,335.44 L101.25,335.26 L101.9,335.04 L102.56,334.75 L103.21,334.4 L103.86,333.95 L104.51,333.4 L105.16,332.73 L105.82,331.91 L106.47,330.93 L107.12,329.76 L107.77,328.37 L108.43,326.75 L109.08,324.86 L109.73,322.68 L110.38,320.2 L111.04,317.4 L111.69,314.25 L112.34,310.76 L112.99,306.93 L113.65,302.77 L114.3,298.29 L114.95,293.51 L115.6,288.49 L116.26,283.27 L116.91,277.9 L117.56,272.46 L118.21,267.02 L118.87,261.66 L119.52,256.49 L120.17,251.57 L120.82,247.02 L121.47,242.91 L122.13,239.33 L122.78,236.35 L123.43,234.04 L124.08,232.44 L124.74,231.6 L125.39,231.52 L126.04,232.21 L126.69,233.66 L127.35,235.84 L128,238.69 L128.65,242.15 L129.3,246.16 L129.96,250.63 L130.61,255.48 L131.26,260.61 L131.91,265.94 L132.57,271.37 L133.22,276.81 L133.87,282.2 L134.52,287.46 L135.18,292.53 L135.83,297.35 L136.48,301.9 L137.13,306.13 L137.78,310.03 L138.44,313.58 L139.09,316.79 L139.74,319.67 L140.39,322.21 L141.05,324.45 L141.7,326.39 L142.35,328.07 L143,329.5 L143.66,330.71 L144.31,331.73 L144.96,332.58 L145.61,333.28 L146.27,333.85 L146.92,334.31 L147.57,334.69 L148.22,334.99 L148.88,335.22 L149.53,335.41 L150.18,335.55 L150.83,335.67 L151.48,335.75 L152.14,335.82 L152.79,335.86 L153.44,335.9 L154.09,335.93 L154.75,335.95 L155.4,335.96 L156.05,335.97 L156.7,335.98 L157.36,335.99 L158.01,335.99 L158.66,335.99 L159.31,336 L159.97,336 L160.62,336 L161.27,336 L161.92,336 L162.58,336 L163.23,336 L163.88,336 L164.53,336 L165.19,336 L165.84,336 L166.49,336 L167.14,336 L167.8,336 L168.45,336 L169.1,336 L169.75,336 L170.4,336 L171.06,336 L171.71,336 L172.36,336 L173.01,336 L173.67,336 L174.32,336 L174.97,336 L175.62,336 L176.28,336 L176.93,336 L177.58,336 L178.23,336 L178.89,336 L179.54,336 L180.19,336 L180.84,336 L181.5,336 L182.15,336 L182.8,336 L183.45,336 L184.11,336 L184.76,336 L185.41,336 L186.06,336 L186.71,336 L187.37,336 L188.02,336 L188.67,336 L189.32,336 L189.98,336 L190.63,336 L191.28,336 L191.93,336 L192.59,336 L193.24,336 L193.89,336 L194.54,336 L195.2,336 L195.85,336 L196.5,336 L197.15,336 L197.81,336 L198.46,336 L199.11,336 L199.76,336 L200.42,336 L201.07,336 L201.72,336 L202.37,336 L203.02,336 L203.68,336 L204.33,336 L204.98,336 L205.63,336 L206.29,336 L206.94,336 L207.59,336 L208.24,336 L208.9,336 L209.55,336 L210.2,336 L210.85,336 L211.51,336 L212.16,336 L212.81,336 L213.46,336 L214.12,336 L214.77,336 L215.42,336 L216.07,336 L216.73,336 L217.38,336 L218.03,336 L218.68,336 L219.33,336 L219.99,336 L220.64,336 L221.29,336 L221.94,336 L222.6,336 L223.25,336 L223.9,336 L224.55,336 L225.21,336 L225.86,336 L226.51,336 L227.16,336 L227.82,336 L228.47,336 L229.12,336 L229.77,336 L230.43,336 L231.08,336 L231.73,336 L232.38,336 L233.03,336 L233.69,336 L234.34,336 L234.99,336 L235.64,336 L236.3,336 L236.95,336 L237.6,336 L238.25,336 L238.91,336 L239.56,336 L240.21,336 L240.86,336 L241.52,336 L242.17,336 L242.82,336 L243.47,336 L244.13,336 L244.78,336 L245.43,336 L246.08,336 L246.74,336 L247.39,336 L248.04,336 L248.69,336 L249.35,336 L250,336 L250.65,336 L251.3,336 L251.95,336 L252.61,336 L253.26,336 L253.91,336 L254.56,336 L255.22,336 L255.87,336 L256.52,336 L257.17,336 L257.83,336 L258.48,336 L259.13,336 L259.78,336 L260.44,336 L261.09,336 L261.74,336 L262.39,336 L263.05,336 L263.7,336 L264.35,336 L265,336 L265.65,336" fill="none" stroke="#1cff1c" stroke-width="1.2" stroke-linejoin="round" />
<path d="M69.94,336 L70.59,336 L71.24,336 L71.89,336 L72.54,336 L73.2,336 L73.85,336 L74.5,336 L75.15,336 L75.81,336 L76.46,336 L77.11,336 L77.76,336 L78.42,336 L79.07,336 L79.72,336 L80.37,336 L81.03,336 L81.68,336 L82.33,336 L82.98,336 L83.64,335.99 L84.29,335.99 L84.94,335.99 L85.59,335.99 L86.24,335.99 L86.9,335.99 L87.55,335.98 L88.2,335.98 L88.85,335.97 L89.51,335.97 L90.16,335.96 L90.81,335.95 L91.46,335.94 L92.12,335.93 L92.77,335.91 L93.42,335.89 L94.07,335.87 L94.73,335.84 L95.38,335.81 L96.03,335.78 L96.68,335.74 L97.34,335.69 L97.99,335.63 L98.64,335.56 L99.29,335.49 L99.95,335.4 L100.6,335.3 L101.25,335.18 L101.9,335.04 L102.56,334.89 L103.21,334.72 L103.86,334.52 L104.51,334.29 L105.16,334.04 L105.82,333.75 L106.47,333.43 L107.12,333.07 L107.77,332.67 L108.43,332.23 L109.08,331.73 L109.73,331.19 L110.38,330.59 L111.04,329.93 L111.69,329.21 L112.34,328.42 L112.99,327.57 L113.65,326.64 L114.3,325.63 L114.95,324.55 L115.6,323.39 L116.26,322.15 L116.91,320.83 L117.56,319.43 L118.21,317.94 L118.87,316.37 L119.52,314.72 L120.17,312.99 L120.82,311.18 L121.47,309.31 L122.13,307.36 L122.78,305.36 L123.43,303.31 L124.08,301.2 L124.74,299.06 L125.39,296.89 L126.04,294.71 L126.69,292.51 L127.35,290.32 L128,288.14 L128.65,285.99 L129.3,283.89 L129.96,281.83 L130.61,279.84 L131.26,277.94 L131.91,276.12 L132.57,274.41 L133.22,272.82 L133.87,271.36 L134.52,270.04 L135.18,268.87 L135.83,267.85 L136.48,267 L137.13,266.33 L137.78,265.83 L138.44,265.52 L139.09,265.39 L139.74,265.44 L140.39,265.68 L141.05,266.11 L141.7,266.71 L142.35,267.49 L143,268.44 L143.66,269.55 L144.31,270.81 L144.96,272.22 L145.61,273.76 L146.27,275.43 L146.92,277.2 L147.57,279.07 L148.22,281.03 L148.88,283.06 L149.53,285.14 L150.18,287.28 L150.83,289.45 L151.48,291.63 L152.14,293.83 L152.79,296.02 L153.44,298.2 L154.09,300.35 L154.75,302.47 L155.4,304.55 L156.05,306.57 L156.7,308.54 L157.36,310.44 L158.01,312.27 L158.66,314.03 L159.31,315.72 L159.97,317.32 L160.62,318.84 L161.27,320.28 L161.92,321.63 L162.58,322.91 L163.23,324.1 L163.88,325.21 L164.53,326.25 L165.19,327.2 L165.84,328.09 L166.49,328.9 L167.14,329.65 L167.8,330.33 L168.45,330.96 L169.1,331.52 L169.75,332.04 L170.4,332.5 L171.06,332.92 L171.71,333.29 L172.36,333.63 L173.01,333.93 L173.67,334.19 L174.32,334.43 L174.97,334.64 L175.62,334.82 L176.28,334.98 L176.93,335.13 L177.58,335.25 L178.23,335.36 L178.89,335.45 L179.54,335.53 L180.19,335.6 L180.84,335.67 L181.5,335.72 L182.15,335.76 L182.8,335.8 L183.45,335.83 L184.11,335.86 L184.76,335.88 L185.41,335.9 L186.06,335.92 L186.71,335.93 L187.37,335.95 L188.02,335.95 L188.67,335.96 L189.32,335.97 L189.98,335.98 L190.63,335.98 L191.28,335.98 L191.93,335.99 L192.59,335.99 L193.24,335.99 L193.89,335.99 L194.54,335.99 L195.2,336 L195.85,336 L196.5,336 L197.15,336 L197.81,336 L198.46,336 L199.11,336 L199.76,336 L200.42,336 L201.07,336 L201.72,336 L202.37,336 L203.02,336 L203.68,336 L204.33,336 L204.98,336 L205.63,336 L206.29,336 L206.94,336 L207.59,336 L208.24,336 L208.9,336 L209.55,336 L210.2,336 L210.85,336 L211.51,336 L212.16,336 L212.81,336 L213.46,336 L214.12,336 L214.77,336 L215.42,336 L216.07,336 L216.73,336 L217.38,336 L218.03,336 L218.68,336 L219.33,336 L219.99,336 L220.64,336 L221.29,336 L221.94,336 L222.6,336 L223.25,336 L223.9,336 L224.55,336 L225.21,336 L225.86,336 L226.51,336 L227.16,336 L227.82,336 L228.47,336 L229.12,336 L229.77,336 L230.43,336 L231.08,336 L231.73,336 L232.38,336 L233.03,336 L233.69,336 L234.34,336 L234.99,336 L235.64,336 L236.3,336 L236.95,336 L237.6,336 L238.25,336 L238.91,336 L239.56,336 L240.21,336 L240.86,336 L241.52,336 L242.17,336 L242.82,336 L243.47,336 L244.13,336 L244.78,336 L245.43,336 L246.08,336 L246.74,336 L247.39,336 L248.04,336 L248.69,336 L249.35,336 L250,336 L250.65,336 L251.3,336 L251.95,336 L252.61,336 L253.26,336 L253.91,336 L254.56,336 L255.22,336 L255.87,336 L256.52,336 L257.17,336 L257.83,336 L258.48,336 L259.13,336 L259.78,336 L260.44,336 L261.09,336 L261.74,336 L262.39,336 L263.05,336 L263.7,336 L264.35,336 L265,336 L265.65,336" fill="none" stroke="#1cff1c" stroke-width="1.2" stroke-linejoin="round" />
<path d="M69.94,336 L70.59,336 L71.24,336 L71.89,336 L72.54,335.99 L73.2,335.99 L73.85,335.99 L74.5,335.99 L75.15,335.99 L75.81,335.99 L76.46,335.99 L77.11,335.99 L77.76,335.99 L78.42,335.99 L79.07,335.98 L79.72,335.98 L80.37,335.98 L81.03,335.98 L81.68,335.98 L82.33,335.97 L82.98,335.97 L83.64,335.97 L84.29,335.96 L84.94,335.96 L85.59,335.95 L86.24,335.95 L86.9,335.94 L87.55,335.94 L88.2,335.93 L88.85,335.93 L89.51,335.92 L90.16,335.91 L90.81,335.9 L91.46,335.89 L92.12,335.88 L92.77,335.87 L93.42,335.86 L94.07,335.84 L94.73,335.83 L95.38,335.81 L96.03,335.8 L96.68,335.78 L97.34,335.76 L97.99,335.74 L98.64,335.72 L99.29,335.69 L99.95,335.67 L100.6,335.64 L101.25,335.61 L101.9,335.58 L102.56,335.54 L103.21,335.5 L103.86,335.46 L104.51,335.42 L105.16,335.38 L105.82,335.33 L106.47,335.28 L107.12,335.22 L107.77,335.17 L108.43,335.11 L109.08,335.04 L109.73,334.97 L110.38,334.9 L111.04,334.83 L111.69,334.75 L112.34,334.66 L112.99,334.57 L113.65,334.48 L114.3,334.38 L114.95,334.28 L115.6,334.17 L116.26,334.06 L116.91,333.94 L117.56,333.82 L118.21,333.69 L118.87,333.55 L119.52,333.41 L120.17,333.27 L120.82,333.12 L121.47,332.96 L122.13,332.8 L122.78,332.63 L123.43,332.46 L124.08,332.28 L124.74,332.1 L125.39,331.91 L126.04,331.71 L126.69,331.51 L127.35,331.3 L128,331.09 L128.65,330.87 L129.3,330.65 L129.96,330.43 L130.61,330.2 L131.26,329.96 L131.91,329.72 L132.57,329.48 L133.22,329.23 L133.87,328.99 L134.52,328.73 L135.18,328.48 L135.83,328.22 L136.48,327.97 L137.13,327.71 L137.78,327.45 L138.44,327.19 L139.09,326.93 L139.74,326.67 L140.39,326.41 L141.05,326.15 L141.7,325.89 L142.35,325.64 L143,325.39 L143.66,325.14 L144.31,324.9 L144.96,324.66 L145.61,324.43 L146.27,324.2 L146.92,323.98 L147.57,323.77 L148.22,323.56 L148.88,323.36 L149.53,323.17 L150.18,322.98 L150.83,322.81 L151.48,322.64 L152.14,322.49 L152.79,322.34 L153.44,322.21 L154.09,322.08 L154.75,321.97 L155.4,321.87 L156.05,321.78 L156.7,321.7 L157.36,321.64 L158.01,321.59 L158.66,321.55 L159.31,321.52 L159.97,321.5 L160.62,321.5 L161.27,321.51 L161.92,321.53 L162.58,321.57 L163.23,321.62 L163.88,321.68 L164.53,321.75 L165.19,321.84 L165.84,321.93 L166.49,322.04 L167.14,322.16 L167.8,322.29 L168.45,322.44 L169.1,322.59 L169.75,322.75 L170.4,322.92 L171.06,323.1 L171.71,323.29 L172.36,323.49 L173.01,323.69 L173.67,323.9 L174.32,324.12 L174.97,324.35 L175.62,324.58 L176.28,324.82 L176.93,325.06 L177.58,325.3 L178.23,325.55 L178.89,325.8 L179.54,326.06 L180.19,326.32 L180.84,326.57 L181.5,326.83 L182.15,327.09 L182.8,327.36 L183.45,327.62 L184.11,327.88 L184.76,328.13 L185.41,328.39 L186.06,328.65 L186.71,328.9 L187.37,329.15 L188.02,329.4 L188.67,329.64 L189.32,329.88 L189.98,330.12 L190.63,330.35 L191.28,330.57 L191.93,330.8 L192.59,331.02 L193.24,331.23 L193.89,331.44 L194.54,331.64 L195.2,331.84 L195.85,332.03 L196.5,332.22 L197.15,332.4 L197.81,332.57 L198.46,332.74 L199.11,332.91 L199.76,333.06 L200.42,333.22 L201.07,333.36 L201.72,333.51 L202.37,333.64 L203.02,333.77 L203.68,333.9 L204.33,334.02 L204.98,334.13 L205.63,334.24 L206.29,334.35 L206.94,334.45 L207.59,334.54 L208.24,334.63 L208.9,334.72 L209.55,334.8 L210.2,334.88 L210.85,334.95 L211.51,335.02 L212.16,335.08 L212.81,335.15 L213.46,335.2 L214.12,335.26 L214.77,335.31 L215.42,335.36 L216.07,335.41 L216.73,335.45 L217.38,335.49 L218.03,335.53 L218.68,335.56 L219.33,335.6 L219.99,335.63 L220.64,335.66 L221.29,335.68 L221.94,335.71 L222.6,335.73 L223.25,335.75 L223.9,335.77 L224.55,335.79 L225.21,335.81 L225.86,335.83 L226.51,335.84 L227.16,335.85 L227.82,335.87 L228.47,335.88 L229.12,335.89 L229.77,335.9 L230.43,335.91 L231.08,335.92 L231.73,335.92 L232.38,335.93 L233.03,335.94 L233.69,335.94 L234.34,335.95 L234.99,335.95 L235.64,335.96 L236.3,335.96 L236.95,335.97 L237.6,335.97 L238.25,335.97 L238.91,335.97 L239.56,335.98 L240.21,335.98 L240.86,335.98 L241.52,335.98 L242.17,335.99 L242.82,335.99 L243.47,335.99 L244.13,335.99 L244.78,335.99 L245.43,335.99 L246.08,335.99 L246.74,335.99 L247.39,335.99 L248.04,335.99 L248.69,336 L249.35,336 L250,336 L250.65,336 L251.3,336 L251.95,336 L252.61,336 L253.26,336 L253.91,336 L254.56,336 L255.22,336 L255.87,336 L256.52,336 L257.17,336 L257.83,336 L258.48,336 L259.13,336 L259.78,336 L260.44,336 L261.09,336 L261.74,336 L262.39,336 L263.05,336 L263.7,336 L264.35,336 L265,336 L265.65,336" fill="none" stroke="#1cff1c" stroke-width="1.2" stroke-linejoin="round" />
<text x="137.37" y="195.36" font-size="8" font-weight="bold" font-family='"Liberation Sans", sans-serif' fill="#111" stroke="#111" stroke-width="0.15" textLength="24.48" lengthAdjust="spacing">371.08</text>
<text x="92.37" y="238.41" font-size="8.14" font-weight="bold" font-family='"Liberation Sans", sans-serif' fill="#111" stroke="#111" stroke-width="0.15" textLength="24.88" lengthAdjust="spacing">362.34</text>
<text x="149.57" y="267.38" font-size="8.07" font-weight="bold" font-family='"Liberation Sans", sans-serif' fill="#111" stroke="#111" stroke-width="0.15" textLength="24.68" lengthAdjust="spacing">391.94</text>
<text x="164.85" y="310.78" font-size="8.06" font-weight="bold" font-family='"Liberation Sans", sans-serif' fill="#111" stroke="#111" stroke-width="0.15" textLength="24.64" lengthAdjust="spacing">434.96</text>
<text x="176.14" y="217.6" font-size="8.9" font-weight="bold" font-family='"Liberation Sans", sans-serif' fill="#111" stroke="#111" stroke-width="0.16" textLength="75.74" lengthAdjust="spacing">g-C<tspan font-size="5.2" dy="3.4">3</tspan><tspan dy="-3.4">N</tspan><tspan font-size="5.2" dy="3.4">4</tspan><tspan dy="-3.4">@r-GO(AA)</tspan></text>
<text x="176.14" y="229.1" font-size="8.9" font-weight="bold" font-family='"Liberation Sans", sans-serif' fill="#111" stroke="#111" stroke-width="0.16" textLength="81.34" lengthAdjust="spacing">PLE at E<tspan font-size="5.2" dy="3.4">EX</tspan><tspan dy="-3.4"> = 238nm</tspan></text>
<line x1="176.5" y1="249.6" x2="199.9" y2="249.6" stroke="#1c1c1c" stroke-width="1.1"/>
<line x1="176.5" y1="260.2" x2="199.9" y2="260.2" stroke="#ff1e1e" stroke-width="1.1"/>
<text x="202.3" y="252.8" font-size="8.89" font-weight="bold" font-family='"Liberation Sans", sans-serif' fill="#111" stroke="#111" stroke-width="0.16" textLength="55.85" lengthAdjust="spacing">Experimental</text>
<text x="202.52" y="263.4" font-size="8.87" font-weight="bold" font-family='"Liberation Sans", sans-serif' fill="#111" stroke="#111" stroke-width="0.16" textLength="53.21" lengthAdjust="spacing">Gaussian Fit</text>
<text transform="translate(4.5,369.5)" font-size="18" text-anchor="start" font-weight="bold" font-family='"Liberation Serif", serif' fill="#111">(d)</text>
<line x1="342.6" y1="177.4" x2="542.2" y2="177.4" stroke="#262626" stroke-width="1.3"/>
<line x1="542.2" y1="177.4" x2="542.2" y2="337.8" stroke="#262626" stroke-width="1.3"/>
<line x1="342.6" y1="176.8" x2="342.6" y2="338.4" stroke="#262626" stroke-width="1.2"/>
<line x1="342" y1="337.8" x2="542.8" y2="337.8" stroke="#262626" stroke-width="1.2"/>
<line x1="341" y1="307.46" x2="342.6" y2="307.46" stroke="#262626" stroke-width="0.9"/>
<line x1="341" y1="261.17" x2="342.6" y2="261.17" stroke="#262626" stroke-width="0.9"/>
<line x1="341" y1="214.88" x2="342.6" y2="214.88" stroke="#262626" stroke-width="0.9"/>
<line x1="339.6" y1="330.6" x2="342.6" y2="330.6" stroke="#262626" stroke-width="1.0"/>
<text x="330.09" y="333.85" font-size="12.1" font-weight="bold" font-family='"Liberation Sans", sans-serif' fill="#111" stroke="#111" stroke-width="0.21" textLength="6.73" lengthAdjust="spacing">0</text>
<line x1="339.6" y1="284.31" x2="342.6" y2="284.31" stroke="#262626" stroke-width="1.0"/>
<text x="316.66" y="287.56" font-size="12.1" font-weight="bold" font-family='"Liberation Sans", sans-serif' fill="#111" stroke="#111" stroke-width="0.21" textLength="20.19" lengthAdjust="spacing">300</text>
<line x1="339.6" y1="238.02" x2="342.6" y2="238.02" stroke="#262626" stroke-width="1.0"/>
<text x="316.66" y="241.27" font-size="12.1" font-weight="bold" font-family='"Liberation Sans", sans-serif' fill="#111" stroke="#111" stroke-width="0.21" textLength="20.19" lengthAdjust="spacing">600</text>
<line x1="339.6" y1="191.73" x2="342.6" y2="191.73" stroke="#262626" stroke-width="1.0"/>
<text x="316.66" y="194.98" font-size="12.1" font-weight="bold" font-family='"Liberation Sans", sans-serif' fill="#111" stroke="#111" stroke-width="0.21" textLength="20.19" lengthAdjust="spacing">900</text>
<line x1="393.21" y1="337.8" x2="393.21" y2="339.6" stroke="#262626" stroke-width="0.9"/>
<line x1="446.84" y1="337.8" x2="446.84" y2="339.6" stroke="#262626" stroke-width="0.9"/>
<line x1="500.47" y1="337.8" x2="500.47" y2="339.6" stroke="#262626" stroke-width="0.9"/>
<line x1="366.4" y1="337.8" x2="366.4" y2="341" stroke="#262626" stroke-width="1.0"/>
<text x="356.02" y="352.6" font-size="12.1" font-weight="bold" font-family='"Liberation Sans", sans-serif' fill="#111" stroke="#111" stroke-width="0.21" textLength="20.19" lengthAdjust="spacing">300</text>
<line x1="420.03" y1="337.8" x2="420.03" y2="341" stroke="#262626" stroke-width="1.0"/>
<text x="409.71" y="352.6" font-size="12.1" font-weight="bold" font-family='"Liberation Sans", sans-serif' fill="#111" stroke="#111" stroke-width="0.21" textLength="20.19" lengthAdjust="spacing">400</text>
<line x1="473.66" y1="337.8" x2="473.66" y2="341" stroke="#262626" stroke-width="1.0"/>
<text x="463.25" y="352.6" font-size="12.1" font-weight="bold" font-family='"Liberation Sans", sans-serif' fill="#111" stroke="#111" stroke-width="0.21" textLength="20.19" lengthAdjust="spacing">500</text>
<line x1="527.29" y1="337.8" x2="527.29" y2="341" stroke="#262626" stroke-width="1.0"/>
<text x="516.85" y="352.6" font-size="12.1" font-weight="bold" font-family='"Liberation Sans", sans-serif' fill="#111" stroke="#111" stroke-width="0.21" textLength="20.19" lengthAdjust="spacing">600</text>
<text x="393.98" y="365.5" font-size="11.94" font-weight="bold" font-family='"Liberation Sans", sans-serif' fill="#111" stroke="#111" stroke-width="0.21" textLength="94.41" lengthAdjust="spacing">Wavelength / nm</text>
<text transform="translate(311.9,341.41) scale(1.04,1) rotate(-90)" font-size="12.13" font-weight="bold" font-family='"Liberation Sans", sans-serif' fill="#111" stroke="#111" stroke-width="0.21" textLength="156.88" lengthAdjust="spacing">PL Emission Intensity / a.u.</text>
<path d="M342.6,330.4 L343,330.4 L343.4,330.4 L343.8,330.4 L344.2,330.4 L344.6,330.4 L345,330.4 L345.4,330.4 L345.8,330.4 L346.2,330.4 L346.6,330.4 L347,330.39 L347.4,330.39 L347.8,330.39 L348.2,330.39 L348.6,330.39 L349,330.39 L349.4,330.39 L349.8,330.38 L350.2,330.38 L350.6,330.38 L351,330.38 L351.4,330.38 L351.8,330.37 L352.2,330.37 L352.6,330.37 L353,330.37 L353.4,330.36 L353.8,330.36 L354.2,330.36 L354.6,330.35 L355,330.35 L355.4,330.34 L355.8,330.34 L356.2,330.34 L356.6,330.33 L357,330.33 L357.4,330.32 L357.8,330.32 L358.2,330.31 L358.6,330.31 L359,330.3 L359.4,330.3 L359.8,330.29 L360.2,330.28 L360.6,330.28 L361,330.27 L361.4,330.27 L361.8,330.26 L362.2,330.25 L362.6,330.24 L363,330.24 L363.4,330.23 L363.8,330.22 L364.2,330.21 L364.6,330.2 L365,330.19 L365.4,330.17 L365.8,330.13 L366.2,330.07 L366.6,330 L367,329.92 L367.4,329.83 L367.8,329.73 L368.2,329.62 L368.6,329.5 L369,329.39 L369.4,329.26 L369.8,329.13 L370.26,328.98 L370.77,328.81 L371.27,328.61 L371.79,328.4 L372.3,328.16 L372.81,327.9 L373.32,327.63 L373.82,327.33 L374.34,327.02 L374.85,326.7 L375.3,326.36 L375.7,326.01 L376.1,325.63 L376.5,325.21 L376.9,324.74 L377.3,324.24 L377.7,323.69 L378.1,323.21 L378.5,322.25 L378.9,321.4 L379.3,320.93 L379.7,320.22 L380.1,319.32 L380.5,318.6 L380.9,317.39 L381.3,315.9 L381.7,314.79 L382.1,313.51 L382.5,312.01 L382.9,310.6 L383.25,308.96 L383.54,307.07 L383.82,305.18 L384.12,303.15 L384.41,301.08 L384.7,299.26 L384.99,297.54 L385.27,296.01 L385.56,294.47 L385.86,292.96 L386.2,291.32 L386.6,288.93 L387,286.04 L387.4,282.65 L387.8,279.09 L388.2,275.41 L388.6,271.84 L389,268.51 L389.4,264.84 L389.8,261.21 L390.2,257.46 L390.6,253.93 L391,250.43 L391.4,247.51 L391.8,244.6 L392.2,241.96 L392.6,239.23 L393,236.56 L393.4,234.08 L393.8,231.25 L394.2,228.48 L394.6,225.52 L395,222.45 L395.4,218.96 L395.8,215.92 L396.2,212.73 L396.6,209.96 L397,207.6 L397.4,205.6 L397.8,203.76 L398.2,201.99 L398.6,200.44 L399,198.58 L399.4,196.77 L399.8,195.31 L400.2,193.85 L400.6,193.08 L401,192.37 L401.53,191.61 L402.07,190.78 L402.6,190.35 L403.13,189.68 L403.67,189.05 L404.2,188.77 L404.73,188.62 L405.2,188.76 L405.6,189.43 L406,190.13 L406.4,190.95 L406.8,191.83 L407.2,192.91 L407.6,193.58 L408,194.75 L408.4,195.95 L408.8,197.26 L409.2,198.36 L409.6,199.65 L410,200.85 L410.4,202.45 L410.8,203.91 L411.2,205.31 L411.6,206.81 L412,208.16 L412.4,209.44 L412.8,210.82 L413.2,212.56 L413.6,213.9 L414,215.66 L414.4,216.99 L414.8,218.7 L415.2,220.09 L415.6,221.49 L416,222.98 L416.4,224.53 L416.8,225.82 L417.2,227.19 L417.6,229.12 L418,230.41 L418.4,232.22 L418.8,233.84 L419.13,235.7 L419.4,237.12 L419.67,238.76 L419.93,240.47 L420.2,242.22 L420.47,243.65 L420.73,245.6 L421,247.63 L421.4,248.94 L421.8,250.29 L422.2,252.09 L422.6,253.33 L423,254.82 L423.4,256.49 L423.8,258.32 L424.2,259.85 L424.6,261.68 L425,263.26 L425.4,264.85 L425.8,266.3 L426.2,267.64 L426.6,268.76 L427,269.76 L427.4,271.1 L427.8,272.05 L428.2,273.12 L428.6,274.15 L429,275.28 L429.4,276.03 L429.8,277.19 L430.2,278.11 L430.6,279.09 L431,280.15 L431.4,281.37 L431.8,282.62 L432.2,283.84 L432.6,285.38 L433,286.85 L433.4,288.27 L433.8,289.21 L434.2,290.48 L434.6,291.6 L435,292.7 L435.4,293.45 L435.8,294.71 L436.2,295.99 L436.6,297.08 L437,298.02 L437.4,299.12 L437.8,300.1 L438.2,300.74 L438.6,301.41 L439,302.2 L439.4,303.28 L439.8,304.15 L440.2,305.08 L440.6,305.8 L441,306.48 L441.4,307.11 L441.8,307.72 L442.2,308.27 L442.6,309.13 L443,309.83 L443.4,310.51 L443.8,311.07 L444.2,311.77 L444.6,312.11 L445,312.61 L445.4,313.07 L445.8,313.73 L446.2,314.2 L446.6,314.64 L447,314.83 L447.4,315.2 L447.8,315.34 L448.2,315.59 L448.6,315.78 L449,316.09 L449.4,316.21 L449.8,316.74 L450.2,317.15 L450.6,317.65 L451,318.14 L451.4,318.3 L451.8,318.15 L452.2,318.28 L452.6,318.18 L453,318.32 L453.4,318.59 L453.8,318.9 L454.2,318.85 L454.6,318.99 L455,319.08 L455.4,319.07 L455.8,319.24 L456.2,319.46 L456.6,319.84 L457,320.1 L457.4,320.45 L457.8,320.56 L458.2,320.67 L458.6,320.72 L459,321 L459.4,321.05 L459.8,321.16 L460.2,321.5 L460.6,321.81 L461,321.97 L461.4,322.21 L461.8,322.72 L462.2,322.83 L462.6,323.22 L463,323.33 L463.4,323.84 L463.8,323.4 L464.2,323.92 L464.6,323.22 L465,323.68 L465.4,323.78 L465.8,323.86 L466.2,324.22 L466.6,323.17 L467,323.58 L467.4,323.4 L467.8,323.36 L468.2,323.36 L468.6,323.18 L469,323.49 L469.4,323.87 L469.8,324.71 L470.2,324.19 L470.6,323.75 L471,324.42 L471.4,323.92 L471.8,324.45 L472.2,324.1 L472.6,324.09 L473,324.96 L473.4,324.46 L473.8,324.56 L474.2,325.34 L474.6,325.32 L475,324.88 L475.4,325.57 L475.8,325.27 L476.2,325.48 L476.6,325.13 L477,325.87 L477.4,325.71 L477.8,326.03 L478.2,326.03 L478.6,325.57 L479,325.69 L479.4,325.57 L479.8,325.61 L480.2,325.6 L480.6,325.86 L481,326.19 L481.4,325.7 L481.8,326.36 L482.2,326.1 L482.6,326.11 L483,326.6 L483.4,326.32 L483.8,326.18 L484.2,326.33 L484.6,326.52 L485,325.9 L485.4,326.69 L485.8,325.77 L486.2,326.36 L486.6,326.37 L487,325.56 L487.4,326.19 L487.8,325.77 L488.2,325.94 L488.6,325.43 L489,325.5 L489.4,325.69 L489.8,326.49 L490.2,325.94 L490.6,326.59 L491,326.91 L491.4,327.1 L491.8,326.74 L492.2,326.92 L492.6,327.24 L493,327.62 L493.4,327.15 L493.8,327.85 L494.2,328 L494.6,328.15 L495,327.49 L495.4,328.38 L495.8,327.67 L496.2,327.95 L496.6,328.25 L497,328.58 L497.4,328.11 L497.8,328.68 L498.2,328.38 L498.6,328.21 L499,328.26 L499.4,328.17 L499.8,328.12 L500.2,328.22 L500.6,328.75 L501,329.06 L501.4,328.35 L501.8,328.29 L502.2,329.17 L502.6,328.8 L503,328.73 L503.4,328.62 L503.8,328.98 L504.2,329.23 L504.6,328.94 L505,328.95 L505.4,328.66 L505.8,329.48 L506.2,328.72 L506.6,329.18 L507,329.53 L507.4,328.93 L507.8,329.52 L508.2,329.75 L508.6,329.5 L509,329.69 L509.4,329.11 L509.8,329.44 L510.2,329.23 L510.6,329.89 L511,329.43 L511.4,329.61 L511.8,330.14 L512.2,330.04 L512.6,330.19 L513,329.75 L513.4,329.81 L513.8,330.06 L514.2,329.87 L514.6,329.73 L515,329.86 L515.4,329.66 L515.8,329.89 L516.2,330.47 L516.6,330.47 L517,330.19 L517.4,330.1 L517.8,329.98 L518.2,329.78 L518.6,329.96 L519,330.44 L519.4,330.54 L519.8,330.1 L520.2,330.5 L520.6,330.5 L521,330.45 L521.4,330.43 L521.8,330.53 L522.2,330.19 L522.6,330.51 L523,330.14 L523.4,330.34 L523.8,330.61 L524.2,330.55 L524.6,330.2 L525,330.8 L525.4,330.54 L525.8,330.49 L526.2,329.99 L526.6,330.48 L527,330.22 L527.4,330.61 L527.8,330.43 L528.2,330.76 L528.6,330.61 L529,330.75 L529.4,330.35 L529.8,330.63 L530.2,330.72 L530.6,330.81 L531,330.38 L531.4,330.83 L531.8,330.86 L532.2,330.7 L532.6,330.96 L533,330.95 L533.4,330.56 L533.8,330.57 L534.2,330.25 L534.6,330.86 L535,330.95 L535.4,330.54 L535.8,330.74 L536.2,330.77 L536.6,330.78 L537,330.28 L537.4,330.83 L537.8,330.65 L538.2,330.73 L538.6,330.51 L539,330.69 L539.4,330.83 L539.8,330.71 L540.2,330.78 L540.6,330.16 L541,330.28 L541.4,330.54 L541.8,330.72 L542.2,330.34" fill="none" stroke="#1c1c1c" stroke-width="1.1" stroke-linejoin="round" />
<path d="M342.6,330.4 L343,330.4 L343.4,330.4 L343.8,330.4 L344.2,330.4 L344.6,330.4 L345,330.4 L345.4,330.4 L345.8,330.4 L346.2,330.4 L346.6,330.4 L347,330.39 L347.4,330.39 L347.8,330.39 L348.2,330.39 L348.6,330.39 L349,330.39 L349.4,330.39 L349.8,330.38 L350.2,330.38 L350.6,330.38 L351,330.38 L351.4,330.38 L351.8,330.37 L352.2,330.37 L352.6,330.37 L353,330.37 L353.4,330.36 L353.8,330.36 L354.2,330.36 L354.6,330.35 L355,330.35 L355.4,330.34 L355.8,330.34 L356.2,330.34 L356.6,330.33 L357,330.33 L357.4,330.32 L357.8,330.32 L358.2,330.31 L358.6,330.31 L359,330.3 L359.4,330.3 L359.8,330.29 L360.2,330.28 L360.6,330.28 L361,330.27 L361.4,330.27 L361.8,330.26 L362.2,330.25 L362.6,330.24 L363,330.24 L363.4,330.23 L363.8,330.22 L364.2,330.21 L364.6,330.2 L365,330.19 L365.4,330.17 L365.8,330.13 L366.2,330.07 L366.6,330 L367,329.92 L367.4,329.83 L367.8,329.73 L368.2,329.62 L368.6,329.5 L369,329.39 L369.4,329.26 L369.8,329.13 L370.2,328.98 L370.6,328.81 L371,328.61 L371.4,328.4 L371.8,328.16 L372.2,327.9 L372.6,327.63 L373,327.33 L373.4,327.02 L373.8,326.7 L374.2,326.36 L374.6,326.01 L375,325.63 L375.4,325.21 L375.8,324.74 L376.2,324.24 L376.6,323.69 L377,323.11 L377.4,322.47 L377.8,321.8 L378.2,321.07 L378.6,320.3 L379,319.44 L379.4,318.42 L379.8,317.25 L380.2,315.96 L380.6,314.58 L381,313.13 L381.4,311.63 L381.8,310.12 L382.2,308.45 L382.6,306.64 L383,304.74 L383.4,302.82 L383.8,300.94 L384.2,299.17 L384.6,297.58 L385,296.08 L385.4,294.57 L385.8,292.93 L386.2,291.06 L386.6,288.81 L387,285.97 L387.4,282.69 L387.8,279.12 L388.2,275.45 L388.6,271.83 L389,268.38 L389.4,264.84 L389.8,261.23 L390.2,257.64 L390.6,254.15 L391,250.85 L391.4,247.82 L391.8,245 L392.2,242.35 L392.6,239.78 L393,237.25 L393.4,234.7 L393.8,232.07 L394.2,229.29 L394.6,226.29 L395,223.13 L395.4,219.93 L395.8,216.77 L396.2,213.77 L396.6,211.04 L397,208.64 L397.4,206.48 L397.8,204.48 L398.2,202.61 L398.6,200.79 L399,198.94 L399.4,197.15 L399.8,195.53 L400.2,194.21 L400.6,193.25 L401,192.35 L401.4,191.51 L401.8,190.73 L402.2,190.07 L402.6,189.54 L403,189.17 L403.4,189.01 L403.8,189.08 L404.2,189.41 L404.6,189.94 L405,190.65 L405.4,191.46 L405.8,192.35 L406.2,193.25 L406.6,194.18 L407,195.31 L407.4,196.63 L407.8,198.06 L408.2,199.54 L408.6,201 L409,202.39 L409.4,203.78 L409.8,205.2 L410.2,206.62 L410.6,208.04 L411,209.45 L411.4,210.85 L411.8,212.23 L412.2,213.62 L412.6,215 L413,216.39 L413.4,217.8 L413.8,219.22 L414.2,220.64 L414.6,222.07 L415,223.52 L415.4,225 L415.8,226.51 L416.2,228.04 L416.6,229.59 L417,231.16 L417.4,232.74 L417.8,234.33 L418.2,235.92 L418.6,237.52 L419,239.11 L419.4,240.7 L419.8,242.29 L420.2,243.9 L420.6,245.52 L421,247.15 L421.4,248.77 L421.8,250.4 L422.2,252.01 L422.6,253.6 L423,255.17 L423.4,256.72 L423.8,258.25 L424.2,259.8 L424.6,261.36 L425,262.91 L425.4,264.44 L425.8,265.93 L426.2,267.38 L426.6,268.77 L427,270.08 L427.4,271.31 L427.8,272.43 L428.2,273.46 L428.6,274.41 L429,275.31 L429.4,276.2 L429.8,277.08 L430.2,277.99 L430.6,278.96 L431,280 L431.4,281.14 L431.8,282.36 L432.2,283.63 L432.6,284.95 L433,286.27 L433.4,287.59 L433.8,288.88 L434.2,290.11 L434.6,291.28 L435,292.44 L435.4,293.6 L435.8,294.75 L436.2,295.87 L436.6,296.98 L437,298.04 L437.4,299.07 L437.8,300.04 L438.2,300.96 L438.6,301.83 L439,302.66 L439.4,303.48 L439.8,304.28 L440.2,305.05 L440.6,305.8 L441,306.53 L441.4,307.23 L441.8,307.9 L442.2,308.55 L442.6,309.16 L443,309.75 L443.4,310.3 L443.8,310.83 L444.2,311.34 L444.6,311.84 L445,312.33 L445.4,312.81 L445.8,313.28 L446.2,313.73 L446.6,314.17 L447,314.6 L447.4,315 L447.8,315.39 L448.2,315.76 L448.6,316.11 L449,316.44 L449.4,316.74 L449.8,317.03 L450.2,317.28 L450.6,317.51 L451,317.73 L451.4,317.94 L451.8,318.14 L452.2,318.33 L452.6,318.5 L453,318.68 L453.4,318.84 L453.8,319 L454.2,319.15 L454.6,319.29 L455,319.43 L455.4,319.56 L455.8,319.69 L456.2,319.82 L456.6,319.95 L457,320.07 L457.4,320.19 L457.8,320.3 L458.2,320.4 L458.6,320.5 L459,320.59 L459.4,320.68 L459.8,320.77 L460.2,320.86 L460.6,320.96 L461,321.06 L461.4,321.17 L461.8,321.29 L462.2,321.42 L462.6,321.55 L463,321.69 L463.4,321.84 L463.8,321.99 L464.2,322.14 L464.6,322.29 L465,322.45 L465.4,322.6 L465.8,322.75 L466.2,322.91 L466.6,323.05 L467,323.19 L467.4,323.33 L467.8,323.46 L468.2,323.58 L468.6,323.71 L469,323.83 L469.4,323.95 L469.8,324.07 L470.2,324.18 L470.6,324.3 L471,324.42 L471.4,324.53 L471.8,324.64 L472.2,324.76 L472.6,324.87 L473,324.98 L473.4,325.09 L473.8,325.19 L474.2,325.3 L474.6,325.4 L475,325.51 L475.4,325.61 L475.8,325.71 L476.2,325.8 L476.6,325.9 L477,325.99 L477.4,326.09 L477.8,326.18 L478.2,326.26 L478.6,326.35 L479,326.44 L479.4,326.52 L479.8,326.6 L480.2,326.68 L480.6,326.75 L481,326.83 L481.4,326.91 L481.8,326.99 L482.2,327.06 L482.6,327.14 L483,327.22 L483.4,327.29 L483.8,327.37 L484.2,327.44 L484.6,327.52 L485,327.59 L485.4,327.67 L485.8,327.74 L486.2,327.81 L486.6,327.89 L487,327.96 L487.4,328.03 L487.8,328.1 L488.2,328.17 L488.6,328.24 L489,328.3 L489.4,328.37 L489.8,328.43 L490.2,328.5 L490.6,328.56 L491,328.62 L491.4,328.68 L491.8,328.74 L492.2,328.8 L492.6,328.86 L493,328.92 L493.4,328.97 L493.8,329.03 L494.2,329.08 L494.6,329.13 L495,329.18 L495.4,329.22 L495.8,329.27 L496.2,329.31 L496.6,329.36 L497,329.4 L497.4,329.44 L497.8,329.47 L498.2,329.51 L498.6,329.54 L499,329.58 L499.4,329.61 L499.8,329.63 L500.2,329.66 L500.6,329.69 L501,329.71 L501.4,329.74 L501.8,329.76 L502.2,329.79 L502.6,329.81 L503,329.83 L503.4,329.86 L503.8,329.88 L504.2,329.9 L504.6,329.93 L505,329.95 L505.4,329.97 L505.8,329.99 L506.2,330.01 L506.6,330.04 L507,330.06 L507.4,330.08 L507.8,330.1 L508.2,330.12 L508.6,330.14 L509,330.15 L509.4,330.17 L509.8,330.19 L510.2,330.21 L510.6,330.22 L511,330.24 L511.4,330.26 L511.8,330.27 L512.2,330.29 L512.6,330.3 L513,330.32 L513.4,330.33 L513.8,330.34 L514.2,330.36 L514.6,330.37 L515,330.38 L515.4,330.39 L515.8,330.4 L516.2,330.41 L516.6,330.42 L517,330.43 L517.4,330.44 L517.8,330.44 L518.2,330.45 L518.6,330.46 L519,330.46 L519.4,330.47 L519.8,330.47 L520.2,330.48 L520.6,330.48 L521,330.48 L521.4,330.49 L521.8,330.49 L522.2,330.49 L522.6,330.5 L523,330.5 L523.4,330.51 L523.8,330.51 L524.2,330.51 L524.6,330.52 L525,330.52 L525.4,330.52 L525.8,330.53 L526.2,330.53 L526.6,330.53 L527,330.53 L527.4,330.54 L527.8,330.54 L528.2,330.54 L528.6,330.55 L529,330.55 L529.4,330.55 L529.8,330.55 L530.2,330.56 L530.6,330.56 L531,330.56 L531.4,330.56 L531.8,330.56 L532.2,330.57 L532.6,330.57 L533,330.57 L533.4,330.57 L533.8,330.57 L534.2,330.58 L534.6,330.58 L535,330.58 L535.4,330.58 L535.8,330.58 L536.2,330.58 L536.6,330.58 L537,330.59 L537.4,330.59 L537.8,330.59 L538.2,330.59 L538.6,330.59 L539,330.59 L539.4,330.59 L539.8,330.59 L540.2,330.59 L540.6,330.59 L541,330.59 L541.4,330.59 L541.8,330.59 L542.2,330.59" fill="none" stroke="#ff1e1e" stroke-width="1.15" stroke-linejoin="round" />
<path d="M342.27,330.6 L342.93,330.6 L343.6,330.6 L344.26,330.6 L344.93,330.6 L345.59,330.6 L346.26,330.6 L346.92,330.6 L347.59,330.6 L348.25,330.6 L348.92,330.6 L349.58,330.6 L350.25,330.6 L350.91,330.6 L351.58,330.6 L352.24,330.6 L352.91,330.6 L353.57,330.6 L354.24,330.6 L354.9,330.6 L355.57,330.6 L356.23,330.6 L356.9,330.6 L357.56,330.6 L358.23,330.6 L358.89,330.6 L359.56,330.6 L360.22,330.6 L360.89,330.6 L361.55,330.6 L362.22,330.6 L362.88,330.6 L363.55,330.59 L364.21,330.59 L364.88,330.59 L365.54,330.58 L366.21,330.58 L366.87,330.57 L367.54,330.55 L368.2,330.54 L368.87,330.52 L369.53,330.49 L370.2,330.45 L370.86,330.4 L371.53,330.33 L372.19,330.25 L372.86,330.14 L373.52,330.01 L374.19,329.84 L374.85,329.63 L375.52,329.36 L376.18,329.04 L376.85,328.64 L377.51,328.16 L378.18,327.58 L378.84,326.89 L379.51,326.06 L380.17,325.09 L380.84,323.95 L381.5,322.62 L382.17,321.1 L382.83,319.35 L383.5,317.37 L384.16,315.14 L384.83,312.65 L385.49,309.89 L386.16,306.85 L386.82,303.55 L387.49,299.98 L388.15,296.16 L388.82,292.12 L389.48,287.87 L390.15,283.46 L390.81,278.92 L391.48,274.31 L392.14,269.68 L392.81,265.09 L393.47,260.6 L394.14,256.28 L394.8,252.2 L395.47,248.42 L396.13,245.01 L396.8,242.03 L397.46,239.52 L398.13,237.55 L398.79,236.13 L399.46,235.31 L400.12,235.09 L400.79,235.49 L401.45,236.48 L402.12,238.06 L402.78,240.2 L403.45,242.85 L404.11,245.96 L404.78,249.48 L405.44,253.36 L406.11,257.52 L406.77,261.89 L407.44,266.42 L408.1,271.03 L408.77,275.66 L409.43,280.25 L410.1,284.76 L410.76,289.12 L411.43,293.32 L412.09,297.3 L412.76,301.04 L413.42,304.53 L414.09,307.76 L414.75,310.72 L415.42,313.4 L416.08,315.81 L416.75,317.97 L417.41,319.88 L418.08,321.56 L418.74,323.03 L419.41,324.3 L420.07,325.39 L420.74,326.31 L421.4,327.1 L422.07,327.76 L422.73,328.31 L423.4,328.77 L424.06,329.14 L424.73,329.45 L425.39,329.69 L426.06,329.89 L426.72,330.05 L427.39,330.18 L428.05,330.28 L428.72,330.35 L429.38,330.41 L430.05,330.46 L430.71,330.5 L431.38,330.52 L432.04,330.54 L432.71,330.56 L433.37,330.57 L434.04,330.58 L434.7,330.58 L435.37,330.59 L436.03,330.59 L436.7,330.59 L437.36,330.6 L438.03,330.6 L438.69,330.6 L439.36,330.6 L440.02,330.6 L440.69,330.6 L441.35,330.6 L442.02,330.6 L442.68,330.6 L443.35,330.6 L444.01,330.6 L444.68,330.6 L445.34,330.6 L446.01,330.6 L446.67,330.6 L447.34,330.6 L448,330.6 L448.67,330.6 L449.33,330.6 L450,330.6 L450.66,330.6 L451.33,330.6 L451.99,330.6 L452.66,330.6 L453.32,330.6 L453.99,330.6 L454.65,330.6 L455.32,330.6 L455.98,330.6 L456.65,330.6 L457.31,330.6 L457.98,330.6 L458.64,330.6 L459.31,330.6 L459.97,330.6 L460.64,330.6 L461.3,330.6 L461.97,330.6 L462.63,330.6 L463.3,330.6 L463.96,330.6 L464.63,330.6 L465.29,330.6 L465.96,330.6 L466.62,330.6 L467.29,330.6 L467.95,330.6 L468.62,330.6 L469.28,330.6 L469.95,330.6 L470.61,330.6 L471.28,330.6 L471.94,330.6 L472.61,330.6 L473.27,330.6 L473.94,330.6 L474.6,330.6 L475.27,330.6 L475.93,330.6 L476.6,330.6 L477.26,330.6 L477.93,330.6 L478.59,330.6 L479.26,330.6 L479.92,330.6 L480.59,330.6 L481.25,330.6 L481.92,330.6 L482.58,330.6 L483.25,330.6 L483.91,330.6 L484.58,330.6 L485.24,330.6 L485.91,330.6 L486.57,330.6 L487.24,330.6 L487.9,330.6 L488.57,330.6 L489.23,330.6 L489.9,330.6 L490.56,330.6 L491.23,330.6 L491.89,330.6 L492.56,330.6 L493.22,330.6 L493.89,330.6 L494.55,330.6 L495.22,330.6 L495.88,330.6 L496.55,330.6 L497.21,330.6 L497.88,330.6 L498.54,330.6 L499.21,330.6 L499.87,330.6 L500.54,330.6 L501.2,330.6 L501.87,330.6 L502.53,330.6 L503.2,330.6 L503.86,330.6 L504.53,330.6 L505.19,330.6 L505.86,330.6 L506.52,330.6 L507.19,330.6 L507.85,330.6 L508.52,330.6 L509.18,330.6 L509.85,330.6 L510.51,330.6 L511.18,330.6 L511.84,330.6 L512.51,330.6 L513.17,330.6 L513.84,330.6 L514.5,330.6 L515.17,330.6 L515.83,330.6 L516.5,330.6 L517.16,330.6 L517.83,330.6 L518.49,330.6 L519.16,330.6 L519.82,330.6 L520.49,330.6 L521.15,330.6 L521.82,330.6 L522.48,330.6 L523.15,330.6 L523.81,330.6 L524.48,330.6 L525.14,330.6 L525.81,330.6 L526.47,330.6 L527.14,330.6 L527.8,330.6 L528.47,330.6 L529.13,330.6 L529.8,330.6 L530.46,330.6 L531.13,330.6 L531.79,330.6 L532.46,330.6 L533.12,330.6 L533.79,330.6 L534.45,330.6 L535.12,330.6 L535.78,330.6 L536.45,330.6 L537.12,330.6 L537.78,330.6 L538.45,330.6 L539.11,330.6 L539.78,330.6 L540.44,330.6 L541.11,330.6 L541.77,330.6" fill="none" stroke="#1cff1c" stroke-width="1.2" stroke-linejoin="round" />
<path d="M342.27,330.6 L342.93,330.6 L343.6,330.6 L344.26,330.6 L344.93,330.6 L345.59,330.6 L346.26,330.6 L346.92,330.6 L347.59,330.6 L348.25,330.6 L348.92,330.6 L349.58,330.6 L350.25,330.6 L350.91,330.6 L351.58,330.6 L352.24,330.6 L352.91,330.59 L353.57,330.59 L354.24,330.59 L354.9,330.59 L355.57,330.59 L356.23,330.59 L356.9,330.58 L357.56,330.58 L358.23,330.58 L358.89,330.57 L359.56,330.57 L360.22,330.56 L360.89,330.55 L361.55,330.54 L362.22,330.53 L362.88,330.52 L363.55,330.5 L364.21,330.49 L364.88,330.47 L365.54,330.44 L366.21,330.42 L366.87,330.39 L367.54,330.35 L368.2,330.31 L368.87,330.26 L369.53,330.21 L370.2,330.14 L370.86,330.07 L371.53,329.99 L372.19,329.9 L372.86,329.8 L373.52,329.68 L374.19,329.55 L374.85,329.4 L375.52,329.23 L376.18,329.05 L376.85,328.84 L377.51,328.61 L378.18,328.35 L378.84,328.07 L379.51,327.75 L380.17,327.4 L380.84,327.02 L381.5,326.6 L382.17,326.14 L382.83,325.64 L383.5,325.1 L384.16,324.5 L384.83,323.86 L385.49,323.16 L386.16,322.41 L386.82,321.61 L387.49,320.74 L388.15,319.82 L388.82,318.83 L389.48,317.78 L390.15,316.66 L390.81,315.48 L391.48,314.24 L392.14,312.92 L392.81,311.55 L393.47,310.11 L394.14,308.61 L394.8,307.04 L395.47,305.42 L396.13,303.75 L396.8,302.02 L397.46,300.25 L398.13,298.43 L398.79,296.58 L399.46,294.69 L400.12,292.78 L400.79,290.86 L401.45,288.92 L402.12,286.99 L402.78,285.05 L403.45,283.14 L404.11,281.24 L404.78,279.38 L405.44,277.56 L406.11,275.79 L406.77,274.09 L407.44,272.45 L408.1,270.89 L408.77,269.42 L409.43,268.04 L410.1,266.77 L410.76,265.61 L411.43,264.56 L412.09,263.64 L412.76,262.86 L413.42,262.2 L414.09,261.69 L414.75,261.32 L415.42,261.09 L416.08,261.01 L416.75,261.08 L417.41,261.29 L418.08,261.65 L418.74,262.15 L419.41,262.79 L420.07,263.56 L420.74,264.47 L421.4,265.5 L422.07,266.65 L422.73,267.91 L423.4,269.28 L424.06,270.74 L424.73,272.29 L425.39,273.92 L426.06,275.63 L426.72,277.39 L427.39,279.2 L428.05,281.06 L428.72,282.95 L429.38,284.87 L430.05,286.8 L430.71,288.74 L431.38,290.67 L432.04,292.6 L432.71,294.51 L433.37,296.4 L434.04,298.25 L434.7,300.07 L435.37,301.85 L436.03,303.58 L436.7,305.26 L437.36,306.89 L438.03,308.46 L438.69,309.97 L439.36,311.41 L440.02,312.79 L440.69,314.11 L441.35,315.36 L442.02,316.55 L442.68,317.67 L443.35,318.73 L444.01,319.72 L444.68,320.66 L445.34,321.53 L446.01,322.34 L446.67,323.09 L447.34,323.79 L448,324.44 L448.67,325.04 L449.33,325.59 L450,326.1 L450.66,326.56 L451.33,326.98 L451.99,327.37 L452.66,327.72 L453.32,328.04 L453.99,328.32 L454.65,328.58 L455.32,328.82 L455.98,329.03 L456.65,329.22 L457.31,329.38 L457.98,329.53 L458.64,329.67 L459.31,329.79 L459.97,329.89 L460.64,329.98 L461.3,330.07 L461.97,330.14 L462.63,330.2 L463.3,330.26 L463.96,330.3 L464.63,330.35 L465.29,330.38 L465.96,330.41 L466.62,330.44 L467.29,330.46 L467.95,330.49 L468.62,330.5 L469.28,330.52 L469.95,330.53 L470.61,330.54 L471.28,330.55 L471.94,330.56 L472.61,330.57 L473.27,330.57 L473.94,330.58 L474.6,330.58 L475.27,330.58 L475.93,330.59 L476.6,330.59 L477.26,330.59 L477.93,330.59 L478.59,330.59 L479.26,330.59 L479.92,330.6 L480.59,330.6 L481.25,330.6 L481.92,330.6 L482.58,330.6 L483.25,330.6 L483.91,330.6 L484.58,330.6 L485.24,330.6 L485.91,330.6 L486.57,330.6 L487.24,330.6 L487.9,330.6 L488.57,330.6 L489.23,330.6 L489.9,330.6 L490.56,330.6 L491.23,330.6 L491.89,330.6 L492.56,330.6 L493.22,330.6 L493.89,330.6 L494.55,330.6 L495.22,330.6 L495.88,330.6 L496.55,330.6 L497.21,330.6 L497.88,330.6 L498.54,330.6 L499.21,330.6 L499.87,330.6 L500.54,330.6 L501.2,330.6 L501.87,330.6 L502.53,330.6 L503.2,330.6 L503.86,330.6 L504.53,330.6 L505.19,330.6 L505.86,330.6 L506.52,330.6 L507.19,330.6 L507.85,330.6 L508.52,330.6 L509.18,330.6 L509.85,330.6 L510.51,330.6 L511.18,330.6 L511.84,330.6 L512.51,330.6 L513.17,330.6 L513.84,330.6 L514.5,330.6 L515.17,330.6 L515.83,330.6 L516.5,330.6 L517.16,330.6 L517.83,330.6 L518.49,330.6 L519.16,330.6 L519.82,330.6 L520.49,330.6 L521.15,330.6 L521.82,330.6 L522.48,330.6 L523.15,330.6 L523.81,330.6 L524.48,330.6 L525.14,330.6 L525.81,330.6 L526.47,330.6 L527.14,330.6 L527.8,330.6 L528.47,330.6 L529.13,330.6 L529.8,330.6 L530.46,330.6 L531.13,330.6 L531.79,330.6 L532.46,330.6 L533.12,330.6 L533.79,330.6 L534.45,330.6 L535.12,330.6 L535.78,330.6 L536.45,330.6 L537.12,330.6 L537.78,330.6 L538.45,330.6 L539.11,330.6 L539.78,330.6 L540.44,330.6 L541.11,330.6 L541.77,330.6" fill="none" stroke="#1cff1c" stroke-width="1.2" stroke-linejoin="round" />
<path d="M342.27,330.59 L342.93,330.59 L343.6,330.59 L344.26,330.59 L344.93,330.59 L345.59,330.59 L346.26,330.59 L346.92,330.59 L347.59,330.59 L348.25,330.59 L348.92,330.59 L349.58,330.58 L350.25,330.58 L350.91,330.58 L351.58,330.58 L352.24,330.58 L352.91,330.57 L353.57,330.57 L354.24,330.57 L354.9,330.57 L355.57,330.56 L356.23,330.56 L356.9,330.56 L357.56,330.55 L358.23,330.55 L358.89,330.54 L359.56,330.54 L360.22,330.53 L360.89,330.53 L361.55,330.52 L362.22,330.52 L362.88,330.51 L363.55,330.5 L364.21,330.49 L364.88,330.49 L365.54,330.48 L366.21,330.47 L366.87,330.46 L367.54,330.44 L368.2,330.43 L368.87,330.42 L369.53,330.4 L370.2,330.39 L370.86,330.37 L371.53,330.36 L372.19,330.34 L372.86,330.32 L373.52,330.3 L374.19,330.28 L374.85,330.26 L375.52,330.23 L376.18,330.21 L376.85,330.18 L377.51,330.15 L378.18,330.12 L378.84,330.09 L379.51,330.05 L380.17,330.02 L380.84,329.98 L381.5,329.94 L382.17,329.9 L382.83,329.86 L383.5,329.81 L384.16,329.76 L384.83,329.71 L385.49,329.66 L386.16,329.6 L386.82,329.55 L387.49,329.49 L388.15,329.42 L388.82,329.36 L389.48,329.29 L390.15,329.22 L390.81,329.14 L391.48,329.06 L392.14,328.98 L392.81,328.9 L393.47,328.81 L394.14,328.72 L394.8,328.63 L395.47,328.53 L396.13,328.43 L396.8,328.33 L397.46,328.22 L398.13,328.11 L398.79,328 L399.46,327.88 L400.12,327.76 L400.79,327.64 L401.45,327.51 L402.12,327.38 L402.78,327.25 L403.45,327.11 L404.11,326.97 L404.78,326.83 L405.44,326.69 L406.11,326.54 L406.77,326.39 L407.44,326.23 L408.1,326.08 L408.77,325.92 L409.43,325.76 L410.1,325.59 L410.76,325.43 L411.43,325.26 L412.09,325.09 L412.76,324.92 L413.42,324.75 L414.09,324.58 L414.75,324.4 L415.42,324.23 L416.08,324.05 L416.75,323.87 L417.41,323.7 L418.08,323.52 L418.74,323.35 L419.41,323.17 L420.07,323 L420.74,322.83 L421.4,322.65 L422.07,322.48 L422.73,322.32 L423.4,322.15 L424.06,321.99 L424.73,321.83 L425.39,321.67 L426.06,321.51 L426.72,321.36 L427.39,321.22 L428.05,321.07 L428.72,320.93 L429.38,320.8 L430.05,320.67 L430.71,320.54 L431.38,320.42 L432.04,320.31 L432.71,320.2 L433.37,320.1 L434.04,320 L434.7,319.91 L435.37,319.83 L436.03,319.75 L436.7,319.68 L437.36,319.62 L438.03,319.56 L438.69,319.51 L439.36,319.47 L440.02,319.43 L440.69,319.41 L441.35,319.39 L442.02,319.37 L442.68,319.37 L443.35,319.37 L444.01,319.38 L444.68,319.4 L445.34,319.42 L446.01,319.45 L446.67,319.49 L447.34,319.54 L448,319.59 L448.67,319.65 L449.33,319.72 L450,319.8 L450.66,319.88 L451.33,319.96 L451.99,320.06 L452.66,320.16 L453.32,320.26 L453.99,320.38 L454.65,320.49 L455.32,320.62 L455.98,320.74 L456.65,320.88 L457.31,321.01 L457.98,321.15 L458.64,321.3 L459.31,321.45 L459.97,321.6 L460.64,321.76 L461.3,321.92 L461.97,322.08 L462.63,322.25 L463.3,322.41 L463.96,322.58 L464.63,322.75 L465.29,322.93 L465.96,323.1 L466.62,323.27 L467.29,323.45 L467.95,323.63 L468.62,323.8 L469.28,323.98 L469.95,324.15 L470.61,324.33 L471.28,324.5 L471.94,324.68 L472.61,324.85 L473.27,325.02 L473.94,325.19 L474.6,325.36 L475.27,325.52 L475.93,325.69 L476.6,325.85 L477.26,326.01 L477.93,326.17 L478.59,326.32 L479.26,326.47 L479.92,326.62 L480.59,326.77 L481.25,326.91 L481.92,327.05 L482.58,327.19 L483.25,327.33 L483.91,327.46 L484.58,327.59 L485.24,327.71 L485.91,327.83 L486.57,327.95 L487.24,328.06 L487.9,328.18 L488.57,328.28 L489.23,328.39 L489.9,328.49 L490.56,328.59 L491.23,328.68 L491.89,328.77 L492.56,328.86 L493.22,328.95 L493.89,329.03 L494.55,329.11 L495.22,329.18 L495.88,329.26 L496.55,329.33 L497.21,329.39 L497.88,329.46 L498.54,329.52 L499.21,329.58 L499.87,329.64 L500.54,329.69 L501.2,329.74 L501.87,329.79 L502.53,329.84 L503.2,329.88 L503.86,329.92 L504.53,329.97 L505.19,330 L505.86,330.04 L506.52,330.07 L507.19,330.11 L507.85,330.14 L508.52,330.17 L509.18,330.2 L509.85,330.22 L510.51,330.25 L511.18,330.27 L511.84,330.29 L512.51,330.31 L513.17,330.33 L513.84,330.35 L514.5,330.37 L515.17,330.38 L515.83,330.4 L516.5,330.41 L517.16,330.43 L517.83,330.44 L518.49,330.45 L519.16,330.46 L519.82,330.47 L520.49,330.48 L521.15,330.49 L521.82,330.5 L522.48,330.51 L523.15,330.51 L523.81,330.52 L524.48,330.53 L525.14,330.53 L525.81,330.54 L526.47,330.54 L527.14,330.55 L527.8,330.55 L528.47,330.56 L529.13,330.56 L529.8,330.56 L530.46,330.57 L531.13,330.57 L531.79,330.57 L532.46,330.57 L533.12,330.58 L533.79,330.58 L534.45,330.58 L535.12,330.58 L535.78,330.58 L536.45,330.58 L537.12,330.59 L537.78,330.59 L538.45,330.59 L539.11,330.59 L539.78,330.59 L540.44,330.59 L541.11,330.59 L541.77,330.59" fill="none" stroke="#1cff1c" stroke-width="1.2" stroke-linejoin="round" />
<text x="389.85" y="187.86" font-size="9.15" font-weight="bold" font-family='"Liberation Sans", sans-serif' fill="#111" stroke="#111" stroke-width="0.17" textLength="27.99" lengthAdjust="spacing">368.89</text>
<text x="366.37" y="233.79" font-size="8.39" font-weight="bold" font-family='"Liberation Sans", sans-serif' fill="#111" stroke="#111" stroke-width="0.16" textLength="25.66" lengthAdjust="spacing">362.81</text>
<text x="425.07" y="256.69" font-size="8.37" font-weight="bold" font-family='"Liberation Sans", sans-serif' fill="#111" stroke="#111" stroke-width="0.16" textLength="25.59" lengthAdjust="spacing">391.94</text>
<text x="447.75" y="307.98" font-size="8.34" font-weight="bold" font-family='"Liberation Sans", sans-serif' fill="#111" stroke="#111" stroke-width="0.16" textLength="25.5" lengthAdjust="spacing">443.00</text>
<text transform="translate(437.85,189.5) scale(1,1.1)" font-size="8.8" font-weight="bold" font-family='"Liberation Sans", sans-serif' fill="#111" stroke="#111" stroke-width="0.16" textLength="92.83" lengthAdjust="spacing">g-C<tspan font-size="4.8" dy="3.2">3</tspan><tspan dy="-3.2">N</tspan><tspan font-size="4.8" dy="3.2">4</tspan><tspan dy="-3.2">@r-GO(NaBH</tspan><tspan font-size="4.8" dy="3.2">4</tspan><tspan dy="-3.2">)</tspan></text>
<text x="437.82" y="202.8" font-size="9.3" font-weight="bold" font-family='"Liberation Sans", sans-serif' fill="#111" stroke="#111" stroke-width="0.17" textLength="84.38" lengthAdjust="spacing">PLE at E<tspan font-size="5.2" dy="3.4">EX</tspan><tspan dy="-3.4"> = 238nm</tspan></text>
<line x1="438.2" y1="224.3" x2="462.1" y2="224.3" stroke="#1c1c1c" stroke-width="1.1"/>
<line x1="438.2" y1="235.3" x2="462.1" y2="235.3" stroke="#ff1e1e" stroke-width="1.1"/>
<text x="464.58" y="227.6" font-size="9.22" font-weight="bold" font-family='"Liberation Sans", sans-serif' fill="#111" stroke="#111" stroke-width="0.17" textLength="57.9" lengthAdjust="spacing">Experimental</text>
<text x="464.81" y="238.6" font-size="9.22" font-weight="bold" font-family='"Liberation Sans", sans-serif' fill="#111" stroke="#111" stroke-width="0.17" textLength="55.33" lengthAdjust="spacing">Gaussian Fit</text>
<text x="276.1" y="369.0" font-size="15.1" font-family='"Liberation Sans", sans-serif' fill="#111" stroke="#111" stroke-width="0.45">(e)</text>
</svg>
</body></html>
